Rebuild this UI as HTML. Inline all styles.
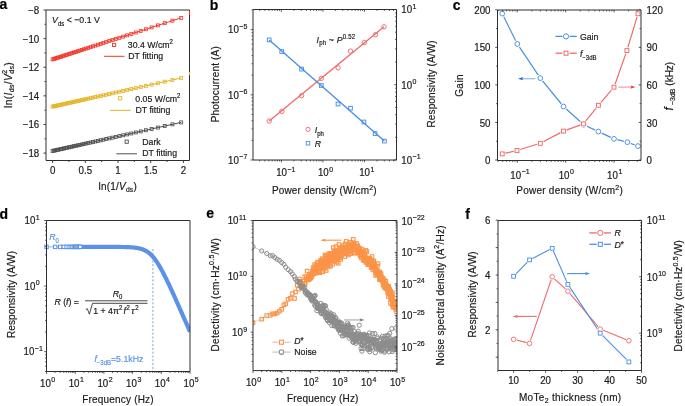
<!DOCTYPE html>
<html><head><meta charset="utf-8"><style>
html,body{margin:0;padding:0;background:#fff;width:685px;height:406px;overflow:hidden}
svg{display:block;font-family:"Liberation Sans", sans-serif;filter:blur(0.3px)}
</style></head><body>
<svg xmlns="http://www.w3.org/2000/svg" width="685" height="406" viewBox="0 0 685 406">
<rect width="685" height="406" fill="#fff"/>
<line x1="52.60" y1="59.37" x2="181.18" y2="17.87" stroke="#f2362b" stroke-width="1" />
<rect x="51.10" y="57.87" width="3.0" height="3.0" fill="none" stroke="#f2362b" stroke-width="0.8"/>
<rect x="52.42" y="57.44" width="3.0" height="3.0" fill="none" stroke="#f2362b" stroke-width="0.8"/>
<rect x="53.77" y="57.01" width="3.0" height="3.0" fill="none" stroke="#f2362b" stroke-width="0.8"/>
<rect x="55.15" y="56.56" width="3.0" height="3.0" fill="none" stroke="#f2362b" stroke-width="0.8"/>
<rect x="56.55" y="56.11" width="3.0" height="3.0" fill="none" stroke="#f2362b" stroke-width="0.8"/>
<rect x="57.99" y="55.65" width="3.0" height="3.0" fill="none" stroke="#f2362b" stroke-width="0.8"/>
<rect x="59.46" y="55.17" width="3.0" height="3.0" fill="none" stroke="#f2362b" stroke-width="0.8"/>
<rect x="60.96" y="54.69" width="3.0" height="3.0" fill="none" stroke="#f2362b" stroke-width="0.8"/>
<rect x="62.50" y="54.19" width="3.0" height="3.0" fill="none" stroke="#f2362b" stroke-width="0.8"/>
<rect x="64.08" y="53.68" width="3.0" height="3.0" fill="none" stroke="#f2362b" stroke-width="0.8"/>
<rect x="65.69" y="53.16" width="3.0" height="3.0" fill="none" stroke="#f2362b" stroke-width="0.8"/>
<rect x="67.35" y="52.63" width="3.0" height="3.0" fill="none" stroke="#f2362b" stroke-width="0.8"/>
<rect x="69.05" y="52.08" width="3.0" height="3.0" fill="none" stroke="#f2362b" stroke-width="0.8"/>
<rect x="70.79" y="51.51" width="3.0" height="3.0" fill="none" stroke="#f2362b" stroke-width="0.8"/>
<rect x="72.58" y="50.94" width="3.0" height="3.0" fill="none" stroke="#f2362b" stroke-width="0.8"/>
<rect x="74.43" y="50.34" width="3.0" height="3.0" fill="none" stroke="#f2362b" stroke-width="0.8"/>
<rect x="76.32" y="49.73" width="3.0" height="3.0" fill="none" stroke="#f2362b" stroke-width="0.8"/>
<rect x="78.27" y="49.10" width="3.0" height="3.0" fill="none" stroke="#f2362b" stroke-width="0.8"/>
<rect x="80.29" y="48.45" width="3.0" height="3.0" fill="none" stroke="#f2362b" stroke-width="0.8"/>
<rect x="82.36" y="47.78" width="3.0" height="3.0" fill="none" stroke="#f2362b" stroke-width="0.8"/>
<rect x="84.51" y="47.09" width="3.0" height="3.0" fill="none" stroke="#f2362b" stroke-width="0.8"/>
<rect x="86.73" y="46.37" width="3.0" height="3.0" fill="none" stroke="#f2362b" stroke-width="0.8"/>
<rect x="89.02" y="45.63" width="3.0" height="3.0" fill="none" stroke="#f2362b" stroke-width="0.8"/>
<rect x="91.40" y="44.86" width="3.0" height="3.0" fill="none" stroke="#f2362b" stroke-width="0.8"/>
<rect x="93.87" y="44.07" width="3.0" height="3.0" fill="none" stroke="#f2362b" stroke-width="0.8"/>
<rect x="96.43" y="43.24" width="3.0" height="3.0" fill="none" stroke="#f2362b" stroke-width="0.8"/>
<rect x="99.10" y="42.38" width="3.0" height="3.0" fill="none" stroke="#f2362b" stroke-width="0.8"/>
<rect x="101.88" y="41.48" width="3.0" height="3.0" fill="none" stroke="#f2362b" stroke-width="0.8"/>
<rect x="104.79" y="40.54" width="3.0" height="3.0" fill="none" stroke="#f2362b" stroke-width="0.8"/>
<rect x="107.83" y="39.56" width="3.0" height="3.0" fill="none" stroke="#f2362b" stroke-width="0.8"/>
<rect x="111.03" y="38.53" width="3.0" height="3.0" fill="none" stroke="#f2362b" stroke-width="0.8"/>
<rect x="114.38" y="37.45" width="3.0" height="3.0" fill="none" stroke="#f2362b" stroke-width="0.8"/>
<rect x="117.92" y="36.31" width="3.0" height="3.0" fill="none" stroke="#f2362b" stroke-width="0.8"/>
<rect x="121.65" y="35.10" width="3.0" height="3.0" fill="none" stroke="#f2362b" stroke-width="0.8"/>
<rect x="125.62" y="33.82" width="3.0" height="3.0" fill="none" stroke="#f2362b" stroke-width="0.8"/>
<rect x="129.84" y="32.46" width="3.0" height="3.0" fill="none" stroke="#f2362b" stroke-width="0.8"/>
<rect x="134.35" y="31.00" width="3.0" height="3.0" fill="none" stroke="#f2362b" stroke-width="0.8"/>
<rect x="139.20" y="29.44" width="3.0" height="3.0" fill="none" stroke="#f2362b" stroke-width="0.8"/>
<rect x="144.43" y="27.75" width="3.0" height="3.0" fill="none" stroke="#f2362b" stroke-width="0.8"/>
<rect x="150.12" y="25.91" width="3.0" height="3.0" fill="none" stroke="#f2362b" stroke-width="0.8"/>
<rect x="156.36" y="23.90" width="3.0" height="3.0" fill="none" stroke="#f2362b" stroke-width="0.8"/>
<rect x="163.25" y="21.67" width="3.0" height="3.0" fill="none" stroke="#f2362b" stroke-width="0.8"/>
<rect x="170.95" y="19.19" width="3.0" height="3.0" fill="none" stroke="#f2362b" stroke-width="0.8"/>
<rect x="179.68" y="16.37" width="3.0" height="3.0" fill="none" stroke="#f2362b" stroke-width="0.8"/>
<line x1="52.60" y1="106.59" x2="181.18" y2="78.04" stroke="#e3b323" stroke-width="1" />
<rect x="51.10" y="105.09" width="3.0" height="3.0" fill="none" stroke="#e3b323" stroke-width="0.8"/>
<rect x="52.42" y="104.80" width="3.0" height="3.0" fill="none" stroke="#e3b323" stroke-width="0.8"/>
<rect x="53.77" y="104.50" width="3.0" height="3.0" fill="none" stroke="#e3b323" stroke-width="0.8"/>
<rect x="55.15" y="104.19" width="3.0" height="3.0" fill="none" stroke="#e3b323" stroke-width="0.8"/>
<rect x="56.55" y="103.88" width="3.0" height="3.0" fill="none" stroke="#e3b323" stroke-width="0.8"/>
<rect x="57.99" y="103.56" width="3.0" height="3.0" fill="none" stroke="#e3b323" stroke-width="0.8"/>
<rect x="59.46" y="103.24" width="3.0" height="3.0" fill="none" stroke="#e3b323" stroke-width="0.8"/>
<rect x="60.96" y="102.90" width="3.0" height="3.0" fill="none" stroke="#e3b323" stroke-width="0.8"/>
<rect x="62.50" y="102.56" width="3.0" height="3.0" fill="none" stroke="#e3b323" stroke-width="0.8"/>
<rect x="64.08" y="102.21" width="3.0" height="3.0" fill="none" stroke="#e3b323" stroke-width="0.8"/>
<rect x="65.69" y="101.85" width="3.0" height="3.0" fill="none" stroke="#e3b323" stroke-width="0.8"/>
<rect x="67.35" y="101.48" width="3.0" height="3.0" fill="none" stroke="#e3b323" stroke-width="0.8"/>
<rect x="69.05" y="101.11" width="3.0" height="3.0" fill="none" stroke="#e3b323" stroke-width="0.8"/>
<rect x="70.79" y="100.72" width="3.0" height="3.0" fill="none" stroke="#e3b323" stroke-width="0.8"/>
<rect x="72.58" y="100.32" width="3.0" height="3.0" fill="none" stroke="#e3b323" stroke-width="0.8"/>
<rect x="74.43" y="99.91" width="3.0" height="3.0" fill="none" stroke="#e3b323" stroke-width="0.8"/>
<rect x="76.32" y="99.49" width="3.0" height="3.0" fill="none" stroke="#e3b323" stroke-width="0.8"/>
<rect x="78.27" y="99.06" width="3.0" height="3.0" fill="none" stroke="#e3b323" stroke-width="0.8"/>
<rect x="80.29" y="98.61" width="3.0" height="3.0" fill="none" stroke="#e3b323" stroke-width="0.8"/>
<rect x="82.36" y="98.15" width="3.0" height="3.0" fill="none" stroke="#e3b323" stroke-width="0.8"/>
<rect x="84.51" y="97.67" width="3.0" height="3.0" fill="none" stroke="#e3b323" stroke-width="0.8"/>
<rect x="86.73" y="97.18" width="3.0" height="3.0" fill="none" stroke="#e3b323" stroke-width="0.8"/>
<rect x="89.02" y="96.67" width="3.0" height="3.0" fill="none" stroke="#e3b323" stroke-width="0.8"/>
<rect x="91.40" y="96.14" width="3.0" height="3.0" fill="none" stroke="#e3b323" stroke-width="0.8"/>
<rect x="93.87" y="95.59" width="3.0" height="3.0" fill="none" stroke="#e3b323" stroke-width="0.8"/>
<rect x="96.43" y="95.02" width="3.0" height="3.0" fill="none" stroke="#e3b323" stroke-width="0.8"/>
<rect x="99.10" y="94.43" width="3.0" height="3.0" fill="none" stroke="#e3b323" stroke-width="0.8"/>
<rect x="101.88" y="93.81" width="3.0" height="3.0" fill="none" stroke="#e3b323" stroke-width="0.8"/>
<rect x="104.79" y="93.17" width="3.0" height="3.0" fill="none" stroke="#e3b323" stroke-width="0.8"/>
<rect x="107.83" y="92.49" width="3.0" height="3.0" fill="none" stroke="#e3b323" stroke-width="0.8"/>
<rect x="111.03" y="91.78" width="3.0" height="3.0" fill="none" stroke="#e3b323" stroke-width="0.8"/>
<rect x="114.38" y="91.04" width="3.0" height="3.0" fill="none" stroke="#e3b323" stroke-width="0.8"/>
<rect x="117.92" y="90.25" width="3.0" height="3.0" fill="none" stroke="#e3b323" stroke-width="0.8"/>
<rect x="121.65" y="89.42" width="3.0" height="3.0" fill="none" stroke="#e3b323" stroke-width="0.8"/>
<rect x="125.62" y="88.54" width="3.0" height="3.0" fill="none" stroke="#e3b323" stroke-width="0.8"/>
<rect x="129.84" y="87.61" width="3.0" height="3.0" fill="none" stroke="#e3b323" stroke-width="0.8"/>
<rect x="134.35" y="86.60" width="3.0" height="3.0" fill="none" stroke="#e3b323" stroke-width="0.8"/>
<rect x="139.20" y="85.53" width="3.0" height="3.0" fill="none" stroke="#e3b323" stroke-width="0.8"/>
<rect x="144.43" y="84.36" width="3.0" height="3.0" fill="none" stroke="#e3b323" stroke-width="0.8"/>
<rect x="150.12" y="83.10" width="3.0" height="3.0" fill="none" stroke="#e3b323" stroke-width="0.8"/>
<rect x="156.36" y="81.72" width="3.0" height="3.0" fill="none" stroke="#e3b323" stroke-width="0.8"/>
<rect x="163.25" y="80.19" width="3.0" height="3.0" fill="none" stroke="#e3b323" stroke-width="0.8"/>
<rect x="170.95" y="78.47" width="3.0" height="3.0" fill="none" stroke="#e3b323" stroke-width="0.8"/>
<rect x="179.68" y="76.54" width="3.0" height="3.0" fill="none" stroke="#e3b323" stroke-width="0.8"/>
<line x1="52.60" y1="150.95" x2="181.18" y2="122.40" stroke="#4d4d4d" stroke-width="1" />
<rect x="51.10" y="149.45" width="3.0" height="3.0" fill="none" stroke="#4d4d4d" stroke-width="0.8"/>
<rect x="52.42" y="149.16" width="3.0" height="3.0" fill="none" stroke="#4d4d4d" stroke-width="0.8"/>
<rect x="53.77" y="148.86" width="3.0" height="3.0" fill="none" stroke="#4d4d4d" stroke-width="0.8"/>
<rect x="55.15" y="148.55" width="3.0" height="3.0" fill="none" stroke="#4d4d4d" stroke-width="0.8"/>
<rect x="56.55" y="148.24" width="3.0" height="3.0" fill="none" stroke="#4d4d4d" stroke-width="0.8"/>
<rect x="57.99" y="147.92" width="3.0" height="3.0" fill="none" stroke="#4d4d4d" stroke-width="0.8"/>
<rect x="59.46" y="147.60" width="3.0" height="3.0" fill="none" stroke="#4d4d4d" stroke-width="0.8"/>
<rect x="60.96" y="147.26" width="3.0" height="3.0" fill="none" stroke="#4d4d4d" stroke-width="0.8"/>
<rect x="62.50" y="146.92" width="3.0" height="3.0" fill="none" stroke="#4d4d4d" stroke-width="0.8"/>
<rect x="64.08" y="146.57" width="3.0" height="3.0" fill="none" stroke="#4d4d4d" stroke-width="0.8"/>
<rect x="65.69" y="146.21" width="3.0" height="3.0" fill="none" stroke="#4d4d4d" stroke-width="0.8"/>
<rect x="67.35" y="145.84" width="3.0" height="3.0" fill="none" stroke="#4d4d4d" stroke-width="0.8"/>
<rect x="69.05" y="145.47" width="3.0" height="3.0" fill="none" stroke="#4d4d4d" stroke-width="0.8"/>
<rect x="70.79" y="145.08" width="3.0" height="3.0" fill="none" stroke="#4d4d4d" stroke-width="0.8"/>
<rect x="72.58" y="144.68" width="3.0" height="3.0" fill="none" stroke="#4d4d4d" stroke-width="0.8"/>
<rect x="74.43" y="144.27" width="3.0" height="3.0" fill="none" stroke="#4d4d4d" stroke-width="0.8"/>
<rect x="76.32" y="143.85" width="3.0" height="3.0" fill="none" stroke="#4d4d4d" stroke-width="0.8"/>
<rect x="78.27" y="143.42" width="3.0" height="3.0" fill="none" stroke="#4d4d4d" stroke-width="0.8"/>
<rect x="80.29" y="142.97" width="3.0" height="3.0" fill="none" stroke="#4d4d4d" stroke-width="0.8"/>
<rect x="82.36" y="142.51" width="3.0" height="3.0" fill="none" stroke="#4d4d4d" stroke-width="0.8"/>
<rect x="84.51" y="142.03" width="3.0" height="3.0" fill="none" stroke="#4d4d4d" stroke-width="0.8"/>
<rect x="86.73" y="141.54" width="3.0" height="3.0" fill="none" stroke="#4d4d4d" stroke-width="0.8"/>
<rect x="89.02" y="141.03" width="3.0" height="3.0" fill="none" stroke="#4d4d4d" stroke-width="0.8"/>
<rect x="91.40" y="140.50" width="3.0" height="3.0" fill="none" stroke="#4d4d4d" stroke-width="0.8"/>
<rect x="93.87" y="139.96" width="3.0" height="3.0" fill="none" stroke="#4d4d4d" stroke-width="0.8"/>
<rect x="96.43" y="139.39" width="3.0" height="3.0" fill="none" stroke="#4d4d4d" stroke-width="0.8"/>
<rect x="99.10" y="138.79" width="3.0" height="3.0" fill="none" stroke="#4d4d4d" stroke-width="0.8"/>
<rect x="101.88" y="138.17" width="3.0" height="3.0" fill="none" stroke="#4d4d4d" stroke-width="0.8"/>
<rect x="104.79" y="137.53" width="3.0" height="3.0" fill="none" stroke="#4d4d4d" stroke-width="0.8"/>
<rect x="107.83" y="136.85" width="3.0" height="3.0" fill="none" stroke="#4d4d4d" stroke-width="0.8"/>
<rect x="111.03" y="136.14" width="3.0" height="3.0" fill="none" stroke="#4d4d4d" stroke-width="0.8"/>
<rect x="114.38" y="135.40" width="3.0" height="3.0" fill="none" stroke="#4d4d4d" stroke-width="0.8"/>
<rect x="117.92" y="134.61" width="3.0" height="3.0" fill="none" stroke="#4d4d4d" stroke-width="0.8"/>
<rect x="121.65" y="133.78" width="3.0" height="3.0" fill="none" stroke="#4d4d4d" stroke-width="0.8"/>
<rect x="125.62" y="132.90" width="3.0" height="3.0" fill="none" stroke="#4d4d4d" stroke-width="0.8"/>
<rect x="129.84" y="131.97" width="3.0" height="3.0" fill="none" stroke="#4d4d4d" stroke-width="0.8"/>
<rect x="134.35" y="130.96" width="3.0" height="3.0" fill="none" stroke="#4d4d4d" stroke-width="0.8"/>
<rect x="139.20" y="129.89" width="3.0" height="3.0" fill="none" stroke="#4d4d4d" stroke-width="0.8"/>
<rect x="144.43" y="128.73" width="3.0" height="3.0" fill="none" stroke="#4d4d4d" stroke-width="0.8"/>
<rect x="150.12" y="127.46" width="3.0" height="3.0" fill="none" stroke="#4d4d4d" stroke-width="0.8"/>
<rect x="156.36" y="126.08" width="3.0" height="3.0" fill="none" stroke="#4d4d4d" stroke-width="0.8"/>
<rect x="163.25" y="124.55" width="3.0" height="3.0" fill="none" stroke="#4d4d4d" stroke-width="0.8"/>
<rect x="170.95" y="122.84" width="3.0" height="3.0" fill="none" stroke="#4d4d4d" stroke-width="0.8"/>
<rect x="179.68" y="120.90" width="3.0" height="3.0" fill="none" stroke="#4d4d4d" stroke-width="0.8"/>
<path d="M46.00,10.00 H189.50 V160.50 H46.00 Z" fill="none" stroke="#2e2e2e" stroke-width="1" stroke-linejoin="miter"/>
<line x1="189.50" y1="11.00" x2="189.50" y2="15.00" stroke="#f2362b" stroke-width="1.2" />
<line x1="189.50" y1="72.00" x2="189.50" y2="75.20" stroke="#e3b323" stroke-width="1.2" />
<line x1="43.50" y1="153.10" x2="46.00" y2="153.10" stroke="#2e2e2e" stroke-width="0.9" />
<line x1="44.50" y1="138.79" x2="46.00" y2="138.79" stroke="#2e2e2e" stroke-width="0.9" />
<line x1="43.50" y1="124.48" x2="46.00" y2="124.48" stroke="#2e2e2e" stroke-width="0.9" />
<line x1="44.50" y1="110.17" x2="46.00" y2="110.17" stroke="#2e2e2e" stroke-width="0.9" />
<line x1="43.50" y1="95.86" x2="46.00" y2="95.86" stroke="#2e2e2e" stroke-width="0.9" />
<line x1="44.50" y1="81.55" x2="46.00" y2="81.55" stroke="#2e2e2e" stroke-width="0.9" />
<line x1="43.50" y1="67.24" x2="46.00" y2="67.24" stroke="#2e2e2e" stroke-width="0.9" />
<line x1="44.50" y1="52.93" x2="46.00" y2="52.93" stroke="#2e2e2e" stroke-width="0.9" />
<line x1="43.50" y1="38.62" x2="46.00" y2="38.62" stroke="#2e2e2e" stroke-width="0.9" />
<line x1="44.50" y1="24.31" x2="46.00" y2="24.31" stroke="#2e2e2e" stroke-width="0.9" />
<line x1="43.50" y1="10.00" x2="46.00" y2="10.00" stroke="#2e2e2e" stroke-width="0.9" />
<g transform="translate(0,13.90) scale(1,1.05) translate(0,-13.90)"><text stroke="#1a1a1a" stroke-width="0.18" x="39.30" y="13.90" font-size="9.75" text-anchor="end" fill="#1a1a1a" >−8</text></g>
<g transform="translate(0,42.52) scale(1,1.05) translate(0,-42.52)"><text stroke="#1a1a1a" stroke-width="0.18" x="39.30" y="42.52" font-size="9.75" text-anchor="end" fill="#1a1a1a" >−10</text></g>
<g transform="translate(0,71.14) scale(1,1.05) translate(0,-71.14)"><text stroke="#1a1a1a" stroke-width="0.18" x="39.30" y="71.14" font-size="9.75" text-anchor="end" fill="#1a1a1a" >−12</text></g>
<g transform="translate(0,99.76) scale(1,1.05) translate(0,-99.76)"><text stroke="#1a1a1a" stroke-width="0.18" x="39.30" y="99.76" font-size="9.75" text-anchor="end" fill="#1a1a1a" >−14</text></g>
<g transform="translate(0,128.38) scale(1,1.05) translate(0,-128.38)"><text stroke="#1a1a1a" stroke-width="0.18" x="39.30" y="128.38" font-size="9.75" text-anchor="end" fill="#1a1a1a" >−16</text></g>
<g transform="translate(0,157.00) scale(1,1.05) translate(0,-157.00)"><text stroke="#1a1a1a" stroke-width="0.18" x="39.30" y="157.00" font-size="9.75" text-anchor="end" fill="#1a1a1a" >−18</text></g>
<line x1="52.60" y1="160.50" x2="52.60" y2="163.00" stroke="#2e2e2e" stroke-width="0.9" />
<line x1="68.95" y1="160.50" x2="68.95" y2="162.00" stroke="#2e2e2e" stroke-width="0.9" />
<line x1="85.30" y1="160.50" x2="85.30" y2="163.00" stroke="#2e2e2e" stroke-width="0.9" />
<line x1="101.65" y1="160.50" x2="101.65" y2="162.00" stroke="#2e2e2e" stroke-width="0.9" />
<line x1="118.00" y1="160.50" x2="118.00" y2="163.00" stroke="#2e2e2e" stroke-width="0.9" />
<line x1="134.35" y1="160.50" x2="134.35" y2="162.00" stroke="#2e2e2e" stroke-width="0.9" />
<line x1="150.70" y1="160.50" x2="150.70" y2="163.00" stroke="#2e2e2e" stroke-width="0.9" />
<line x1="167.05" y1="160.50" x2="167.05" y2="162.00" stroke="#2e2e2e" stroke-width="0.9" />
<line x1="183.40" y1="160.50" x2="183.40" y2="163.00" stroke="#2e2e2e" stroke-width="0.9" />
<g transform="translate(0,173.80) scale(1,1.05) translate(0,-173.80)"><text stroke="#1a1a1a" stroke-width="0.18" x="52.60" y="173.80" font-size="9.75" text-anchor="middle" fill="#1a1a1a" >0</text></g>
<g transform="translate(0,173.80) scale(1,1.05) translate(0,-173.80)"><text stroke="#1a1a1a" stroke-width="0.18" x="85.30" y="173.80" font-size="9.75" text-anchor="middle" fill="#1a1a1a" >0.5</text></g>
<g transform="translate(0,173.80) scale(1,1.05) translate(0,-173.80)"><text stroke="#1a1a1a" stroke-width="0.18" x="118.00" y="173.80" font-size="9.75" text-anchor="middle" fill="#1a1a1a" >1</text></g>
<g transform="translate(0,173.80) scale(1,1.05) translate(0,-173.80)"><text stroke="#1a1a1a" stroke-width="0.18" x="150.70" y="173.80" font-size="9.75" text-anchor="middle" fill="#1a1a1a" >1.5</text></g>
<g transform="translate(0,173.80) scale(1,1.05) translate(0,-173.80)"><text stroke="#1a1a1a" stroke-width="0.18" x="183.40" y="173.80" font-size="9.75" text-anchor="middle" fill="#1a1a1a" >2</text></g>
<g transform="translate(0,190.00) scale(1,1.05) translate(0,-190.00)"><text stroke="#1a1a1a" stroke-width="0.18" x="117.8" y="190" font-size="10" text-anchor="middle" letter-spacing="0.2" fill="#1a1a1a">ln(1/<tspan font-style="italic">V</tspan><tspan font-size="6.8" dy="2.3">ds</tspan><tspan dy="-2.3">)</tspan></text></g>
<text stroke="#1a1a1a" stroke-width="0.18" transform="translate(11.6,85.0) rotate(-90) scale(1,1.05)" font-size="10.3" text-anchor="middle" letter-spacing="0.35" fill="#1a1a1a">ln(<tspan font-style="italic">I</tspan><tspan font-size="7" dy="2.4">ds</tspan><tspan dy="-2.4">/</tspan><tspan font-style="italic">V</tspan><tspan font-size="7" dy="2.4">ds</tspan><tspan font-size="7" dx="-8.1" dy="-7.2">2</tspan><tspan dx="3.6" dy="4.8">)</tspan></text>
<g transform="translate(0,23.10) scale(1,1.05) translate(0,-23.10)"><text stroke="#1a1a1a" stroke-width="0.18" x="52.1" y="23.1" font-size="8.75" fill="#1a1a1a"><tspan font-style="italic">V</tspan><tspan font-size="6" dy="2.5">ds</tspan><tspan dy="-2.5"> &lt; −0.1 V</tspan></text></g>
<rect x="112.50" y="43.30" width="3.2" height="3.2" fill="none" stroke="#f2362b" stroke-width="0.9"/>
<line x1="104.10" y1="56.30" x2="124.50" y2="56.30" stroke="#f2362b" stroke-width="1" />
<g transform="translate(0,47.60) scale(1,1.05) translate(0,-47.60)"><text stroke="#1a1a1a" stroke-width="0.18" x="127.8" y="47.6" font-size="8.75" fill="#1a1a1a">30.4 W/cm<tspan font-size="6" dy="-3.5">2</tspan></text></g>
<g transform="translate(0,59.30) scale(1,1.05) translate(0,-59.30)"><text stroke="#1a1a1a" stroke-width="0.18" x="128.30" y="59.30" font-size="8.75" fill="#1a1a1a" >DT fitting</text></g>
<rect x="118.60" y="96.70" width="3.2" height="3.2" fill="none" stroke="#e3b323" stroke-width="0.9"/>
<line x1="110.00" y1="110.30" x2="130.70" y2="110.30" stroke="#e3b323" stroke-width="1" />
<g transform="translate(0,102.00) scale(1,1.05) translate(0,-102.00)"><text stroke="#1a1a1a" stroke-width="0.18" x="135.3" y="102" font-size="8.75" fill="#1a1a1a">0.05 W/cm<tspan font-size="6" dy="-3.5">2</tspan></text></g>
<g transform="translate(0,113.30) scale(1,1.05) translate(0,-113.30)"><text stroke="#1a1a1a" stroke-width="0.18" x="135.50" y="113.30" font-size="8.75" fill="#1a1a1a" >DT fitting</text></g>
<rect x="125.10" y="140.10" width="3.2" height="3.2" fill="none" stroke="#4d4d4d" stroke-width="0.9"/>
<line x1="116.40" y1="153.80" x2="137.00" y2="153.80" stroke="#4d4d4d" stroke-width="1" />
<g transform="translate(0,144.80) scale(1,1.05) translate(0,-144.80)"><text stroke="#1a1a1a" stroke-width="0.18" x="142.20" y="144.80" font-size="8.75" fill="#1a1a1a" >Dark</text></g>
<g transform="translate(0,156.40) scale(1,1.05) translate(0,-156.40)"><text stroke="#1a1a1a" stroke-width="0.18" x="142.20" y="156.40" font-size="8.75" fill="#1a1a1a" >DT fitting</text></g>
<g transform="translate(0,9.00) scale(1,1.05) translate(0,-9.00)"><text stroke="#000" stroke-width="0.18" x="-0.5" y="9" font-size="14" font-weight="bold" fill="#000">a</text></g>
<line x1="269.20" y1="121.00" x2="384.00" y2="26.80" stroke="#f06a6a" stroke-width="1.35" />
<circle cx="269.20" cy="121.00" r="2.2" fill="none" stroke="#f06a6a" stroke-width="0.95"/>
<circle cx="281.80" cy="111.40" r="2.2" fill="none" stroke="#f06a6a" stroke-width="0.95"/>
<circle cx="301.60" cy="95.70" r="2.2" fill="none" stroke="#f06a6a" stroke-width="0.95"/>
<circle cx="321.30" cy="78.40" r="2.2" fill="none" stroke="#f06a6a" stroke-width="0.95"/>
<circle cx="338.10" cy="67.80" r="2.2" fill="none" stroke="#f06a6a" stroke-width="0.95"/>
<circle cx="350.50" cy="51.10" r="2.2" fill="none" stroke="#f06a6a" stroke-width="0.95"/>
<circle cx="364.30" cy="42.60" r="2.2" fill="none" stroke="#f06a6a" stroke-width="0.95"/>
<circle cx="375.50" cy="34.70" r="2.2" fill="none" stroke="#f06a6a" stroke-width="0.95"/>
<circle cx="384.00" cy="26.80" r="2.2" fill="none" stroke="#f06a6a" stroke-width="0.95"/>
<line x1="269.20" y1="39.90" x2="384.40" y2="141.10" stroke="#4a8fe3" stroke-width="1.35" />
<rect x="267.35" y="38.05" width="3.7" height="3.7" fill="none" stroke="#4a8fe3" stroke-width="0.95"/>
<rect x="279.95" y="49.75" width="3.7" height="3.7" fill="none" stroke="#4a8fe3" stroke-width="0.95"/>
<rect x="299.75" y="67.25" width="3.7" height="3.7" fill="none" stroke="#4a8fe3" stroke-width="0.95"/>
<rect x="319.45" y="83.65" width="3.7" height="3.7" fill="none" stroke="#4a8fe3" stroke-width="0.95"/>
<rect x="336.15" y="102.15" width="3.7" height="3.7" fill="none" stroke="#4a8fe3" stroke-width="0.95"/>
<rect x="348.65" y="106.35" width="3.7" height="3.7" fill="none" stroke="#4a8fe3" stroke-width="0.95"/>
<rect x="362.05" y="120.15" width="3.7" height="3.7" fill="none" stroke="#4a8fe3" stroke-width="0.95"/>
<rect x="373.25" y="131.75" width="3.7" height="3.7" fill="none" stroke="#4a8fe3" stroke-width="0.95"/>
<rect x="382.55" y="139.25" width="3.7" height="3.7" fill="none" stroke="#4a8fe3" stroke-width="0.95"/>
<path d="M253.00,9.50 H396.50 V160.00 H253.00 Z" fill="none" stroke="#2e2e2e" stroke-width="1" stroke-linejoin="miter"/>
<line x1="259.67" y1="160.00" x2="259.67" y2="161.40" stroke="#2e2e2e" stroke-width="0.8" />
<line x1="259.67" y1="9.50" x2="259.67" y2="10.90" stroke="#2e2e2e" stroke-width="0.8" />
<line x1="264.87" y1="160.00" x2="264.87" y2="161.40" stroke="#2e2e2e" stroke-width="0.8" />
<line x1="264.87" y1="9.50" x2="264.87" y2="10.90" stroke="#2e2e2e" stroke-width="0.8" />
<line x1="268.89" y1="160.00" x2="268.89" y2="161.40" stroke="#2e2e2e" stroke-width="0.8" />
<line x1="268.89" y1="9.50" x2="268.89" y2="10.90" stroke="#2e2e2e" stroke-width="0.8" />
<line x1="272.18" y1="160.00" x2="272.18" y2="161.40" stroke="#2e2e2e" stroke-width="0.8" />
<line x1="272.18" y1="9.50" x2="272.18" y2="10.90" stroke="#2e2e2e" stroke-width="0.8" />
<line x1="274.96" y1="160.00" x2="274.96" y2="161.40" stroke="#2e2e2e" stroke-width="0.8" />
<line x1="274.96" y1="9.50" x2="274.96" y2="10.90" stroke="#2e2e2e" stroke-width="0.8" />
<line x1="277.37" y1="160.00" x2="277.37" y2="161.40" stroke="#2e2e2e" stroke-width="0.8" />
<line x1="277.37" y1="9.50" x2="277.37" y2="10.90" stroke="#2e2e2e" stroke-width="0.8" />
<line x1="279.50" y1="160.00" x2="279.50" y2="161.40" stroke="#2e2e2e" stroke-width="0.8" />
<line x1="279.50" y1="9.50" x2="279.50" y2="10.90" stroke="#2e2e2e" stroke-width="0.8" />
<line x1="281.40" y1="160.00" x2="281.40" y2="162.30" stroke="#2e2e2e" stroke-width="0.8" />
<line x1="281.40" y1="9.50" x2="281.40" y2="11.80" stroke="#2e2e2e" stroke-width="0.8" />
<line x1="293.91" y1="160.00" x2="293.91" y2="161.40" stroke="#2e2e2e" stroke-width="0.8" />
<line x1="293.91" y1="9.50" x2="293.91" y2="10.90" stroke="#2e2e2e" stroke-width="0.8" />
<line x1="301.22" y1="160.00" x2="301.22" y2="161.40" stroke="#2e2e2e" stroke-width="0.8" />
<line x1="301.22" y1="9.50" x2="301.22" y2="10.90" stroke="#2e2e2e" stroke-width="0.8" />
<line x1="306.42" y1="160.00" x2="306.42" y2="161.40" stroke="#2e2e2e" stroke-width="0.8" />
<line x1="306.42" y1="9.50" x2="306.42" y2="10.90" stroke="#2e2e2e" stroke-width="0.8" />
<line x1="310.44" y1="160.00" x2="310.44" y2="161.40" stroke="#2e2e2e" stroke-width="0.8" />
<line x1="310.44" y1="9.50" x2="310.44" y2="10.90" stroke="#2e2e2e" stroke-width="0.8" />
<line x1="313.73" y1="160.00" x2="313.73" y2="161.40" stroke="#2e2e2e" stroke-width="0.8" />
<line x1="313.73" y1="9.50" x2="313.73" y2="10.90" stroke="#2e2e2e" stroke-width="0.8" />
<line x1="316.51" y1="160.00" x2="316.51" y2="161.40" stroke="#2e2e2e" stroke-width="0.8" />
<line x1="316.51" y1="9.50" x2="316.51" y2="10.90" stroke="#2e2e2e" stroke-width="0.8" />
<line x1="318.92" y1="160.00" x2="318.92" y2="161.40" stroke="#2e2e2e" stroke-width="0.8" />
<line x1="318.92" y1="9.50" x2="318.92" y2="10.90" stroke="#2e2e2e" stroke-width="0.8" />
<line x1="321.05" y1="160.00" x2="321.05" y2="161.40" stroke="#2e2e2e" stroke-width="0.8" />
<line x1="321.05" y1="9.50" x2="321.05" y2="10.90" stroke="#2e2e2e" stroke-width="0.8" />
<line x1="322.95" y1="160.00" x2="322.95" y2="162.30" stroke="#2e2e2e" stroke-width="0.8" />
<line x1="322.95" y1="9.50" x2="322.95" y2="11.80" stroke="#2e2e2e" stroke-width="0.8" />
<line x1="335.46" y1="160.00" x2="335.46" y2="161.40" stroke="#2e2e2e" stroke-width="0.8" />
<line x1="335.46" y1="9.50" x2="335.46" y2="10.90" stroke="#2e2e2e" stroke-width="0.8" />
<line x1="342.77" y1="160.00" x2="342.77" y2="161.40" stroke="#2e2e2e" stroke-width="0.8" />
<line x1="342.77" y1="9.50" x2="342.77" y2="10.90" stroke="#2e2e2e" stroke-width="0.8" />
<line x1="347.97" y1="160.00" x2="347.97" y2="161.40" stroke="#2e2e2e" stroke-width="0.8" />
<line x1="347.97" y1="9.50" x2="347.97" y2="10.90" stroke="#2e2e2e" stroke-width="0.8" />
<line x1="351.99" y1="160.00" x2="351.99" y2="161.40" stroke="#2e2e2e" stroke-width="0.8" />
<line x1="351.99" y1="9.50" x2="351.99" y2="10.90" stroke="#2e2e2e" stroke-width="0.8" />
<line x1="355.28" y1="160.00" x2="355.28" y2="161.40" stroke="#2e2e2e" stroke-width="0.8" />
<line x1="355.28" y1="9.50" x2="355.28" y2="10.90" stroke="#2e2e2e" stroke-width="0.8" />
<line x1="358.06" y1="160.00" x2="358.06" y2="161.40" stroke="#2e2e2e" stroke-width="0.8" />
<line x1="358.06" y1="9.50" x2="358.06" y2="10.90" stroke="#2e2e2e" stroke-width="0.8" />
<line x1="360.47" y1="160.00" x2="360.47" y2="161.40" stroke="#2e2e2e" stroke-width="0.8" />
<line x1="360.47" y1="9.50" x2="360.47" y2="10.90" stroke="#2e2e2e" stroke-width="0.8" />
<line x1="362.60" y1="160.00" x2="362.60" y2="161.40" stroke="#2e2e2e" stroke-width="0.8" />
<line x1="362.60" y1="9.50" x2="362.60" y2="10.90" stroke="#2e2e2e" stroke-width="0.8" />
<line x1="364.50" y1="160.00" x2="364.50" y2="162.30" stroke="#2e2e2e" stroke-width="0.8" />
<line x1="364.50" y1="9.50" x2="364.50" y2="11.80" stroke="#2e2e2e" stroke-width="0.8" />
<line x1="377.01" y1="160.00" x2="377.01" y2="161.40" stroke="#2e2e2e" stroke-width="0.8" />
<line x1="377.01" y1="9.50" x2="377.01" y2="10.90" stroke="#2e2e2e" stroke-width="0.8" />
<line x1="384.32" y1="160.00" x2="384.32" y2="161.40" stroke="#2e2e2e" stroke-width="0.8" />
<line x1="384.32" y1="9.50" x2="384.32" y2="10.90" stroke="#2e2e2e" stroke-width="0.8" />
<line x1="389.52" y1="160.00" x2="389.52" y2="161.40" stroke="#2e2e2e" stroke-width="0.8" />
<line x1="389.52" y1="9.50" x2="389.52" y2="10.90" stroke="#2e2e2e" stroke-width="0.8" />
<line x1="393.54" y1="160.00" x2="393.54" y2="161.40" stroke="#2e2e2e" stroke-width="0.8" />
<line x1="393.54" y1="9.50" x2="393.54" y2="10.90" stroke="#2e2e2e" stroke-width="0.8" />
<g transform="translate(0,176.30) scale(1,1.05) translate(0,-176.30)"><text stroke="#1a1a1a" stroke-width="0.18" x="276.20" y="176.30" font-size="9.75" fill="#1a1a1a">10<tspan font-size="7.0" dx="0.5" dy="-4.2">−1</tspan></text></g>
<g transform="translate(0,176.30) scale(1,1.05) translate(0,-176.30)"><text stroke="#1a1a1a" stroke-width="0.18" x="317.90" y="176.30" font-size="9.75" fill="#1a1a1a">10<tspan font-size="7.0" dx="0.5" dy="-4.2">0</tspan></text></g>
<g transform="translate(0,176.30) scale(1,1.05) translate(0,-176.30)"><text stroke="#1a1a1a" stroke-width="0.18" x="359.20" y="176.30" font-size="9.75" fill="#1a1a1a">10<tspan font-size="7.0" dx="0.5" dy="-4.2">1</tspan></text></g>
<line x1="250.70" y1="160.00" x2="253.00" y2="160.00" stroke="#2e2e2e" stroke-width="0.8" />
<line x1="251.60" y1="140.37" x2="253.00" y2="140.37" stroke="#2e2e2e" stroke-width="0.8" />
<line x1="251.60" y1="128.89" x2="253.00" y2="128.89" stroke="#2e2e2e" stroke-width="0.8" />
<line x1="251.60" y1="120.75" x2="253.00" y2="120.75" stroke="#2e2e2e" stroke-width="0.8" />
<line x1="251.60" y1="114.43" x2="253.00" y2="114.43" stroke="#2e2e2e" stroke-width="0.8" />
<line x1="251.60" y1="109.26" x2="253.00" y2="109.26" stroke="#2e2e2e" stroke-width="0.8" />
<line x1="251.60" y1="104.90" x2="253.00" y2="104.90" stroke="#2e2e2e" stroke-width="0.8" />
<line x1="251.60" y1="101.12" x2="253.00" y2="101.12" stroke="#2e2e2e" stroke-width="0.8" />
<line x1="251.60" y1="97.78" x2="253.00" y2="97.78" stroke="#2e2e2e" stroke-width="0.8" />
<line x1="250.70" y1="94.80" x2="253.00" y2="94.80" stroke="#2e2e2e" stroke-width="0.8" />
<line x1="251.60" y1="75.17" x2="253.00" y2="75.17" stroke="#2e2e2e" stroke-width="0.8" />
<line x1="251.60" y1="63.69" x2="253.00" y2="63.69" stroke="#2e2e2e" stroke-width="0.8" />
<line x1="251.60" y1="55.55" x2="253.00" y2="55.55" stroke="#2e2e2e" stroke-width="0.8" />
<line x1="251.60" y1="49.23" x2="253.00" y2="49.23" stroke="#2e2e2e" stroke-width="0.8" />
<line x1="251.60" y1="44.06" x2="253.00" y2="44.06" stroke="#2e2e2e" stroke-width="0.8" />
<line x1="251.60" y1="39.70" x2="253.00" y2="39.70" stroke="#2e2e2e" stroke-width="0.8" />
<line x1="251.60" y1="35.92" x2="253.00" y2="35.92" stroke="#2e2e2e" stroke-width="0.8" />
<line x1="251.60" y1="32.58" x2="253.00" y2="32.58" stroke="#2e2e2e" stroke-width="0.8" />
<line x1="250.70" y1="29.60" x2="253.00" y2="29.60" stroke="#2e2e2e" stroke-width="0.8" />
<line x1="251.60" y1="9.97" x2="253.00" y2="9.97" stroke="#2e2e2e" stroke-width="0.8" />
<g transform="translate(0,33.50) scale(1,1.05) translate(0,-33.50)"><text stroke="#1a1a1a" stroke-width="0.18" x="228.00" y="33.50" font-size="9.75" fill="#1a1a1a">10<tspan font-size="7.0" dx="0.5" dy="-4.2">−5</tspan></text></g>
<g transform="translate(0,98.70) scale(1,1.05) translate(0,-98.70)"><text stroke="#1a1a1a" stroke-width="0.18" x="228.00" y="98.70" font-size="9.75" fill="#1a1a1a">10<tspan font-size="7.0" dx="0.5" dy="-4.2">−6</tspan></text></g>
<g transform="translate(0,163.90) scale(1,1.05) translate(0,-163.90)"><text stroke="#1a1a1a" stroke-width="0.18" x="228.00" y="163.90" font-size="9.75" fill="#1a1a1a">10<tspan font-size="7.0" dx="0.5" dy="-4.2">−7</tspan></text></g>
<line x1="394.20" y1="160.00" x2="396.50" y2="160.00" stroke="#2e2e2e" stroke-width="0.8" />
<line x1="395.10" y1="137.35" x2="396.50" y2="137.35" stroke="#2e2e2e" stroke-width="0.8" />
<line x1="395.10" y1="124.10" x2="396.50" y2="124.10" stroke="#2e2e2e" stroke-width="0.8" />
<line x1="395.10" y1="114.69" x2="396.50" y2="114.69" stroke="#2e2e2e" stroke-width="0.8" />
<line x1="395.10" y1="107.40" x2="396.50" y2="107.40" stroke="#2e2e2e" stroke-width="0.8" />
<line x1="395.10" y1="101.44" x2="396.50" y2="101.44" stroke="#2e2e2e" stroke-width="0.8" />
<line x1="395.10" y1="96.41" x2="396.50" y2="96.41" stroke="#2e2e2e" stroke-width="0.8" />
<line x1="395.10" y1="92.04" x2="396.50" y2="92.04" stroke="#2e2e2e" stroke-width="0.8" />
<line x1="395.10" y1="88.19" x2="396.50" y2="88.19" stroke="#2e2e2e" stroke-width="0.8" />
<line x1="394.20" y1="84.75" x2="396.50" y2="84.75" stroke="#2e2e2e" stroke-width="0.8" />
<line x1="395.10" y1="62.10" x2="396.50" y2="62.10" stroke="#2e2e2e" stroke-width="0.8" />
<line x1="395.10" y1="48.85" x2="396.50" y2="48.85" stroke="#2e2e2e" stroke-width="0.8" />
<line x1="395.10" y1="39.44" x2="396.50" y2="39.44" stroke="#2e2e2e" stroke-width="0.8" />
<line x1="395.10" y1="32.15" x2="396.50" y2="32.15" stroke="#2e2e2e" stroke-width="0.8" />
<line x1="395.10" y1="26.19" x2="396.50" y2="26.19" stroke="#2e2e2e" stroke-width="0.8" />
<line x1="395.10" y1="21.16" x2="396.50" y2="21.16" stroke="#2e2e2e" stroke-width="0.8" />
<line x1="395.10" y1="16.79" x2="396.50" y2="16.79" stroke="#2e2e2e" stroke-width="0.8" />
<line x1="395.10" y1="12.94" x2="396.50" y2="12.94" stroke="#2e2e2e" stroke-width="0.8" />
<line x1="394.20" y1="9.50" x2="396.50" y2="9.50" stroke="#2e2e2e" stroke-width="0.8" />
<g transform="translate(0,13.40) scale(1,1.05) translate(0,-13.40)"><text stroke="#1a1a1a" stroke-width="0.18" x="401.30" y="13.40" font-size="9.75" fill="#1a1a1a">10<tspan font-size="7.0" dx="0.5" dy="-4.2">1</tspan></text></g>
<g transform="translate(0,88.65) scale(1,1.05) translate(0,-88.65)"><text stroke="#1a1a1a" stroke-width="0.18" x="401.30" y="88.65" font-size="9.75" fill="#1a1a1a">10<tspan font-size="7.0" dx="0.5" dy="-4.2">0</tspan></text></g>
<g transform="translate(0,163.90) scale(1,1.05) translate(0,-163.90)"><text stroke="#1a1a1a" stroke-width="0.18" x="401.30" y="163.90" font-size="9.75" fill="#1a1a1a">10<tspan font-size="7.0" dx="0.5" dy="-4.2">−1</tspan></text></g>
<text stroke="#1a1a1a" stroke-width="0.18" transform="translate(219.30,84.20) rotate(-90) scale(1,1.05)" font-size="10" text-anchor="middle" letter-spacing="0.18" fill="#1a1a1a">Photocurrent (A)</text>
<text stroke="#1a1a1a" stroke-width="0.18" transform="translate(434.80,83.90) rotate(-90) scale(1,1.05)" font-size="10" text-anchor="middle" letter-spacing="0.12" fill="#1a1a1a">Responsivity (A/W)</text>
<g transform="translate(0,193.80) scale(1,1.05) translate(0,-193.80)"><text stroke="#1a1a1a" stroke-width="0.18" x="271.9" y="193.8" font-size="10" letter-spacing="0.15" fill="#1a1a1a">Power density (W/cm<tspan font-size="7.0" dy="-4">2</tspan><tspan dy="4">)</tspan></text></g>
<g transform="translate(0,42.60) scale(1,1.05) translate(0,-42.60)"><text stroke="#1a1a1a" stroke-width="0.18" x="316.5" y="42.6" font-size="8.75" letter-spacing="0.2" fill="#1a1a1a"><tspan font-style="italic">I</tspan><tspan font-size="6" dy="2.3">ph</tspan><tspan dy="-2.3"> ~ </tspan><tspan font-style="italic">P</tspan><tspan font-size="6" dy="-3.6">0.52</tspan></text></g>
<circle cx="308.00" cy="129.40" r="2.1" fill="#fff" stroke="#f06a6a" stroke-width="0.9"/>
<g transform="translate(0,133.40) scale(1,1.05) translate(0,-133.40)"><text stroke="#1a1a1a" stroke-width="0.18" x="314.8" y="133.4" font-size="8.75" fill="#1a1a1a"><tspan font-style="italic">I</tspan><tspan font-size="6" dy="2.3">ph</tspan></text></g>
<rect x="306.20" y="141.40" width="3.6" height="3.6" fill="#fff" stroke="#4a8fe3" stroke-width="0.9"/>
<g transform="translate(0,146.60) scale(1,1.05) translate(0,-146.60)"><text stroke="#1a1a1a" stroke-width="0.18" x="314.8" y="146.6" font-size="8.75" fill="#1a1a1a" font-style="italic">R</text></g>
<g transform="translate(0,10.30) scale(1,1.05) translate(0,-10.30)"><text stroke="#000" stroke-width="0.18" x="209.8" y="10.3" font-size="14" font-weight="bold" fill="#000">b</text></g>
<polyline points="502.20,13.60 517.30,43.90 540.30,78.10 563.50,106.50 583.70,124.70 598.40,131.60 614.00,138.90 627.40,142.20 638.00,146.10" fill="none" stroke="#4a8fe3" stroke-width="1.2" stroke-linejoin="round" />
<circle cx="502.20" cy="13.60" r="3.58" fill="#fff"/>
<circle cx="502.20" cy="13.60" r="2.4" fill="#fff" stroke="#4a8fe3" stroke-width="0.95"/>
<circle cx="517.30" cy="43.90" r="3.58" fill="#fff"/>
<circle cx="517.30" cy="43.90" r="2.4" fill="#fff" stroke="#4a8fe3" stroke-width="0.95"/>
<circle cx="540.30" cy="78.10" r="3.58" fill="#fff"/>
<circle cx="540.30" cy="78.10" r="2.4" fill="#fff" stroke="#4a8fe3" stroke-width="0.95"/>
<circle cx="563.50" cy="106.50" r="3.58" fill="#fff"/>
<circle cx="563.50" cy="106.50" r="2.4" fill="#fff" stroke="#4a8fe3" stroke-width="0.95"/>
<circle cx="583.70" cy="124.70" r="3.58" fill="#fff"/>
<circle cx="583.70" cy="124.70" r="2.4" fill="#fff" stroke="#4a8fe3" stroke-width="0.95"/>
<circle cx="598.40" cy="131.60" r="3.58" fill="#fff"/>
<circle cx="598.40" cy="131.60" r="2.4" fill="#fff" stroke="#4a8fe3" stroke-width="0.95"/>
<circle cx="614.00" cy="138.90" r="3.58" fill="#fff"/>
<circle cx="614.00" cy="138.90" r="2.4" fill="#fff" stroke="#4a8fe3" stroke-width="0.95"/>
<circle cx="627.40" cy="142.20" r="3.58" fill="#fff"/>
<circle cx="627.40" cy="142.20" r="2.4" fill="#fff" stroke="#4a8fe3" stroke-width="0.95"/>
<circle cx="638.00" cy="146.10" r="3.58" fill="#fff"/>
<circle cx="638.00" cy="146.10" r="2.4" fill="#fff" stroke="#4a8fe3" stroke-width="0.95"/>
<polyline points="502.20,153.90 517.00,150.50 540.30,143.30 563.50,131.10 583.40,123.90 598.40,105.30 614.00,87.20 626.90,50.60 638.00,13.80" fill="none" stroke="#f06a6a" stroke-width="1.2" stroke-linejoin="round" />
<rect x="499.07" y="150.78" width="6.25" height="6.25" fill="#fff"/>
<rect x="500.25" y="151.95" width="3.9" height="3.9" fill="#fff" stroke="#f06a6a" stroke-width="0.95"/>
<rect x="513.88" y="147.38" width="6.25" height="6.25" fill="#fff"/>
<rect x="515.05" y="148.55" width="3.9" height="3.9" fill="#fff" stroke="#f06a6a" stroke-width="0.95"/>
<rect x="537.17" y="140.18" width="6.25" height="6.25" fill="#fff"/>
<rect x="538.35" y="141.35" width="3.9" height="3.9" fill="#fff" stroke="#f06a6a" stroke-width="0.95"/>
<rect x="560.38" y="127.97" width="6.25" height="6.25" fill="#fff"/>
<rect x="561.55" y="129.15" width="3.9" height="3.9" fill="#fff" stroke="#f06a6a" stroke-width="0.95"/>
<rect x="580.27" y="120.78" width="6.25" height="6.25" fill="#fff"/>
<rect x="581.45" y="121.95" width="3.9" height="3.9" fill="#fff" stroke="#f06a6a" stroke-width="0.95"/>
<rect x="595.27" y="102.17" width="6.25" height="6.25" fill="#fff"/>
<rect x="596.45" y="103.35" width="3.9" height="3.9" fill="#fff" stroke="#f06a6a" stroke-width="0.95"/>
<rect x="610.88" y="84.08" width="6.25" height="6.25" fill="#fff"/>
<rect x="612.05" y="85.25" width="3.9" height="3.9" fill="#fff" stroke="#f06a6a" stroke-width="0.95"/>
<rect x="623.77" y="47.48" width="6.25" height="6.25" fill="#fff"/>
<rect x="624.95" y="48.65" width="3.9" height="3.9" fill="#fff" stroke="#f06a6a" stroke-width="0.95"/>
<rect x="634.88" y="10.68" width="6.25" height="6.25" fill="#fff"/>
<rect x="636.05" y="11.85" width="3.9" height="3.9" fill="#fff" stroke="#f06a6a" stroke-width="0.95"/>
<path d="M497.50,10.00 H641.00 V160.50 H497.50 Z" fill="none" stroke="#2e2e2e" stroke-width="1" stroke-linejoin="miter"/>
<line x1="498.04" y1="160.50" x2="498.04" y2="161.90" stroke="#2e2e2e" stroke-width="0.8" />
<line x1="498.04" y1="10.00" x2="498.04" y2="11.40" stroke="#2e2e2e" stroke-width="0.8" />
<line x1="502.73" y1="160.50" x2="502.73" y2="161.90" stroke="#2e2e2e" stroke-width="0.8" />
<line x1="502.73" y1="10.00" x2="502.73" y2="11.40" stroke="#2e2e2e" stroke-width="0.8" />
<line x1="506.56" y1="160.50" x2="506.56" y2="161.90" stroke="#2e2e2e" stroke-width="0.8" />
<line x1="506.56" y1="10.00" x2="506.56" y2="11.40" stroke="#2e2e2e" stroke-width="0.8" />
<line x1="509.80" y1="160.50" x2="509.80" y2="161.90" stroke="#2e2e2e" stroke-width="0.8" />
<line x1="509.80" y1="10.00" x2="509.80" y2="11.40" stroke="#2e2e2e" stroke-width="0.8" />
<line x1="512.61" y1="160.50" x2="512.61" y2="161.90" stroke="#2e2e2e" stroke-width="0.8" />
<line x1="512.61" y1="10.00" x2="512.61" y2="11.40" stroke="#2e2e2e" stroke-width="0.8" />
<line x1="515.09" y1="160.50" x2="515.09" y2="161.90" stroke="#2e2e2e" stroke-width="0.8" />
<line x1="515.09" y1="10.00" x2="515.09" y2="11.40" stroke="#2e2e2e" stroke-width="0.8" />
<line x1="517.30" y1="160.50" x2="517.30" y2="162.80" stroke="#2e2e2e" stroke-width="0.8" />
<line x1="517.30" y1="10.00" x2="517.30" y2="12.30" stroke="#2e2e2e" stroke-width="0.8" />
<line x1="531.87" y1="160.50" x2="531.87" y2="161.90" stroke="#2e2e2e" stroke-width="0.8" />
<line x1="531.87" y1="10.00" x2="531.87" y2="11.40" stroke="#2e2e2e" stroke-width="0.8" />
<line x1="540.39" y1="160.50" x2="540.39" y2="161.90" stroke="#2e2e2e" stroke-width="0.8" />
<line x1="540.39" y1="10.00" x2="540.39" y2="11.40" stroke="#2e2e2e" stroke-width="0.8" />
<line x1="546.44" y1="160.50" x2="546.44" y2="161.90" stroke="#2e2e2e" stroke-width="0.8" />
<line x1="546.44" y1="10.00" x2="546.44" y2="11.40" stroke="#2e2e2e" stroke-width="0.8" />
<line x1="551.13" y1="160.50" x2="551.13" y2="161.90" stroke="#2e2e2e" stroke-width="0.8" />
<line x1="551.13" y1="10.00" x2="551.13" y2="11.40" stroke="#2e2e2e" stroke-width="0.8" />
<line x1="554.96" y1="160.50" x2="554.96" y2="161.90" stroke="#2e2e2e" stroke-width="0.8" />
<line x1="554.96" y1="10.00" x2="554.96" y2="11.40" stroke="#2e2e2e" stroke-width="0.8" />
<line x1="558.20" y1="160.50" x2="558.20" y2="161.90" stroke="#2e2e2e" stroke-width="0.8" />
<line x1="558.20" y1="10.00" x2="558.20" y2="11.40" stroke="#2e2e2e" stroke-width="0.8" />
<line x1="561.01" y1="160.50" x2="561.01" y2="161.90" stroke="#2e2e2e" stroke-width="0.8" />
<line x1="561.01" y1="10.00" x2="561.01" y2="11.40" stroke="#2e2e2e" stroke-width="0.8" />
<line x1="563.49" y1="160.50" x2="563.49" y2="161.90" stroke="#2e2e2e" stroke-width="0.8" />
<line x1="563.49" y1="10.00" x2="563.49" y2="11.40" stroke="#2e2e2e" stroke-width="0.8" />
<line x1="565.70" y1="160.50" x2="565.70" y2="162.80" stroke="#2e2e2e" stroke-width="0.8" />
<line x1="565.70" y1="10.00" x2="565.70" y2="12.30" stroke="#2e2e2e" stroke-width="0.8" />
<line x1="580.27" y1="160.50" x2="580.27" y2="161.90" stroke="#2e2e2e" stroke-width="0.8" />
<line x1="580.27" y1="10.00" x2="580.27" y2="11.40" stroke="#2e2e2e" stroke-width="0.8" />
<line x1="588.79" y1="160.50" x2="588.79" y2="161.90" stroke="#2e2e2e" stroke-width="0.8" />
<line x1="588.79" y1="10.00" x2="588.79" y2="11.40" stroke="#2e2e2e" stroke-width="0.8" />
<line x1="594.84" y1="160.50" x2="594.84" y2="161.90" stroke="#2e2e2e" stroke-width="0.8" />
<line x1="594.84" y1="10.00" x2="594.84" y2="11.40" stroke="#2e2e2e" stroke-width="0.8" />
<line x1="599.53" y1="160.50" x2="599.53" y2="161.90" stroke="#2e2e2e" stroke-width="0.8" />
<line x1="599.53" y1="10.00" x2="599.53" y2="11.40" stroke="#2e2e2e" stroke-width="0.8" />
<line x1="603.36" y1="160.50" x2="603.36" y2="161.90" stroke="#2e2e2e" stroke-width="0.8" />
<line x1="603.36" y1="10.00" x2="603.36" y2="11.40" stroke="#2e2e2e" stroke-width="0.8" />
<line x1="606.60" y1="160.50" x2="606.60" y2="161.90" stroke="#2e2e2e" stroke-width="0.8" />
<line x1="606.60" y1="10.00" x2="606.60" y2="11.40" stroke="#2e2e2e" stroke-width="0.8" />
<line x1="609.41" y1="160.50" x2="609.41" y2="161.90" stroke="#2e2e2e" stroke-width="0.8" />
<line x1="609.41" y1="10.00" x2="609.41" y2="11.40" stroke="#2e2e2e" stroke-width="0.8" />
<line x1="611.89" y1="160.50" x2="611.89" y2="161.90" stroke="#2e2e2e" stroke-width="0.8" />
<line x1="611.89" y1="10.00" x2="611.89" y2="11.40" stroke="#2e2e2e" stroke-width="0.8" />
<line x1="614.10" y1="160.50" x2="614.10" y2="162.80" stroke="#2e2e2e" stroke-width="0.8" />
<line x1="614.10" y1="10.00" x2="614.10" y2="12.30" stroke="#2e2e2e" stroke-width="0.8" />
<line x1="628.67" y1="160.50" x2="628.67" y2="161.90" stroke="#2e2e2e" stroke-width="0.8" />
<line x1="628.67" y1="10.00" x2="628.67" y2="11.40" stroke="#2e2e2e" stroke-width="0.8" />
<line x1="637.19" y1="160.50" x2="637.19" y2="161.90" stroke="#2e2e2e" stroke-width="0.8" />
<line x1="637.19" y1="10.00" x2="637.19" y2="11.40" stroke="#2e2e2e" stroke-width="0.8" />
<g transform="translate(0,178.60) scale(1,1.05) translate(0,-178.60)"><text stroke="#1a1a1a" stroke-width="0.18" x="510.30" y="178.60" font-size="9.75" fill="#1a1a1a">10<tspan font-size="7.0" dx="0.5" dy="-4.2">−1</tspan></text></g>
<g transform="translate(0,178.60) scale(1,1.05) translate(0,-178.60)"><text stroke="#1a1a1a" stroke-width="0.18" x="558.70" y="178.60" font-size="9.75" fill="#1a1a1a">10<tspan font-size="7.0" dx="0.5" dy="-4.2">0</tspan></text></g>
<g transform="translate(0,178.60) scale(1,1.05) translate(0,-178.60)"><text stroke="#1a1a1a" stroke-width="0.18" x="607.10" y="178.60" font-size="9.75" fill="#1a1a1a">10<tspan font-size="7.0" dx="0.5" dy="-4.2">1</tspan></text></g>
<line x1="495.20" y1="160.00" x2="497.50" y2="160.00" stroke="#2e2e2e" stroke-width="0.8" />
<line x1="496.10" y1="141.22" x2="497.50" y2="141.22" stroke="#2e2e2e" stroke-width="0.8" />
<line x1="495.20" y1="122.45" x2="497.50" y2="122.45" stroke="#2e2e2e" stroke-width="0.8" />
<line x1="496.10" y1="103.67" x2="497.50" y2="103.67" stroke="#2e2e2e" stroke-width="0.8" />
<line x1="495.20" y1="84.90" x2="497.50" y2="84.90" stroke="#2e2e2e" stroke-width="0.8" />
<line x1="496.10" y1="66.12" x2="497.50" y2="66.12" stroke="#2e2e2e" stroke-width="0.8" />
<line x1="495.20" y1="47.35" x2="497.50" y2="47.35" stroke="#2e2e2e" stroke-width="0.8" />
<line x1="496.10" y1="28.57" x2="497.50" y2="28.57" stroke="#2e2e2e" stroke-width="0.8" />
<line x1="495.20" y1="9.80" x2="497.50" y2="9.80" stroke="#2e2e2e" stroke-width="0.8" />
<g transform="translate(0,13.90) scale(1,1.05) translate(0,-13.90)"><text stroke="#1a1a1a" stroke-width="0.18" x="490.50" y="13.90" font-size="9.75" text-anchor="end" fill="#1a1a1a" >200</text></g>
<g transform="translate(0,51.45) scale(1,1.05) translate(0,-51.45)"><text stroke="#1a1a1a" stroke-width="0.18" x="490.50" y="51.45" font-size="9.75" text-anchor="end" fill="#1a1a1a" >150</text></g>
<g transform="translate(0,89.00) scale(1,1.05) translate(0,-89.00)"><text stroke="#1a1a1a" stroke-width="0.18" x="490.50" y="89.00" font-size="9.75" text-anchor="end" fill="#1a1a1a" >100</text></g>
<g transform="translate(0,126.55) scale(1,1.05) translate(0,-126.55)"><text stroke="#1a1a1a" stroke-width="0.18" x="490.50" y="126.55" font-size="9.75" text-anchor="end" fill="#1a1a1a" >50</text></g>
<g transform="translate(0,164.10) scale(1,1.05) translate(0,-164.10)"><text stroke="#1a1a1a" stroke-width="0.18" x="490.50" y="164.10" font-size="9.75" text-anchor="end" fill="#1a1a1a" >0</text></g>
<line x1="638.70" y1="160.00" x2="641.00" y2="160.00" stroke="#2e2e2e" stroke-width="0.8" />
<line x1="639.60" y1="141.22" x2="641.00" y2="141.22" stroke="#2e2e2e" stroke-width="0.8" />
<line x1="638.70" y1="122.45" x2="641.00" y2="122.45" stroke="#2e2e2e" stroke-width="0.8" />
<line x1="639.60" y1="103.68" x2="641.00" y2="103.68" stroke="#2e2e2e" stroke-width="0.8" />
<line x1="638.70" y1="84.90" x2="641.00" y2="84.90" stroke="#2e2e2e" stroke-width="0.8" />
<line x1="639.60" y1="66.13" x2="641.00" y2="66.13" stroke="#2e2e2e" stroke-width="0.8" />
<line x1="638.70" y1="47.35" x2="641.00" y2="47.35" stroke="#2e2e2e" stroke-width="0.8" />
<line x1="639.60" y1="28.58" x2="641.00" y2="28.58" stroke="#2e2e2e" stroke-width="0.8" />
<line x1="638.70" y1="9.80" x2="641.00" y2="9.80" stroke="#2e2e2e" stroke-width="0.8" />
<g transform="translate(0,13.90) scale(1,1.05) translate(0,-13.90)"><text stroke="#1a1a1a" stroke-width="0.18" x="646.60" y="13.90" font-size="9.75" fill="#1a1a1a" >120</text></g>
<g transform="translate(0,51.45) scale(1,1.05) translate(0,-51.45)"><text stroke="#1a1a1a" stroke-width="0.18" x="646.60" y="51.45" font-size="9.75" fill="#1a1a1a" >90</text></g>
<g transform="translate(0,89.00) scale(1,1.05) translate(0,-89.00)"><text stroke="#1a1a1a" stroke-width="0.18" x="646.60" y="89.00" font-size="9.75" fill="#1a1a1a" >60</text></g>
<g transform="translate(0,126.55) scale(1,1.05) translate(0,-126.55)"><text stroke="#1a1a1a" stroke-width="0.18" x="646.60" y="126.55" font-size="9.75" fill="#1a1a1a" >30</text></g>
<g transform="translate(0,164.10) scale(1,1.05) translate(0,-164.10)"><text stroke="#1a1a1a" stroke-width="0.18" x="646.60" y="164.10" font-size="9.75" fill="#1a1a1a" >0</text></g>
<text stroke="#1a1a1a" stroke-width="0.18" transform="translate(462.80,85.40) rotate(-90) scale(1,1.05)" font-size="10" text-anchor="middle" letter-spacing="0.45" fill="#1a1a1a">Gain</text>
<text stroke="#1a1a1a" stroke-width="0.18" transform="translate(672.80,86.20) rotate(-90) scale(1,1.05)" font-size="10" text-anchor="middle" fill="#1a1a1a"><tspan font-style="italic" font-size="11.5">f</tspan><tspan font-size="7.0" dx="2.4" dy="2.3">−3dB</tspan><tspan dy="-2.3"> (kHz)</tspan></text>
<g transform="translate(0,194.20) scale(1,1.05) translate(0,-194.20)"><text stroke="#1a1a1a" stroke-width="0.18" x="516.3" y="194.2" font-size="10" letter-spacing="0.24" fill="#1a1a1a">Power density (W/cm<tspan font-size="7.0" dy="-4">2</tspan><tspan dy="4">)</tspan></text></g>
<line x1="555.50" y1="36.40" x2="562.40" y2="36.40" stroke="#4a8fe3" stroke-width="1.3" />
<line x1="569.60" y1="36.40" x2="576.80" y2="36.40" stroke="#4a8fe3" stroke-width="1.3" />
<circle cx="566.00" cy="36.40" r="2.6" fill="#fff" stroke="#4a8fe3" stroke-width="1.0"/>
<g transform="translate(0,40.00) scale(1,1.05) translate(0,-40.00)"><text stroke="#1a1a1a" stroke-width="0.18" x="579.90" y="40.00" font-size="8.75" fill="#1a1a1a" >Gain</text></g>
<line x1="555.50" y1="53.20" x2="562.40" y2="53.20" stroke="#f06a6a" stroke-width="1.3" />
<line x1="569.60" y1="53.20" x2="576.80" y2="53.20" stroke="#f06a6a" stroke-width="1.3" />
<rect x="564.00" y="51.20" width="4.0" height="4.0" fill="#fff" stroke="#f06a6a" stroke-width="1.0"/>
<g transform="translate(0,57.00) scale(1,1.05) translate(0,-57.00)"><text stroke="#1a1a1a" stroke-width="0.18" x="579.9" y="57" font-size="8.75" fill="#1a1a1a"><tspan font-style="italic">f</tspan><tspan font-size="6" dy="3.3">−3dB</tspan></text></g>
<line x1="535.30" y1="78.70" x2="521.64" y2="78.70" stroke="#9cc0f2" stroke-width="1.3" />
<path d="M518.00,78.70 L523.20,77.10 L522.16,78.70 L523.20,80.30 Z" fill="#1f66d6"/>
<line x1="618.20" y1="87.10" x2="631.96" y2="87.10" stroke="#f6a3a8" stroke-width="1.3" />
<path d="M635.60,87.10 L630.40,85.50 L631.44,87.10 L630.40,88.70 Z" fill="#ec3a44"/>
<g transform="translate(0,9.60) scale(1,1.05) translate(0,-9.60)"><text stroke="#000" stroke-width="0.18" x="452.8" y="9.6" font-size="14" font-weight="bold" fill="#000">c</text></g>
<clipPath id="cd"><rect x="46.5" y="220.5" width="143.5" height="151.0"/></clipPath>
<line x1="46.50" y1="246.89" x2="80.94" y2="246.89" stroke="#5b92e8" stroke-width="0.7" />
<polyline points="79.83,246.89 75.20,246.89 75.77,246.89 76.35,246.89 76.92,246.89 77.50,246.89 78.07,246.89 78.64,246.89 79.22,246.89 79.79,246.89 80.37,246.89 80.94,246.89 81.51,246.89 82.09,246.89 82.66,246.89 83.24,246.89 83.81,246.89 84.38,246.89 84.96,246.89 85.53,246.89 86.11,246.89 86.68,246.89 87.25,246.89 87.83,246.89 88.40,246.89 88.98,246.89 89.55,246.89 90.12,246.89 90.70,246.89 91.27,246.89 91.85,246.89 92.42,246.89 92.99,246.89 93.57,246.89 94.14,246.89 94.72,246.89 95.29,246.89 95.86,246.89 96.44,246.89 97.01,246.89 97.59,246.89 98.16,246.89 98.73,246.89 99.31,246.89 99.88,246.89 100.46,246.89 101.03,246.89 101.60,246.89 102.18,246.90 102.75,246.90 103.33,246.90 103.90,246.90 104.47,246.90 105.05,246.90 105.62,246.90 106.20,246.90 106.77,246.90 107.34,246.90 107.92,246.90 108.49,246.90 109.07,246.90 109.64,246.90 110.21,246.91 110.79,246.91 111.36,246.91 111.94,246.91 112.51,246.91 113.08,246.92 113.66,246.92 114.23,246.92 114.81,246.92 115.38,246.93 115.95,246.93 116.53,246.93 117.10,246.94 117.68,246.94 118.25,246.95 118.82,246.95 119.40,246.96 119.97,246.96 120.55,246.97 121.12,246.98 121.69,246.99 122.27,247.00 122.84,247.01 123.42,247.02 123.99,247.03 124.56,247.04 125.14,247.06 125.71,247.07 126.29,247.09 126.86,247.11 127.43,247.13 128.01,247.15 128.58,247.18 129.16,247.20 129.73,247.23 130.30,247.27 130.88,247.30 131.45,247.34 132.03,247.38 132.60,247.43 133.17,247.48 133.75,247.53 134.32,247.60 134.90,247.66 135.47,247.73 136.04,247.81 136.62,247.90 137.19,247.99 137.77,248.09 138.34,248.20 138.91,248.32 139.49,248.46 140.06,248.60 140.64,248.75 141.21,248.92 141.78,249.10 142.36,249.30 142.93,249.51 143.51,249.74 144.08,249.99 144.65,250.25 145.23,250.54 145.80,250.84 146.38,251.17 146.95,251.53 147.52,251.90 148.10,252.30 148.67,252.73 149.25,253.19 149.82,253.67 150.39,254.18 150.97,254.72 151.54,255.29 152.12,255.89 152.69,256.52 153.26,257.18 153.84,257.87 154.41,258.59 154.99,259.34 155.56,260.12 156.13,260.92 156.71,261.76 157.28,262.62 157.86,263.52 158.43,264.43 159.00,265.37 159.58,266.34 160.15,267.33 160.73,268.34 161.30,269.37 161.87,270.42 162.45,271.49 163.02,272.58 163.60,273.68 164.17,274.80 164.74,275.93 165.32,277.08 165.89,278.24 166.47,279.41 167.04,280.60 167.61,281.79 168.19,283.00 168.76,284.21 169.34,285.43 169.91,286.66 170.48,287.89 171.06,289.13 171.63,290.38 172.21,291.63 172.78,292.89 173.35,294.15 173.93,295.42 174.50,296.69 175.08,297.96 175.65,299.24 176.22,300.52 176.80,301.80 177.37,303.09 177.95,304.38 178.52,305.67 179.09,306.96 179.67,308.25 180.24,309.55 180.82,310.84 181.39,312.14 181.96,313.44 182.54,314.74 183.11,316.04 183.69,317.34 184.26,318.65 184.83,319.95 185.41,321.26 185.98,322.56 186.56,323.87 187.13,325.17 187.70,326.48 188.28,327.79 188.85,329.10 189.43,330.40 190.00,331.71" fill="none" stroke="#5b92e8" stroke-width="4.2" stroke-linejoin="round" clip-path="url(#cd)" stroke-linecap="butt"/>
<rect x="44.80" y="245.19" width="3.4" height="3.4" fill="#fff" stroke="#5b92e8" stroke-width="1.0"/>
<rect x="53.44" y="245.19" width="3.4" height="3.4" fill="#fff" stroke="#5b92e8" stroke-width="1.0"/>
<rect x="58.49" y="245.19" width="3.4" height="3.4" fill="#fff" stroke="#5b92e8" stroke-width="1.0"/>
<rect x="62.08" y="245.19" width="3.4" height="3.4" fill="#fff" stroke="#5b92e8" stroke-width="1.0"/>
<rect x="64.86" y="245.19" width="3.4" height="3.4" fill="#fff" stroke="#5b92e8" stroke-width="1.0"/>
<rect x="67.13" y="245.19" width="3.4" height="3.4" fill="#fff" stroke="#5b92e8" stroke-width="1.0"/>
<rect x="69.05" y="245.19" width="3.4" height="3.4" fill="#fff" stroke="#5b92e8" stroke-width="1.0"/>
<rect x="70.72" y="245.19" width="3.4" height="3.4" fill="#fff" stroke="#5b92e8" stroke-width="1.0"/>
<rect x="72.19" y="245.19" width="3.4" height="3.4" fill="#fff" stroke="#5b92e8" stroke-width="1.0"/>
<rect x="73.50" y="245.19" width="3.4" height="3.4" fill="#fff" stroke="#5b92e8" stroke-width="1.0"/>
<rect x="74.69" y="245.19" width="3.4" height="3.4" fill="#fff" stroke="#5b92e8" stroke-width="1.0"/>
<rect x="75.77" y="245.19" width="3.4" height="3.4" fill="#fff" stroke="#5b92e8" stroke-width="1.0"/>
<rect x="76.77" y="245.19" width="3.4" height="3.4" fill="#fff" stroke="#5b92e8" stroke-width="1.0"/>
<rect x="77.69" y="245.19" width="3.4" height="3.4" fill="#fff" stroke="#5b92e8" stroke-width="1.0"/>
<rect x="78.55" y="245.19" width="3.4" height="3.4" fill="#fff" stroke="#5b92e8" stroke-width="1.0"/>
<line x1="152.91" y1="249.00" x2="152.91" y2="371.50" stroke="#5b92e8" stroke-width="0.8" stroke-dasharray="2.2,1.6"/>
<path d="M46.50,220.50 H190.00 V371.50 H46.50 Z" fill="none" stroke="#2e2e2e" stroke-width="1" stroke-linejoin="miter"/>
<line x1="46.50" y1="371.50" x2="46.50" y2="373.80" stroke="#2e2e2e" stroke-width="0.8" />
<line x1="55.14" y1="371.50" x2="55.14" y2="372.90" stroke="#2e2e2e" stroke-width="0.8" />
<line x1="60.19" y1="371.50" x2="60.19" y2="372.90" stroke="#2e2e2e" stroke-width="0.8" />
<line x1="63.78" y1="371.50" x2="63.78" y2="372.90" stroke="#2e2e2e" stroke-width="0.8" />
<line x1="66.56" y1="371.50" x2="66.56" y2="372.90" stroke="#2e2e2e" stroke-width="0.8" />
<line x1="68.83" y1="371.50" x2="68.83" y2="372.90" stroke="#2e2e2e" stroke-width="0.8" />
<line x1="70.75" y1="371.50" x2="70.75" y2="372.90" stroke="#2e2e2e" stroke-width="0.8" />
<line x1="72.42" y1="371.50" x2="72.42" y2="372.90" stroke="#2e2e2e" stroke-width="0.8" />
<line x1="73.89" y1="371.50" x2="73.89" y2="372.90" stroke="#2e2e2e" stroke-width="0.8" />
<line x1="75.20" y1="371.50" x2="75.20" y2="373.80" stroke="#2e2e2e" stroke-width="0.8" />
<line x1="83.84" y1="371.50" x2="83.84" y2="372.90" stroke="#2e2e2e" stroke-width="0.8" />
<line x1="88.89" y1="371.50" x2="88.89" y2="372.90" stroke="#2e2e2e" stroke-width="0.8" />
<line x1="92.48" y1="371.50" x2="92.48" y2="372.90" stroke="#2e2e2e" stroke-width="0.8" />
<line x1="95.26" y1="371.50" x2="95.26" y2="372.90" stroke="#2e2e2e" stroke-width="0.8" />
<line x1="97.53" y1="371.50" x2="97.53" y2="372.90" stroke="#2e2e2e" stroke-width="0.8" />
<line x1="99.45" y1="371.50" x2="99.45" y2="372.90" stroke="#2e2e2e" stroke-width="0.8" />
<line x1="101.12" y1="371.50" x2="101.12" y2="372.90" stroke="#2e2e2e" stroke-width="0.8" />
<line x1="102.59" y1="371.50" x2="102.59" y2="372.90" stroke="#2e2e2e" stroke-width="0.8" />
<line x1="103.90" y1="371.50" x2="103.90" y2="373.80" stroke="#2e2e2e" stroke-width="0.8" />
<line x1="112.54" y1="371.50" x2="112.54" y2="372.90" stroke="#2e2e2e" stroke-width="0.8" />
<line x1="117.59" y1="371.50" x2="117.59" y2="372.90" stroke="#2e2e2e" stroke-width="0.8" />
<line x1="121.18" y1="371.50" x2="121.18" y2="372.90" stroke="#2e2e2e" stroke-width="0.8" />
<line x1="123.96" y1="371.50" x2="123.96" y2="372.90" stroke="#2e2e2e" stroke-width="0.8" />
<line x1="126.23" y1="371.50" x2="126.23" y2="372.90" stroke="#2e2e2e" stroke-width="0.8" />
<line x1="128.15" y1="371.50" x2="128.15" y2="372.90" stroke="#2e2e2e" stroke-width="0.8" />
<line x1="129.82" y1="371.50" x2="129.82" y2="372.90" stroke="#2e2e2e" stroke-width="0.8" />
<line x1="131.29" y1="371.50" x2="131.29" y2="372.90" stroke="#2e2e2e" stroke-width="0.8" />
<line x1="132.60" y1="371.50" x2="132.60" y2="373.80" stroke="#2e2e2e" stroke-width="0.8" />
<line x1="141.24" y1="371.50" x2="141.24" y2="372.90" stroke="#2e2e2e" stroke-width="0.8" />
<line x1="146.29" y1="371.50" x2="146.29" y2="372.90" stroke="#2e2e2e" stroke-width="0.8" />
<line x1="149.88" y1="371.50" x2="149.88" y2="372.90" stroke="#2e2e2e" stroke-width="0.8" />
<line x1="152.66" y1="371.50" x2="152.66" y2="372.90" stroke="#2e2e2e" stroke-width="0.8" />
<line x1="154.93" y1="371.50" x2="154.93" y2="372.90" stroke="#2e2e2e" stroke-width="0.8" />
<line x1="156.85" y1="371.50" x2="156.85" y2="372.90" stroke="#2e2e2e" stroke-width="0.8" />
<line x1="158.52" y1="371.50" x2="158.52" y2="372.90" stroke="#2e2e2e" stroke-width="0.8" />
<line x1="159.99" y1="371.50" x2="159.99" y2="372.90" stroke="#2e2e2e" stroke-width="0.8" />
<line x1="161.30" y1="371.50" x2="161.30" y2="373.80" stroke="#2e2e2e" stroke-width="0.8" />
<line x1="169.94" y1="371.50" x2="169.94" y2="372.90" stroke="#2e2e2e" stroke-width="0.8" />
<line x1="174.99" y1="371.50" x2="174.99" y2="372.90" stroke="#2e2e2e" stroke-width="0.8" />
<line x1="178.58" y1="371.50" x2="178.58" y2="372.90" stroke="#2e2e2e" stroke-width="0.8" />
<line x1="181.36" y1="371.50" x2="181.36" y2="372.90" stroke="#2e2e2e" stroke-width="0.8" />
<line x1="183.63" y1="371.50" x2="183.63" y2="372.90" stroke="#2e2e2e" stroke-width="0.8" />
<line x1="185.55" y1="371.50" x2="185.55" y2="372.90" stroke="#2e2e2e" stroke-width="0.8" />
<line x1="187.22" y1="371.50" x2="187.22" y2="372.90" stroke="#2e2e2e" stroke-width="0.8" />
<line x1="188.69" y1="371.50" x2="188.69" y2="372.90" stroke="#2e2e2e" stroke-width="0.8" />
<line x1="190.00" y1="371.50" x2="190.00" y2="373.80" stroke="#2e2e2e" stroke-width="0.8" />
<line x1="45.10" y1="371.45" x2="46.50" y2="371.45" stroke="#2e2e2e" stroke-width="0.8" />
<line x1="45.10" y1="366.25" x2="46.50" y2="366.25" stroke="#2e2e2e" stroke-width="0.8" />
<line x1="45.10" y1="361.86" x2="46.50" y2="361.86" stroke="#2e2e2e" stroke-width="0.8" />
<line x1="45.10" y1="358.06" x2="46.50" y2="358.06" stroke="#2e2e2e" stroke-width="0.8" />
<line x1="45.10" y1="354.70" x2="46.50" y2="354.70" stroke="#2e2e2e" stroke-width="0.8" />
<line x1="44.20" y1="351.70" x2="46.50" y2="351.70" stroke="#2e2e2e" stroke-width="0.8" />
<line x1="45.10" y1="331.95" x2="46.50" y2="331.95" stroke="#2e2e2e" stroke-width="0.8" />
<line x1="45.10" y1="320.40" x2="46.50" y2="320.40" stroke="#2e2e2e" stroke-width="0.8" />
<line x1="45.10" y1="312.20" x2="46.50" y2="312.20" stroke="#2e2e2e" stroke-width="0.8" />
<line x1="45.10" y1="305.85" x2="46.50" y2="305.85" stroke="#2e2e2e" stroke-width="0.8" />
<line x1="45.10" y1="300.65" x2="46.50" y2="300.65" stroke="#2e2e2e" stroke-width="0.8" />
<line x1="45.10" y1="296.26" x2="46.50" y2="296.26" stroke="#2e2e2e" stroke-width="0.8" />
<line x1="45.10" y1="292.46" x2="46.50" y2="292.46" stroke="#2e2e2e" stroke-width="0.8" />
<line x1="45.10" y1="289.10" x2="46.50" y2="289.10" stroke="#2e2e2e" stroke-width="0.8" />
<line x1="44.20" y1="286.10" x2="46.50" y2="286.10" stroke="#2e2e2e" stroke-width="0.8" />
<line x1="45.10" y1="266.35" x2="46.50" y2="266.35" stroke="#2e2e2e" stroke-width="0.8" />
<line x1="45.10" y1="254.80" x2="46.50" y2="254.80" stroke="#2e2e2e" stroke-width="0.8" />
<line x1="45.10" y1="246.60" x2="46.50" y2="246.60" stroke="#2e2e2e" stroke-width="0.8" />
<line x1="45.10" y1="240.25" x2="46.50" y2="240.25" stroke="#2e2e2e" stroke-width="0.8" />
<line x1="45.10" y1="235.05" x2="46.50" y2="235.05" stroke="#2e2e2e" stroke-width="0.8" />
<line x1="45.10" y1="230.66" x2="46.50" y2="230.66" stroke="#2e2e2e" stroke-width="0.8" />
<line x1="45.10" y1="226.86" x2="46.50" y2="226.86" stroke="#2e2e2e" stroke-width="0.8" />
<line x1="45.10" y1="223.50" x2="46.50" y2="223.50" stroke="#2e2e2e" stroke-width="0.8" />
<line x1="44.20" y1="220.50" x2="46.50" y2="220.50" stroke="#2e2e2e" stroke-width="0.8" />
<g transform="translate(0,386.80) scale(1,1.05) translate(0,-386.80)"><text stroke="#1a1a1a" stroke-width="0.18" x="40.00" y="386.80" font-size="9.75" fill="#1a1a1a">10<tspan font-size="7.0" dx="0.5" dy="-4.2">0</tspan></text></g>
<g transform="translate(0,386.80) scale(1,1.05) translate(0,-386.80)"><text stroke="#1a1a1a" stroke-width="0.18" x="68.70" y="386.80" font-size="9.75" fill="#1a1a1a">10<tspan font-size="7.0" dx="0.5" dy="-4.2">1</tspan></text></g>
<g transform="translate(0,386.80) scale(1,1.05) translate(0,-386.80)"><text stroke="#1a1a1a" stroke-width="0.18" x="97.40" y="386.80" font-size="9.75" fill="#1a1a1a">10<tspan font-size="7.0" dx="0.5" dy="-4.2">2</tspan></text></g>
<g transform="translate(0,386.80) scale(1,1.05) translate(0,-386.80)"><text stroke="#1a1a1a" stroke-width="0.18" x="126.10" y="386.80" font-size="9.75" fill="#1a1a1a">10<tspan font-size="7.0" dx="0.5" dy="-4.2">3</tspan></text></g>
<g transform="translate(0,386.80) scale(1,1.05) translate(0,-386.80)"><text stroke="#1a1a1a" stroke-width="0.18" x="154.80" y="386.80" font-size="9.75" fill="#1a1a1a">10<tspan font-size="7.0" dx="0.5" dy="-4.2">4</tspan></text></g>
<g transform="translate(0,386.80) scale(1,1.05) translate(0,-386.80)"><text stroke="#1a1a1a" stroke-width="0.18" x="183.50" y="386.80" font-size="9.75" fill="#1a1a1a">10<tspan font-size="7.0" dx="0.5" dy="-4.2">5</tspan></text></g>
<g transform="translate(0,224.30) scale(1,1.05) translate(0,-224.30)"><text stroke="#1a1a1a" stroke-width="0.18" x="24.50" y="224.30" font-size="9.75" fill="#1a1a1a">10<tspan font-size="7.0" dx="0.5" dy="-4.2">1</tspan></text></g>
<g transform="translate(0,289.90) scale(1,1.05) translate(0,-289.90)"><text stroke="#1a1a1a" stroke-width="0.18" x="24.50" y="289.90" font-size="9.75" fill="#1a1a1a">10<tspan font-size="7.0" dx="0.5" dy="-4.2">0</tspan></text></g>
<g transform="translate(0,355.50) scale(1,1.05) translate(0,-355.50)"><text stroke="#1a1a1a" stroke-width="0.18" x="23.50" y="355.50" font-size="9.75" fill="#1a1a1a">10<tspan font-size="7.0" dx="0.5" dy="-4.2">−1</tspan></text></g>
<text stroke="#1a1a1a" stroke-width="0.18" transform="translate(14.80,294.50) rotate(-90) scale(1,1.05)" font-size="10" text-anchor="middle" letter-spacing="0.12" fill="#1a1a1a">Responsivity (A/W)</text>
<g transform="translate(0,402.60) scale(1,1.05) translate(0,-402.60)"><text stroke="#1a1a1a" stroke-width="0.18" x="118.00" y="402.60" font-size="10" text-anchor="middle" fill="#1a1a1a" letter-spacing="0.19">Frequency (Hz)</text></g>
<g transform="translate(0,240.00) scale(1,1.05) translate(0,-240.00)"><text stroke="#5b92e8" stroke-width="0.18" x="49.3" y="240" font-size="8.75" fill="#5b92e8" font-style="italic">R<tspan font-size="6" dy="2.6" font-style="normal">0</tspan></text></g>
<g transform="translate(0,362.40) scale(1,1.05) translate(0,-362.40)"><text stroke="#5b92e8" stroke-width="0.18" x="94.4" y="362.4" font-size="8.75" fill="#5b92e8"><tspan font-style="italic">f</tspan><tspan font-size="6" dy="2.4">−3dB</tspan><tspan dy="-2.4">=5.1kHz</tspan></text></g>
<g transform="translate(0,304.70) scale(1,1.05) translate(0,-304.70)"><text stroke="#1a1a1a" stroke-width="0.18" x="54.4" y="304.7" font-size="8.75" fill="#1a1a1a"><tspan font-style="italic">R</tspan> (<tspan font-style="italic">f</tspan>) =</text></g>
<line x1="85.00" y1="300.80" x2="147.50" y2="300.80" stroke="#1a1a1a" stroke-width="0.8" />
<g transform="translate(0,296.70) scale(1,1.05) translate(0,-296.70)"><text stroke="#1a1a1a" stroke-width="0.18" x="112.8" y="296.7" font-size="8.75" fill="#1a1a1a" font-style="italic">R<tspan font-size="6" dy="2.5" font-style="normal">0</tspan></text></g>
<path d="M85.8,309.5 L87.3,308.7 L89.4,314.2 L92.5,303.3 L147.5,303.3" fill="none" stroke="#1a1a1a" stroke-width="0.8"/>
<g transform="translate(0,314.00) scale(1,1.05) translate(0,-314.00)"><text stroke="#1a1a1a" stroke-width="0.18" x="93.2" y="314.0" font-size="8.75" fill="#1a1a1a">1 + 4π<tspan font-size="6" dy="-3.6">2</tspan><tspan dx="1.3" dy="3.6" font-style="italic">f</tspan><tspan font-size="6" dx="0.6" dy="-3.6">2</tspan><tspan dx="1.4" dy="3.6" font-style="italic">τ</tspan><tspan font-size="6" dx="0.5" dy="-3.6">2</tspan></text></g>
<g transform="translate(0,219.30) scale(1,1.05) translate(0,-219.30)"><text stroke="#000" stroke-width="0.18" x="-0.6" y="219.3" font-size="14" font-weight="bold" fill="#000">d</text></g>
<clipPath id="ce"><rect x="253.0" y="220.5" width="144.0" height="150.10000000000002"/></clipPath>
<g clip-path="url(#ce)">
<polyline points="253.00,322.61 261.67,319.16 266.74,315.61 270.34,315.37 272.58,313.88 274.89,313.82" fill="none" stroke="#f4a09a" stroke-width="0.6" stroke-linejoin="round" />
<polyline points="253.00,246.59 261.67,250.95 266.74,253.53 270.34,255.75 272.58,255.61 274.89,257.60" fill="none" stroke="#aaaaaa" stroke-width="0.6" stroke-linejoin="round" />
<rect x="251.25" y="320.86" width="3.5" height="3.5" fill="none" stroke="#fa9448" stroke-width="1.1"/>
<rect x="259.92" y="317.41" width="3.5" height="3.5" fill="none" stroke="#fa9448" stroke-width="1.1"/>
<rect x="264.99" y="313.86" width="3.5" height="3.5" fill="none" stroke="#fa9448" stroke-width="1.1"/>
<rect x="268.59" y="313.62" width="3.5" height="3.5" fill="none" stroke="#fa9448" stroke-width="1.1"/>
<rect x="270.83" y="312.13" width="3.5" height="3.5" fill="none" stroke="#fa9448" stroke-width="1.1"/>
<rect x="273.14" y="312.07" width="3.5" height="3.5" fill="none" stroke="#fa9448" stroke-width="1.1"/>
<rect x="275.42" y="311.25" width="3.5" height="3.5" fill="none" stroke="#fa9448" stroke-width="1.1"/>
<rect x="277.69" y="309.34" width="3.5" height="3.5" fill="none" stroke="#fa9448" stroke-width="1.1"/>
<rect x="279.93" y="307.58" width="3.5" height="3.5" fill="none" stroke="#fa9448" stroke-width="1.1"/>
<rect x="282.15" y="303.08" width="3.5" height="3.5" fill="none" stroke="#fa9448" stroke-width="1.1"/>
<rect x="284.08" y="302.06" width="3.5" height="3.5" fill="none" stroke="#fa9448" stroke-width="1.1"/>
<rect x="286.30" y="297.56" width="3.5" height="3.5" fill="none" stroke="#fa9448" stroke-width="1.1"/>
<rect x="288.66" y="296.59" width="3.5" height="3.5" fill="none" stroke="#fa9448" stroke-width="1.1"/>
<rect x="290.68" y="291.82" width="3.5" height="3.5" fill="none" stroke="#fa9448" stroke-width="1.1"/>
<rect x="292.80" y="296.72" width="3.5" height="3.5" fill="none" stroke="#fa9448" stroke-width="1.1"/>
<rect x="293.75" y="290.24" width="3.5" height="3.5" fill="none" stroke="#fa9448" stroke-width="1.1"/>
<rect x="295.42" y="283.40" width="3.5" height="3.5" fill="none" stroke="#fa9448" stroke-width="1.1"/>
<rect x="296.71" y="287.43" width="3.5" height="3.5" fill="none" stroke="#fa9448" stroke-width="1.1"/>
<rect x="297.66" y="277.23" width="3.5" height="3.5" fill="none" stroke="#fa9448" stroke-width="1.1"/>
<rect x="297.85" y="281.48" width="3.5" height="3.5" fill="none" stroke="#fa9448" stroke-width="1.1"/>
<rect x="298.69" y="280.32" width="3.5" height="3.5" fill="none" stroke="#fa9448" stroke-width="1.1"/>
<rect x="299.50" y="283.75" width="3.5" height="3.5" fill="none" stroke="#fa9448" stroke-width="1.1"/>
<rect x="300.80" y="284.75" width="3.5" height="3.5" fill="none" stroke="#fa9448" stroke-width="1.1"/>
<rect x="301.03" y="281.89" width="3.5" height="3.5" fill="none" stroke="#fa9448" stroke-width="1.1"/>
<rect x="301.66" y="279.31" width="3.5" height="3.5" fill="none" stroke="#fa9448" stroke-width="1.1"/>
<rect x="303.00" y="281.51" width="3.5" height="3.5" fill="none" stroke="#fa9448" stroke-width="1.1"/>
<rect x="303.02" y="274.78" width="3.5" height="3.5" fill="none" stroke="#fa9448" stroke-width="1.1"/>
<rect x="303.53" y="281.49" width="3.5" height="3.5" fill="none" stroke="#fa9448" stroke-width="1.1"/>
<rect x="304.63" y="277.25" width="3.5" height="3.5" fill="none" stroke="#fa9448" stroke-width="1.1"/>
<rect x="304.63" y="275.81" width="3.5" height="3.5" fill="none" stroke="#fa9448" stroke-width="1.1"/>
<rect x="305.38" y="269.38" width="3.5" height="3.5" fill="none" stroke="#fa9448" stroke-width="1.1"/>
<rect x="306.04" y="278.21" width="3.5" height="3.5" fill="none" stroke="#fa9448" stroke-width="1.1"/>
<rect x="306.78" y="277.30" width="3.5" height="3.5" fill="none" stroke="#fa9448" stroke-width="1.1"/>
<rect x="307.10" y="277.79" width="3.5" height="3.5" fill="none" stroke="#fa9448" stroke-width="1.1"/>
<rect x="307.65" y="272.53" width="3.5" height="3.5" fill="none" stroke="#fa9448" stroke-width="1.1"/>
<rect x="307.38" y="277.18" width="3.5" height="3.5" fill="none" stroke="#fa9448" stroke-width="1.1"/>
<rect x="307.95" y="276.35" width="3.5" height="3.5" fill="none" stroke="#fa9448" stroke-width="1.1"/>
<rect x="308.27" y="273.76" width="3.5" height="3.5" fill="none" stroke="#fa9448" stroke-width="1.1"/>
<rect x="308.93" y="276.38" width="3.5" height="3.5" fill="none" stroke="#fa9448" stroke-width="1.1"/>
<rect x="309.57" y="273.49" width="3.5" height="3.5" fill="none" stroke="#fa9448" stroke-width="1.1"/>
<rect x="309.53" y="274.90" width="3.5" height="3.5" fill="none" stroke="#fa9448" stroke-width="1.1"/>
<rect x="309.97" y="274.79" width="3.5" height="3.5" fill="none" stroke="#fa9448" stroke-width="1.1"/>
<rect x="310.64" y="269.56" width="3.5" height="3.5" fill="none" stroke="#fa9448" stroke-width="1.1"/>
<rect x="310.30" y="272.64" width="3.5" height="3.5" fill="none" stroke="#fa9448" stroke-width="1.1"/>
<rect x="311.08" y="272.38" width="3.5" height="3.5" fill="none" stroke="#fa9448" stroke-width="1.1"/>
<rect x="311.23" y="271.05" width="3.5" height="3.5" fill="none" stroke="#fa9448" stroke-width="1.1"/>
<rect x="311.23" y="265.92" width="3.5" height="3.5" fill="none" stroke="#fa9448" stroke-width="1.1"/>
<rect x="312.09" y="269.11" width="3.5" height="3.5" fill="none" stroke="#fa9448" stroke-width="1.1"/>
<rect x="312.10" y="267.67" width="3.5" height="3.5" fill="none" stroke="#fa9448" stroke-width="1.1"/>
<rect x="312.47" y="271.84" width="3.5" height="3.5" fill="none" stroke="#fa9448" stroke-width="1.1"/>
<rect x="312.95" y="266.65" width="3.5" height="3.5" fill="none" stroke="#fa9448" stroke-width="1.1"/>
<rect x="312.83" y="262.89" width="3.5" height="3.5" fill="none" stroke="#fa9448" stroke-width="1.1"/>
<rect x="313.66" y="265.17" width="3.5" height="3.5" fill="none" stroke="#fa9448" stroke-width="1.1"/>
<rect x="313.74" y="269.72" width="3.5" height="3.5" fill="none" stroke="#fa9448" stroke-width="1.1"/>
<rect x="313.72" y="265.66" width="3.5" height="3.5" fill="none" stroke="#fa9448" stroke-width="1.1"/>
<rect x="314.55" y="263.86" width="3.5" height="3.5" fill="none" stroke="#fa9448" stroke-width="1.1"/>
<rect x="314.50" y="270.91" width="3.5" height="3.5" fill="none" stroke="#fa9448" stroke-width="1.1"/>
<rect x="314.76" y="271.31" width="3.5" height="3.5" fill="none" stroke="#fa9448" stroke-width="1.1"/>
<rect x="315.25" y="269.84" width="3.5" height="3.5" fill="none" stroke="#fa9448" stroke-width="1.1"/>
<rect x="315.34" y="261.86" width="3.5" height="3.5" fill="none" stroke="#fa9448" stroke-width="1.1"/>
<rect x="316.18" y="263.74" width="3.5" height="3.5" fill="none" stroke="#fa9448" stroke-width="1.1"/>
<rect x="315.88" y="260.44" width="3.5" height="3.5" fill="none" stroke="#fa9448" stroke-width="1.1"/>
<rect x="316.62" y="268.98" width="3.5" height="3.5" fill="none" stroke="#fa9448" stroke-width="1.1"/>
<rect x="316.70" y="265.83" width="3.5" height="3.5" fill="none" stroke="#fa9448" stroke-width="1.1"/>
<rect x="317.12" y="263.05" width="3.5" height="3.5" fill="none" stroke="#fa9448" stroke-width="1.1"/>
<rect x="317.69" y="264.41" width="3.5" height="3.5" fill="none" stroke="#fa9448" stroke-width="1.1"/>
<rect x="317.88" y="270.39" width="3.5" height="3.5" fill="none" stroke="#fa9448" stroke-width="1.1"/>
<rect x="317.70" y="265.29" width="3.5" height="3.5" fill="none" stroke="#fa9448" stroke-width="1.1"/>
<rect x="318.09" y="271.00" width="3.5" height="3.5" fill="none" stroke="#fa9448" stroke-width="1.1"/>
<rect x="318.11" y="269.08" width="3.5" height="3.5" fill="none" stroke="#fa9448" stroke-width="1.1"/>
<rect x="318.77" y="261.07" width="3.5" height="3.5" fill="none" stroke="#fa9448" stroke-width="1.1"/>
<rect x="319.08" y="265.41" width="3.5" height="3.5" fill="none" stroke="#fa9448" stroke-width="1.1"/>
<rect x="318.81" y="258.89" width="3.5" height="3.5" fill="none" stroke="#fa9448" stroke-width="1.1"/>
<rect x="319.28" y="260.95" width="3.5" height="3.5" fill="none" stroke="#fa9448" stroke-width="1.1"/>
<rect x="319.82" y="263.77" width="3.5" height="3.5" fill="none" stroke="#fa9448" stroke-width="1.1"/>
<rect x="320.31" y="269.99" width="3.5" height="3.5" fill="none" stroke="#fa9448" stroke-width="1.1"/>
<rect x="319.94" y="258.83" width="3.5" height="3.5" fill="none" stroke="#fa9448" stroke-width="1.1"/>
<rect x="320.40" y="256.90" width="3.5" height="3.5" fill="none" stroke="#fa9448" stroke-width="1.1"/>
<rect x="321.10" y="258.21" width="3.5" height="3.5" fill="none" stroke="#fa9448" stroke-width="1.1"/>
<rect x="321.17" y="264.66" width="3.5" height="3.5" fill="none" stroke="#fa9448" stroke-width="1.1"/>
<rect x="321.02" y="269.99" width="3.5" height="3.5" fill="none" stroke="#fa9448" stroke-width="1.1"/>
<rect x="321.52" y="263.05" width="3.5" height="3.5" fill="none" stroke="#fa9448" stroke-width="1.1"/>
<rect x="322.02" y="261.34" width="3.5" height="3.5" fill="none" stroke="#fa9448" stroke-width="1.1"/>
<rect x="322.02" y="262.39" width="3.5" height="3.5" fill="none" stroke="#fa9448" stroke-width="1.1"/>
<rect x="322.47" y="267.22" width="3.5" height="3.5" fill="none" stroke="#fa9448" stroke-width="1.1"/>
<rect x="322.33" y="262.02" width="3.5" height="3.5" fill="none" stroke="#fa9448" stroke-width="1.1"/>
<rect x="322.71" y="260.37" width="3.5" height="3.5" fill="none" stroke="#fa9448" stroke-width="1.1"/>
<rect x="323.29" y="253.19" width="3.5" height="3.5" fill="none" stroke="#fa9448" stroke-width="1.1"/>
<rect x="322.94" y="258.37" width="3.5" height="3.5" fill="none" stroke="#fa9448" stroke-width="1.1"/>
<rect x="323.51" y="254.60" width="3.5" height="3.5" fill="none" stroke="#fa9448" stroke-width="1.1"/>
<rect x="323.47" y="256.04" width="3.5" height="3.5" fill="none" stroke="#fa9448" stroke-width="1.1"/>
<rect x="323.62" y="265.68" width="3.5" height="3.5" fill="none" stroke="#fa9448" stroke-width="1.1"/>
<rect x="324.14" y="261.61" width="3.5" height="3.5" fill="none" stroke="#fa9448" stroke-width="1.1"/>
<rect x="324.40" y="268.78" width="3.5" height="3.5" fill="none" stroke="#fa9448" stroke-width="1.1"/>
<rect x="324.47" y="261.37" width="3.5" height="3.5" fill="none" stroke="#fa9448" stroke-width="1.1"/>
<rect x="324.93" y="263.61" width="3.5" height="3.5" fill="none" stroke="#fa9448" stroke-width="1.1"/>
<rect x="325.37" y="262.00" width="3.5" height="3.5" fill="none" stroke="#fa9448" stroke-width="1.1"/>
<rect x="324.94" y="253.96" width="3.5" height="3.5" fill="none" stroke="#fa9448" stroke-width="1.1"/>
<rect x="325.45" y="258.46" width="3.5" height="3.5" fill="none" stroke="#fa9448" stroke-width="1.1"/>
<rect x="326.04" y="263.11" width="3.5" height="3.5" fill="none" stroke="#fa9448" stroke-width="1.1"/>
<rect x="325.68" y="259.71" width="3.5" height="3.5" fill="none" stroke="#fa9448" stroke-width="1.1"/>
<rect x="326.04" y="257.68" width="3.5" height="3.5" fill="none" stroke="#fa9448" stroke-width="1.1"/>
<rect x="326.09" y="256.14" width="3.5" height="3.5" fill="none" stroke="#fa9448" stroke-width="1.1"/>
<rect x="326.64" y="255.52" width="3.5" height="3.5" fill="none" stroke="#fa9448" stroke-width="1.1"/>
<rect x="326.87" y="259.50" width="3.5" height="3.5" fill="none" stroke="#fa9448" stroke-width="1.1"/>
<rect x="327.19" y="251.80" width="3.5" height="3.5" fill="none" stroke="#fa9448" stroke-width="1.1"/>
<rect x="327.60" y="258.54" width="3.5" height="3.5" fill="none" stroke="#fa9448" stroke-width="1.1"/>
<rect x="327.86" y="256.63" width="3.5" height="3.5" fill="none" stroke="#fa9448" stroke-width="1.1"/>
<rect x="327.55" y="264.51" width="3.5" height="3.5" fill="none" stroke="#fa9448" stroke-width="1.1"/>
<rect x="327.79" y="257.06" width="3.5" height="3.5" fill="none" stroke="#fa9448" stroke-width="1.1"/>
<rect x="328.50" y="252.13" width="3.5" height="3.5" fill="none" stroke="#fa9448" stroke-width="1.1"/>
<rect x="328.38" y="256.87" width="3.5" height="3.5" fill="none" stroke="#fa9448" stroke-width="1.1"/>
<rect x="328.84" y="264.33" width="3.5" height="3.5" fill="none" stroke="#fa9448" stroke-width="1.1"/>
<rect x="328.93" y="257.02" width="3.5" height="3.5" fill="none" stroke="#fa9448" stroke-width="1.1"/>
<rect x="328.91" y="258.09" width="3.5" height="3.5" fill="none" stroke="#fa9448" stroke-width="1.1"/>
<rect x="329.43" y="252.27" width="3.5" height="3.5" fill="none" stroke="#fa9448" stroke-width="1.1"/>
<rect x="329.36" y="258.19" width="3.5" height="3.5" fill="none" stroke="#fa9448" stroke-width="1.1"/>
<rect x="330.19" y="257.21" width="3.5" height="3.5" fill="none" stroke="#fa9448" stroke-width="1.1"/>
<rect x="330.05" y="256.36" width="3.5" height="3.5" fill="none" stroke="#fa9448" stroke-width="1.1"/>
<rect x="330.32" y="251.90" width="3.5" height="3.5" fill="none" stroke="#fa9448" stroke-width="1.1"/>
<rect x="330.70" y="256.97" width="3.5" height="3.5" fill="none" stroke="#fa9448" stroke-width="1.1"/>
<rect x="330.96" y="253.86" width="3.5" height="3.5" fill="none" stroke="#fa9448" stroke-width="1.1"/>
<rect x="331.01" y="262.46" width="3.5" height="3.5" fill="none" stroke="#fa9448" stroke-width="1.1"/>
<rect x="331.39" y="258.34" width="3.5" height="3.5" fill="none" stroke="#fa9448" stroke-width="1.1"/>
<rect x="331.54" y="245.82" width="3.5" height="3.5" fill="none" stroke="#fa9448" stroke-width="1.1"/>
<rect x="331.49" y="259.70" width="3.5" height="3.5" fill="none" stroke="#fa9448" stroke-width="1.1"/>
<rect x="332.17" y="249.10" width="3.5" height="3.5" fill="none" stroke="#fa9448" stroke-width="1.1"/>
<rect x="332.31" y="255.39" width="3.5" height="3.5" fill="none" stroke="#fa9448" stroke-width="1.1"/>
<rect x="332.56" y="257.36" width="3.5" height="3.5" fill="none" stroke="#fa9448" stroke-width="1.1"/>
<rect x="332.22" y="251.59" width="3.5" height="3.5" fill="none" stroke="#fa9448" stroke-width="1.1"/>
<rect x="332.63" y="258.94" width="3.5" height="3.5" fill="none" stroke="#fa9448" stroke-width="1.1"/>
<rect x="333.20" y="250.51" width="3.5" height="3.5" fill="none" stroke="#fa9448" stroke-width="1.1"/>
<rect x="333.70" y="250.84" width="3.5" height="3.5" fill="none" stroke="#fa9448" stroke-width="1.1"/>
<rect x="333.92" y="258.42" width="3.5" height="3.5" fill="none" stroke="#fa9448" stroke-width="1.1"/>
<rect x="333.57" y="252.89" width="3.5" height="3.5" fill="none" stroke="#fa9448" stroke-width="1.1"/>
<rect x="333.89" y="255.66" width="3.5" height="3.5" fill="none" stroke="#fa9448" stroke-width="1.1"/>
<rect x="334.26" y="244.85" width="3.5" height="3.5" fill="none" stroke="#fa9448" stroke-width="1.1"/>
<rect x="334.85" y="249.43" width="3.5" height="3.5" fill="none" stroke="#fa9448" stroke-width="1.1"/>
<rect x="334.76" y="253.23" width="3.5" height="3.5" fill="none" stroke="#fa9448" stroke-width="1.1"/>
<rect x="334.64" y="251.05" width="3.5" height="3.5" fill="none" stroke="#fa9448" stroke-width="1.1"/>
<rect x="335.23" y="260.31" width="3.5" height="3.5" fill="none" stroke="#fa9448" stroke-width="1.1"/>
<rect x="335.40" y="250.17" width="3.5" height="3.5" fill="none" stroke="#fa9448" stroke-width="1.1"/>
<rect x="335.73" y="250.09" width="3.5" height="3.5" fill="none" stroke="#fa9448" stroke-width="1.1"/>
<rect x="335.67" y="254.91" width="3.5" height="3.5" fill="none" stroke="#fa9448" stroke-width="1.1"/>
<rect x="335.79" y="252.40" width="3.5" height="3.5" fill="none" stroke="#fa9448" stroke-width="1.1"/>
<rect x="336.50" y="261.55" width="3.5" height="3.5" fill="none" stroke="#fa9448" stroke-width="1.1"/>
<rect x="336.19" y="254.91" width="3.5" height="3.5" fill="none" stroke="#fa9448" stroke-width="1.1"/>
<rect x="337.14" y="252.02" width="3.5" height="3.5" fill="none" stroke="#fa9448" stroke-width="1.1"/>
<rect x="337.17" y="242.73" width="3.5" height="3.5" fill="none" stroke="#fa9448" stroke-width="1.1"/>
<rect x="337.30" y="255.03" width="3.5" height="3.5" fill="none" stroke="#fa9448" stroke-width="1.1"/>
<rect x="337.21" y="255.25" width="3.5" height="3.5" fill="none" stroke="#fa9448" stroke-width="1.1"/>
<rect x="337.63" y="249.48" width="3.5" height="3.5" fill="none" stroke="#fa9448" stroke-width="1.1"/>
<rect x="337.97" y="246.12" width="3.5" height="3.5" fill="none" stroke="#fa9448" stroke-width="1.1"/>
<rect x="338.54" y="256.12" width="3.5" height="3.5" fill="none" stroke="#fa9448" stroke-width="1.1"/>
<rect x="338.06" y="255.36" width="3.5" height="3.5" fill="none" stroke="#fa9448" stroke-width="1.1"/>
<rect x="338.49" y="250.02" width="3.5" height="3.5" fill="none" stroke="#fa9448" stroke-width="1.1"/>
<rect x="338.90" y="246.85" width="3.5" height="3.5" fill="none" stroke="#fa9448" stroke-width="1.1"/>
<rect x="338.86" y="257.68" width="3.5" height="3.5" fill="none" stroke="#fa9448" stroke-width="1.1"/>
<rect x="338.92" y="252.69" width="3.5" height="3.5" fill="none" stroke="#fa9448" stroke-width="1.1"/>
<rect x="339.62" y="253.41" width="3.5" height="3.5" fill="none" stroke="#fa9448" stroke-width="1.1"/>
<rect x="339.42" y="248.10" width="3.5" height="3.5" fill="none" stroke="#fa9448" stroke-width="1.1"/>
<rect x="339.88" y="247.57" width="3.5" height="3.5" fill="none" stroke="#fa9448" stroke-width="1.1"/>
<rect x="340.41" y="250.36" width="3.5" height="3.5" fill="none" stroke="#fa9448" stroke-width="1.1"/>
<rect x="340.69" y="245.50" width="3.5" height="3.5" fill="none" stroke="#fa9448" stroke-width="1.1"/>
<rect x="340.61" y="249.08" width="3.5" height="3.5" fill="none" stroke="#fa9448" stroke-width="1.1"/>
<rect x="341.03" y="252.16" width="3.5" height="3.5" fill="none" stroke="#fa9448" stroke-width="1.1"/>
<rect x="341.33" y="252.15" width="3.5" height="3.5" fill="none" stroke="#fa9448" stroke-width="1.1"/>
<rect x="341.04" y="249.89" width="3.5" height="3.5" fill="none" stroke="#fa9448" stroke-width="1.1"/>
<rect x="341.65" y="243.80" width="3.5" height="3.5" fill="none" stroke="#fa9448" stroke-width="1.1"/>
<rect x="342.05" y="250.68" width="3.5" height="3.5" fill="none" stroke="#fa9448" stroke-width="1.1"/>
<rect x="341.72" y="246.75" width="3.5" height="3.5" fill="none" stroke="#fa9448" stroke-width="1.1"/>
<rect x="342.11" y="250.30" width="3.5" height="3.5" fill="none" stroke="#fa9448" stroke-width="1.1"/>
<rect x="342.41" y="252.05" width="3.5" height="3.5" fill="none" stroke="#fa9448" stroke-width="1.1"/>
<rect x="343.08" y="254.85" width="3.5" height="3.5" fill="none" stroke="#fa9448" stroke-width="1.1"/>
<rect x="343.22" y="246.95" width="3.5" height="3.5" fill="none" stroke="#fa9448" stroke-width="1.1"/>
<rect x="343.56" y="249.74" width="3.5" height="3.5" fill="none" stroke="#fa9448" stroke-width="1.1"/>
<rect x="343.33" y="245.54" width="3.5" height="3.5" fill="none" stroke="#fa9448" stroke-width="1.1"/>
<rect x="343.43" y="242.22" width="3.5" height="3.5" fill="none" stroke="#fa9448" stroke-width="1.1"/>
<rect x="344.17" y="245.69" width="3.5" height="3.5" fill="none" stroke="#fa9448" stroke-width="1.1"/>
<rect x="344.43" y="247.39" width="3.5" height="3.5" fill="none" stroke="#fa9448" stroke-width="1.1"/>
<rect x="344.40" y="239.64" width="3.5" height="3.5" fill="none" stroke="#fa9448" stroke-width="1.1"/>
<rect x="344.83" y="251.23" width="3.5" height="3.5" fill="none" stroke="#fa9448" stroke-width="1.1"/>
<rect x="344.49" y="252.06" width="3.5" height="3.5" fill="none" stroke="#fa9448" stroke-width="1.1"/>
<rect x="344.72" y="246.08" width="3.5" height="3.5" fill="none" stroke="#fa9448" stroke-width="1.1"/>
<rect x="345.40" y="247.31" width="3.5" height="3.5" fill="none" stroke="#fa9448" stroke-width="1.1"/>
<rect x="345.53" y="247.49" width="3.5" height="3.5" fill="none" stroke="#fa9448" stroke-width="1.1"/>
<rect x="346.12" y="245.32" width="3.5" height="3.5" fill="none" stroke="#fa9448" stroke-width="1.1"/>
<rect x="346.15" y="245.16" width="3.5" height="3.5" fill="none" stroke="#fa9448" stroke-width="1.1"/>
<rect x="346.46" y="243.78" width="3.5" height="3.5" fill="none" stroke="#fa9448" stroke-width="1.1"/>
<rect x="346.70" y="253.31" width="3.5" height="3.5" fill="none" stroke="#fa9448" stroke-width="1.1"/>
<rect x="346.68" y="245.42" width="3.5" height="3.5" fill="none" stroke="#fa9448" stroke-width="1.1"/>
<rect x="346.83" y="250.13" width="3.5" height="3.5" fill="none" stroke="#fa9448" stroke-width="1.1"/>
<rect x="347.03" y="247.88" width="3.5" height="3.5" fill="none" stroke="#fa9448" stroke-width="1.1"/>
<rect x="347.19" y="247.86" width="3.5" height="3.5" fill="none" stroke="#fa9448" stroke-width="1.1"/>
<rect x="347.28" y="243.25" width="3.5" height="3.5" fill="none" stroke="#fa9448" stroke-width="1.1"/>
<rect x="347.47" y="242.38" width="3.5" height="3.5" fill="none" stroke="#fa9448" stroke-width="1.1"/>
<rect x="347.68" y="248.19" width="3.5" height="3.5" fill="none" stroke="#fa9448" stroke-width="1.1"/>
<rect x="348.07" y="245.59" width="3.5" height="3.5" fill="none" stroke="#fa9448" stroke-width="1.1"/>
<rect x="348.26" y="246.04" width="3.5" height="3.5" fill="none" stroke="#fa9448" stroke-width="1.1"/>
<rect x="348.59" y="240.57" width="3.5" height="3.5" fill="none" stroke="#fa9448" stroke-width="1.1"/>
<rect x="348.78" y="251.88" width="3.5" height="3.5" fill="none" stroke="#fa9448" stroke-width="1.1"/>
<rect x="349.24" y="249.91" width="3.5" height="3.5" fill="none" stroke="#fa9448" stroke-width="1.1"/>
<rect x="349.07" y="251.82" width="3.5" height="3.5" fill="none" stroke="#fa9448" stroke-width="1.1"/>
<rect x="349.68" y="243.52" width="3.5" height="3.5" fill="none" stroke="#fa9448" stroke-width="1.1"/>
<rect x="350.02" y="246.13" width="3.5" height="3.5" fill="none" stroke="#fa9448" stroke-width="1.1"/>
<rect x="350.02" y="247.54" width="3.5" height="3.5" fill="none" stroke="#fa9448" stroke-width="1.1"/>
<rect x="350.08" y="247.58" width="3.5" height="3.5" fill="none" stroke="#fa9448" stroke-width="1.1"/>
<rect x="350.88" y="241.24" width="3.5" height="3.5" fill="none" stroke="#fa9448" stroke-width="1.1"/>
<rect x="350.62" y="244.02" width="3.5" height="3.5" fill="none" stroke="#fa9448" stroke-width="1.1"/>
<rect x="350.64" y="248.57" width="3.5" height="3.5" fill="none" stroke="#fa9448" stroke-width="1.1"/>
<rect x="350.94" y="245.09" width="3.5" height="3.5" fill="none" stroke="#fa9448" stroke-width="1.1"/>
<rect x="351.49" y="237.61" width="3.5" height="3.5" fill="none" stroke="#fa9448" stroke-width="1.1"/>
<rect x="352.02" y="243.70" width="3.5" height="3.5" fill="none" stroke="#fa9448" stroke-width="1.1"/>
<rect x="352.30" y="250.77" width="3.5" height="3.5" fill="none" stroke="#fa9448" stroke-width="1.1"/>
<rect x="352.23" y="243.61" width="3.5" height="3.5" fill="none" stroke="#fa9448" stroke-width="1.1"/>
<rect x="352.27" y="244.97" width="3.5" height="3.5" fill="none" stroke="#fa9448" stroke-width="1.1"/>
<rect x="352.63" y="244.72" width="3.5" height="3.5" fill="none" stroke="#fa9448" stroke-width="1.1"/>
<rect x="352.57" y="242.45" width="3.5" height="3.5" fill="none" stroke="#fa9448" stroke-width="1.1"/>
<rect x="353.38" y="244.99" width="3.5" height="3.5" fill="none" stroke="#fa9448" stroke-width="1.1"/>
<rect x="353.51" y="245.68" width="3.5" height="3.5" fill="none" stroke="#fa9448" stroke-width="1.1"/>
<rect x="353.18" y="251.48" width="3.5" height="3.5" fill="none" stroke="#fa9448" stroke-width="1.1"/>
<rect x="353.90" y="245.00" width="3.5" height="3.5" fill="none" stroke="#fa9448" stroke-width="1.1"/>
<rect x="353.88" y="244.32" width="3.5" height="3.5" fill="none" stroke="#fa9448" stroke-width="1.1"/>
<rect x="354.07" y="247.92" width="3.5" height="3.5" fill="none" stroke="#fa9448" stroke-width="1.1"/>
<rect x="354.85" y="241.61" width="3.5" height="3.5" fill="none" stroke="#fa9448" stroke-width="1.1"/>
<rect x="354.99" y="248.25" width="3.5" height="3.5" fill="none" stroke="#fa9448" stroke-width="1.1"/>
<rect x="355.10" y="246.42" width="3.5" height="3.5" fill="none" stroke="#fa9448" stroke-width="1.1"/>
<rect x="355.46" y="245.99" width="3.5" height="3.5" fill="none" stroke="#fa9448" stroke-width="1.1"/>
<rect x="355.15" y="249.82" width="3.5" height="3.5" fill="none" stroke="#fa9448" stroke-width="1.1"/>
<rect x="355.99" y="244.11" width="3.5" height="3.5" fill="none" stroke="#fa9448" stroke-width="1.1"/>
<rect x="356.09" y="249.29" width="3.5" height="3.5" fill="none" stroke="#fa9448" stroke-width="1.1"/>
<rect x="356.04" y="251.43" width="3.5" height="3.5" fill="none" stroke="#fa9448" stroke-width="1.1"/>
<rect x="356.73" y="249.54" width="3.5" height="3.5" fill="none" stroke="#fa9448" stroke-width="1.1"/>
<rect x="356.19" y="247.10" width="3.5" height="3.5" fill="none" stroke="#fa9448" stroke-width="1.1"/>
<rect x="356.49" y="245.97" width="3.5" height="3.5" fill="none" stroke="#fa9448" stroke-width="1.1"/>
<rect x="357.29" y="247.55" width="3.5" height="3.5" fill="none" stroke="#fa9448" stroke-width="1.1"/>
<rect x="357.59" y="246.33" width="3.5" height="3.5" fill="none" stroke="#fa9448" stroke-width="1.1"/>
<rect x="357.21" y="247.28" width="3.5" height="3.5" fill="none" stroke="#fa9448" stroke-width="1.1"/>
<rect x="357.90" y="250.84" width="3.5" height="3.5" fill="none" stroke="#fa9448" stroke-width="1.1"/>
<rect x="358.06" y="250.40" width="3.5" height="3.5" fill="none" stroke="#fa9448" stroke-width="1.1"/>
<rect x="358.25" y="249.22" width="3.5" height="3.5" fill="none" stroke="#fa9448" stroke-width="1.1"/>
<rect x="358.30" y="248.76" width="3.5" height="3.5" fill="none" stroke="#fa9448" stroke-width="1.1"/>
<rect x="358.35" y="254.05" width="3.5" height="3.5" fill="none" stroke="#fa9448" stroke-width="1.1"/>
<rect x="358.92" y="250.22" width="3.5" height="3.5" fill="none" stroke="#fa9448" stroke-width="1.1"/>
<rect x="359.36" y="249.75" width="3.5" height="3.5" fill="none" stroke="#fa9448" stroke-width="1.1"/>
<rect x="359.17" y="253.29" width="3.5" height="3.5" fill="none" stroke="#fa9448" stroke-width="1.1"/>
<rect x="359.83" y="253.20" width="3.5" height="3.5" fill="none" stroke="#fa9448" stroke-width="1.1"/>
<rect x="359.42" y="255.93" width="3.5" height="3.5" fill="none" stroke="#fa9448" stroke-width="1.1"/>
<rect x="360.15" y="250.28" width="3.5" height="3.5" fill="none" stroke="#fa9448" stroke-width="1.1"/>
<rect x="360.16" y="247.27" width="3.5" height="3.5" fill="none" stroke="#fa9448" stroke-width="1.1"/>
<rect x="360.25" y="250.69" width="3.5" height="3.5" fill="none" stroke="#fa9448" stroke-width="1.1"/>
<rect x="360.77" y="254.56" width="3.5" height="3.5" fill="none" stroke="#fa9448" stroke-width="1.1"/>
<rect x="361.00" y="250.62" width="3.5" height="3.5" fill="none" stroke="#fa9448" stroke-width="1.1"/>
<rect x="361.32" y="258.31" width="3.5" height="3.5" fill="none" stroke="#fa9448" stroke-width="1.1"/>
<rect x="361.39" y="249.49" width="3.5" height="3.5" fill="none" stroke="#fa9448" stroke-width="1.1"/>
<rect x="361.85" y="253.68" width="3.5" height="3.5" fill="none" stroke="#fa9448" stroke-width="1.1"/>
<rect x="362.14" y="255.95" width="3.5" height="3.5" fill="none" stroke="#fa9448" stroke-width="1.1"/>
<rect x="362.15" y="257.44" width="3.5" height="3.5" fill="none" stroke="#fa9448" stroke-width="1.1"/>
<rect x="362.28" y="256.72" width="3.5" height="3.5" fill="none" stroke="#fa9448" stroke-width="1.1"/>
<rect x="362.74" y="258.90" width="3.5" height="3.5" fill="none" stroke="#fa9448" stroke-width="1.1"/>
<rect x="362.99" y="253.30" width="3.5" height="3.5" fill="none" stroke="#fa9448" stroke-width="1.1"/>
<rect x="362.72" y="251.34" width="3.5" height="3.5" fill="none" stroke="#fa9448" stroke-width="1.1"/>
<rect x="362.89" y="253.88" width="3.5" height="3.5" fill="none" stroke="#fa9448" stroke-width="1.1"/>
<rect x="363.33" y="253.59" width="3.5" height="3.5" fill="none" stroke="#fa9448" stroke-width="1.1"/>
<rect x="364.04" y="260.54" width="3.5" height="3.5" fill="none" stroke="#fa9448" stroke-width="1.1"/>
<rect x="363.88" y="256.81" width="3.5" height="3.5" fill="none" stroke="#fa9448" stroke-width="1.1"/>
<rect x="364.23" y="257.50" width="3.5" height="3.5" fill="none" stroke="#fa9448" stroke-width="1.1"/>
<rect x="364.10" y="248.64" width="3.5" height="3.5" fill="none" stroke="#fa9448" stroke-width="1.1"/>
<rect x="364.43" y="255.88" width="3.5" height="3.5" fill="none" stroke="#fa9448" stroke-width="1.1"/>
<rect x="365.18" y="258.35" width="3.5" height="3.5" fill="none" stroke="#fa9448" stroke-width="1.1"/>
<rect x="365.16" y="258.08" width="3.5" height="3.5" fill="none" stroke="#fa9448" stroke-width="1.1"/>
<rect x="365.17" y="249.84" width="3.5" height="3.5" fill="none" stroke="#fa9448" stroke-width="1.1"/>
<rect x="365.54" y="258.53" width="3.5" height="3.5" fill="none" stroke="#fa9448" stroke-width="1.1"/>
<rect x="366.11" y="260.16" width="3.5" height="3.5" fill="none" stroke="#fa9448" stroke-width="1.1"/>
<rect x="366.00" y="261.50" width="3.5" height="3.5" fill="none" stroke="#fa9448" stroke-width="1.1"/>
<rect x="366.01" y="257.10" width="3.5" height="3.5" fill="none" stroke="#fa9448" stroke-width="1.1"/>
<rect x="366.12" y="262.97" width="3.5" height="3.5" fill="none" stroke="#fa9448" stroke-width="1.1"/>
<rect x="367.03" y="262.62" width="3.5" height="3.5" fill="none" stroke="#fa9448" stroke-width="1.1"/>
<rect x="367.10" y="262.62" width="3.5" height="3.5" fill="none" stroke="#fa9448" stroke-width="1.1"/>
<rect x="366.95" y="257.74" width="3.5" height="3.5" fill="none" stroke="#fa9448" stroke-width="1.1"/>
<rect x="367.15" y="260.26" width="3.5" height="3.5" fill="none" stroke="#fa9448" stroke-width="1.1"/>
<rect x="367.53" y="256.47" width="3.5" height="3.5" fill="none" stroke="#fa9448" stroke-width="1.1"/>
<rect x="367.64" y="257.95" width="3.5" height="3.5" fill="none" stroke="#fa9448" stroke-width="1.1"/>
<rect x="367.91" y="259.66" width="3.5" height="3.5" fill="none" stroke="#fa9448" stroke-width="1.1"/>
<rect x="368.27" y="256.83" width="3.5" height="3.5" fill="none" stroke="#fa9448" stroke-width="1.1"/>
<rect x="368.63" y="260.54" width="3.5" height="3.5" fill="none" stroke="#fa9448" stroke-width="1.1"/>
<rect x="368.45" y="260.12" width="3.5" height="3.5" fill="none" stroke="#fa9448" stroke-width="1.1"/>
<rect x="368.84" y="259.57" width="3.5" height="3.5" fill="none" stroke="#fa9448" stroke-width="1.1"/>
<rect x="369.63" y="265.43" width="3.5" height="3.5" fill="none" stroke="#fa9448" stroke-width="1.1"/>
<rect x="369.38" y="265.60" width="3.5" height="3.5" fill="none" stroke="#fa9448" stroke-width="1.1"/>
<rect x="369.75" y="260.44" width="3.5" height="3.5" fill="none" stroke="#fa9448" stroke-width="1.1"/>
<rect x="370.16" y="258.71" width="3.5" height="3.5" fill="none" stroke="#fa9448" stroke-width="1.1"/>
<rect x="370.31" y="254.80" width="3.5" height="3.5" fill="none" stroke="#fa9448" stroke-width="1.1"/>
<rect x="370.62" y="265.41" width="3.5" height="3.5" fill="none" stroke="#fa9448" stroke-width="1.1"/>
<rect x="370.58" y="264.20" width="3.5" height="3.5" fill="none" stroke="#fa9448" stroke-width="1.1"/>
<rect x="370.65" y="261.29" width="3.5" height="3.5" fill="none" stroke="#fa9448" stroke-width="1.1"/>
<rect x="371.09" y="268.21" width="3.5" height="3.5" fill="none" stroke="#fa9448" stroke-width="1.1"/>
<rect x="371.38" y="265.57" width="3.5" height="3.5" fill="none" stroke="#fa9448" stroke-width="1.1"/>
<rect x="371.16" y="260.85" width="3.5" height="3.5" fill="none" stroke="#fa9448" stroke-width="1.1"/>
<rect x="371.59" y="265.02" width="3.5" height="3.5" fill="none" stroke="#fa9448" stroke-width="1.1"/>
<rect x="372.06" y="259.25" width="3.5" height="3.5" fill="none" stroke="#fa9448" stroke-width="1.1"/>
<rect x="371.96" y="264.77" width="3.5" height="3.5" fill="none" stroke="#fa9448" stroke-width="1.1"/>
<rect x="372.57" y="262.84" width="3.5" height="3.5" fill="none" stroke="#fa9448" stroke-width="1.1"/>
<rect x="372.37" y="266.51" width="3.5" height="3.5" fill="none" stroke="#fa9448" stroke-width="1.1"/>
<rect x="372.66" y="263.63" width="3.5" height="3.5" fill="none" stroke="#fa9448" stroke-width="1.1"/>
<rect x="372.81" y="263.49" width="3.5" height="3.5" fill="none" stroke="#fa9448" stroke-width="1.1"/>
<rect x="373.77" y="270.19" width="3.5" height="3.5" fill="none" stroke="#fa9448" stroke-width="1.1"/>
<rect x="374.01" y="269.14" width="3.5" height="3.5" fill="none" stroke="#fa9448" stroke-width="1.1"/>
<rect x="373.48" y="267.71" width="3.5" height="3.5" fill="none" stroke="#fa9448" stroke-width="1.1"/>
<rect x="374.00" y="266.67" width="3.5" height="3.5" fill="none" stroke="#fa9448" stroke-width="1.1"/>
<rect x="373.94" y="273.71" width="3.5" height="3.5" fill="none" stroke="#fa9448" stroke-width="1.1"/>
<rect x="374.33" y="268.43" width="3.5" height="3.5" fill="none" stroke="#fa9448" stroke-width="1.1"/>
<rect x="374.74" y="271.78" width="3.5" height="3.5" fill="none" stroke="#fa9448" stroke-width="1.1"/>
<rect x="375.39" y="268.60" width="3.5" height="3.5" fill="none" stroke="#fa9448" stroke-width="1.1"/>
<rect x="375.35" y="272.55" width="3.5" height="3.5" fill="none" stroke="#fa9448" stroke-width="1.1"/>
<rect x="375.76" y="264.33" width="3.5" height="3.5" fill="none" stroke="#fa9448" stroke-width="1.1"/>
<rect x="375.61" y="272.31" width="3.5" height="3.5" fill="none" stroke="#fa9448" stroke-width="1.1"/>
<rect x="375.70" y="269.72" width="3.5" height="3.5" fill="none" stroke="#fa9448" stroke-width="1.1"/>
<rect x="375.89" y="271.99" width="3.5" height="3.5" fill="none" stroke="#fa9448" stroke-width="1.1"/>
<rect x="376.23" y="261.87" width="3.5" height="3.5" fill="none" stroke="#fa9448" stroke-width="1.1"/>
<rect x="376.91" y="273.05" width="3.5" height="3.5" fill="none" stroke="#fa9448" stroke-width="1.1"/>
<rect x="377.00" y="270.82" width="3.5" height="3.5" fill="none" stroke="#fa9448" stroke-width="1.1"/>
<rect x="376.82" y="272.69" width="3.5" height="3.5" fill="none" stroke="#fa9448" stroke-width="1.1"/>
<rect x="377.48" y="272.99" width="3.5" height="3.5" fill="none" stroke="#fa9448" stroke-width="1.1"/>
<rect x="377.89" y="270.18" width="3.5" height="3.5" fill="none" stroke="#fa9448" stroke-width="1.1"/>
<rect x="378.09" y="277.04" width="3.5" height="3.5" fill="none" stroke="#fa9448" stroke-width="1.1"/>
<rect x="377.67" y="276.72" width="3.5" height="3.5" fill="none" stroke="#fa9448" stroke-width="1.1"/>
<rect x="378.24" y="278.07" width="3.5" height="3.5" fill="none" stroke="#fa9448" stroke-width="1.1"/>
<rect x="378.09" y="277.96" width="3.5" height="3.5" fill="none" stroke="#fa9448" stroke-width="1.1"/>
<rect x="378.54" y="272.10" width="3.5" height="3.5" fill="none" stroke="#fa9448" stroke-width="1.1"/>
<rect x="379.09" y="275.83" width="3.5" height="3.5" fill="none" stroke="#fa9448" stroke-width="1.1"/>
<rect x="378.87" y="277.33" width="3.5" height="3.5" fill="none" stroke="#fa9448" stroke-width="1.1"/>
<rect x="379.31" y="271.98" width="3.5" height="3.5" fill="none" stroke="#fa9448" stroke-width="1.1"/>
<rect x="379.45" y="276.09" width="3.5" height="3.5" fill="none" stroke="#fa9448" stroke-width="1.1"/>
<rect x="379.46" y="274.88" width="3.5" height="3.5" fill="none" stroke="#fa9448" stroke-width="1.1"/>
<rect x="380.45" y="276.73" width="3.5" height="3.5" fill="none" stroke="#fa9448" stroke-width="1.1"/>
<rect x="380.08" y="276.77" width="3.5" height="3.5" fill="none" stroke="#fa9448" stroke-width="1.1"/>
<rect x="380.83" y="279.45" width="3.5" height="3.5" fill="none" stroke="#fa9448" stroke-width="1.1"/>
<rect x="380.71" y="278.49" width="3.5" height="3.5" fill="none" stroke="#fa9448" stroke-width="1.1"/>
<rect x="380.86" y="277.13" width="3.5" height="3.5" fill="none" stroke="#fa9448" stroke-width="1.1"/>
<rect x="381.15" y="278.24" width="3.5" height="3.5" fill="none" stroke="#fa9448" stroke-width="1.1"/>
<rect x="381.25" y="283.13" width="3.5" height="3.5" fill="none" stroke="#fa9448" stroke-width="1.1"/>
<rect x="381.41" y="276.56" width="3.5" height="3.5" fill="none" stroke="#fa9448" stroke-width="1.1"/>
<rect x="382.08" y="284.67" width="3.5" height="3.5" fill="none" stroke="#fa9448" stroke-width="1.1"/>
<rect x="381.80" y="280.91" width="3.5" height="3.5" fill="none" stroke="#fa9448" stroke-width="1.1"/>
<rect x="382.45" y="279.35" width="3.5" height="3.5" fill="none" stroke="#fa9448" stroke-width="1.1"/>
<rect x="382.23" y="278.64" width="3.5" height="3.5" fill="none" stroke="#fa9448" stroke-width="1.1"/>
<rect x="382.65" y="281.99" width="3.5" height="3.5" fill="none" stroke="#fa9448" stroke-width="1.1"/>
<rect x="383.16" y="286.44" width="3.5" height="3.5" fill="none" stroke="#fa9448" stroke-width="1.1"/>
<rect x="383.65" y="284.46" width="3.5" height="3.5" fill="none" stroke="#fa9448" stroke-width="1.1"/>
<rect x="383.46" y="281.96" width="3.5" height="3.5" fill="none" stroke="#fa9448" stroke-width="1.1"/>
<rect x="384.06" y="279.33" width="3.5" height="3.5" fill="none" stroke="#fa9448" stroke-width="1.1"/>
<rect x="383.70" y="282.24" width="3.5" height="3.5" fill="none" stroke="#fa9448" stroke-width="1.1"/>
<rect x="384.60" y="286.75" width="3.5" height="3.5" fill="none" stroke="#fa9448" stroke-width="1.1"/>
<rect x="384.59" y="285.91" width="3.5" height="3.5" fill="none" stroke="#fa9448" stroke-width="1.1"/>
<rect x="384.60" y="286.56" width="3.5" height="3.5" fill="none" stroke="#fa9448" stroke-width="1.1"/>
<rect x="384.95" y="283.71" width="3.5" height="3.5" fill="none" stroke="#fa9448" stroke-width="1.1"/>
<rect x="385.52" y="285.60" width="3.5" height="3.5" fill="none" stroke="#fa9448" stroke-width="1.1"/>
<rect x="385.22" y="286.46" width="3.5" height="3.5" fill="none" stroke="#fa9448" stroke-width="1.1"/>
<rect x="385.97" y="288.83" width="3.5" height="3.5" fill="none" stroke="#fa9448" stroke-width="1.1"/>
<rect x="385.82" y="285.44" width="3.5" height="3.5" fill="none" stroke="#fa9448" stroke-width="1.1"/>
<rect x="386.26" y="286.40" width="3.5" height="3.5" fill="none" stroke="#fa9448" stroke-width="1.1"/>
<rect x="386.15" y="290.92" width="3.5" height="3.5" fill="none" stroke="#fa9448" stroke-width="1.1"/>
<rect x="386.17" y="290.99" width="3.5" height="3.5" fill="none" stroke="#fa9448" stroke-width="1.1"/>
<rect x="386.44" y="284.59" width="3.5" height="3.5" fill="none" stroke="#fa9448" stroke-width="1.1"/>
<rect x="386.71" y="294.87" width="3.5" height="3.5" fill="none" stroke="#fa9448" stroke-width="1.1"/>
<rect x="387.02" y="284.95" width="3.5" height="3.5" fill="none" stroke="#fa9448" stroke-width="1.1"/>
<rect x="387.62" y="291.18" width="3.5" height="3.5" fill="none" stroke="#fa9448" stroke-width="1.1"/>
<rect x="387.54" y="292.02" width="3.5" height="3.5" fill="none" stroke="#fa9448" stroke-width="1.1"/>
<rect x="387.96" y="287.52" width="3.5" height="3.5" fill="none" stroke="#fa9448" stroke-width="1.1"/>
<rect x="388.40" y="293.02" width="3.5" height="3.5" fill="none" stroke="#fa9448" stroke-width="1.1"/>
<rect x="388.50" y="293.14" width="3.5" height="3.5" fill="none" stroke="#fa9448" stroke-width="1.1"/>
<rect x="388.67" y="301.46" width="3.5" height="3.5" fill="none" stroke="#fa9448" stroke-width="1.1"/>
<rect x="388.98" y="289.63" width="3.5" height="3.5" fill="none" stroke="#fa9448" stroke-width="1.1"/>
<rect x="389.40" y="295.16" width="3.5" height="3.5" fill="none" stroke="#fa9448" stroke-width="1.1"/>
<rect x="388.98" y="297.15" width="3.5" height="3.5" fill="none" stroke="#fa9448" stroke-width="1.1"/>
<rect x="389.91" y="297.10" width="3.5" height="3.5" fill="none" stroke="#fa9448" stroke-width="1.1"/>
<rect x="389.78" y="292.18" width="3.5" height="3.5" fill="none" stroke="#fa9448" stroke-width="1.1"/>
<rect x="390.22" y="297.19" width="3.5" height="3.5" fill="none" stroke="#fa9448" stroke-width="1.1"/>
<rect x="390.30" y="297.07" width="3.5" height="3.5" fill="none" stroke="#fa9448" stroke-width="1.1"/>
<rect x="390.60" y="290.99" width="3.5" height="3.5" fill="none" stroke="#fa9448" stroke-width="1.1"/>
<rect x="390.41" y="303.18" width="3.5" height="3.5" fill="none" stroke="#fa9448" stroke-width="1.1"/>
<rect x="390.89" y="299.81" width="3.5" height="3.5" fill="none" stroke="#fa9448" stroke-width="1.1"/>
<rect x="391.18" y="301.05" width="3.5" height="3.5" fill="none" stroke="#fa9448" stroke-width="1.1"/>
<rect x="391.14" y="295.57" width="3.5" height="3.5" fill="none" stroke="#fa9448" stroke-width="1.1"/>
<rect x="391.23" y="305.61" width="3.5" height="3.5" fill="none" stroke="#fa9448" stroke-width="1.1"/>
<rect x="391.49" y="301.27" width="3.5" height="3.5" fill="none" stroke="#fa9448" stroke-width="1.1"/>
<rect x="391.81" y="302.77" width="3.5" height="3.5" fill="none" stroke="#fa9448" stroke-width="1.1"/>
<rect x="392.53" y="299.82" width="3.5" height="3.5" fill="none" stroke="#fa9448" stroke-width="1.1"/>
<rect x="392.64" y="299.33" width="3.5" height="3.5" fill="none" stroke="#fa9448" stroke-width="1.1"/>
<rect x="393.04" y="305.31" width="3.5" height="3.5" fill="none" stroke="#fa9448" stroke-width="1.1"/>
<rect x="393.15" y="302.59" width="3.5" height="3.5" fill="none" stroke="#fa9448" stroke-width="1.1"/>
<rect x="392.90" y="305.53" width="3.5" height="3.5" fill="none" stroke="#fa9448" stroke-width="1.1"/>
<rect x="393.28" y="302.78" width="3.5" height="3.5" fill="none" stroke="#fa9448" stroke-width="1.1"/>
<rect x="394.03" y="307.79" width="3.5" height="3.5" fill="none" stroke="#fa9448" stroke-width="1.1"/>
<rect x="394.13" y="303.97" width="3.5" height="3.5" fill="none" stroke="#fa9448" stroke-width="1.1"/>
<rect x="394.39" y="305.85" width="3.5" height="3.5" fill="none" stroke="#fa9448" stroke-width="1.1"/>
<rect x="394.72" y="301.07" width="3.5" height="3.5" fill="none" stroke="#fa9448" stroke-width="1.1"/>
<rect x="394.92" y="310.07" width="3.5" height="3.5" fill="none" stroke="#fa9448" stroke-width="1.1"/>
<rect x="394.73" y="303.01" width="3.5" height="3.5" fill="none" stroke="#fa9448" stroke-width="1.1"/>
<rect x="394.94" y="304.81" width="3.5" height="3.5" fill="none" stroke="#fa9448" stroke-width="1.1"/>
<circle cx="253.00" cy="246.59" r="2.1" fill="none" stroke="#8c8c8c" stroke-width="1.0"/>
<circle cx="261.67" cy="250.95" r="2.1" fill="none" stroke="#8c8c8c" stroke-width="1.0"/>
<circle cx="266.74" cy="253.53" r="2.1" fill="none" stroke="#8c8c8c" stroke-width="1.0"/>
<circle cx="270.34" cy="255.75" r="2.1" fill="none" stroke="#8c8c8c" stroke-width="1.0"/>
<circle cx="272.58" cy="255.61" r="2.1" fill="none" stroke="#8c8c8c" stroke-width="1.0"/>
<circle cx="274.89" cy="257.60" r="2.1" fill="none" stroke="#8c8c8c" stroke-width="1.0"/>
<circle cx="277.17" cy="259.30" r="2.1" fill="none" stroke="#8c8c8c" stroke-width="1.0"/>
<circle cx="279.44" cy="260.43" r="2.1" fill="none" stroke="#8c8c8c" stroke-width="1.0"/>
<circle cx="281.68" cy="262.54" r="2.1" fill="none" stroke="#8c8c8c" stroke-width="1.0"/>
<circle cx="283.90" cy="264.33" r="2.1" fill="none" stroke="#8c8c8c" stroke-width="1.0"/>
<circle cx="285.76" cy="267.17" r="2.1" fill="none" stroke="#8c8c8c" stroke-width="1.0"/>
<circle cx="288.26" cy="269.66" r="2.1" fill="none" stroke="#8c8c8c" stroke-width="1.0"/>
<circle cx="290.57" cy="271.60" r="2.1" fill="none" stroke="#8c8c8c" stroke-width="1.0"/>
<circle cx="292.25" cy="273.94" r="2.1" fill="none" stroke="#8c8c8c" stroke-width="1.0"/>
<circle cx="294.32" cy="276.45" r="2.1" fill="none" stroke="#8c8c8c" stroke-width="1.0"/>
<circle cx="295.30" cy="279.00" r="2.1" fill="none" stroke="#8c8c8c" stroke-width="1.0"/>
<circle cx="296.86" cy="280.99" r="2.1" fill="none" stroke="#8c8c8c" stroke-width="1.0"/>
<circle cx="297.86" cy="281.14" r="2.1" fill="none" stroke="#8c8c8c" stroke-width="1.0"/>
<circle cx="299.00" cy="283.01" r="2.1" fill="none" stroke="#8c8c8c" stroke-width="1.0"/>
<circle cx="299.76" cy="281.66" r="2.1" fill="none" stroke="#8c8c8c" stroke-width="1.0"/>
<circle cx="300.98" cy="287.59" r="2.1" fill="none" stroke="#8c8c8c" stroke-width="1.0"/>
<circle cx="301.21" cy="285.99" r="2.1" fill="none" stroke="#8c8c8c" stroke-width="1.0"/>
<circle cx="302.27" cy="288.03" r="2.1" fill="none" stroke="#8c8c8c" stroke-width="1.0"/>
<circle cx="303.15" cy="286.16" r="2.1" fill="none" stroke="#8c8c8c" stroke-width="1.0"/>
<circle cx="303.53" cy="288.66" r="2.1" fill="none" stroke="#8c8c8c" stroke-width="1.0"/>
<circle cx="304.68" cy="287.58" r="2.1" fill="none" stroke="#8c8c8c" stroke-width="1.0"/>
<circle cx="305.11" cy="292.30" r="2.1" fill="none" stroke="#8c8c8c" stroke-width="1.0"/>
<circle cx="305.40" cy="290.80" r="2.1" fill="none" stroke="#8c8c8c" stroke-width="1.0"/>
<circle cx="305.82" cy="293.24" r="2.1" fill="none" stroke="#8c8c8c" stroke-width="1.0"/>
<circle cx="306.79" cy="291.79" r="2.1" fill="none" stroke="#8c8c8c" stroke-width="1.0"/>
<circle cx="307.22" cy="294.92" r="2.1" fill="none" stroke="#8c8c8c" stroke-width="1.0"/>
<circle cx="307.45" cy="293.06" r="2.1" fill="none" stroke="#8c8c8c" stroke-width="1.0"/>
<circle cx="307.96" cy="293.26" r="2.1" fill="none" stroke="#8c8c8c" stroke-width="1.0"/>
<circle cx="309.02" cy="294.93" r="2.1" fill="none" stroke="#8c8c8c" stroke-width="1.0"/>
<circle cx="308.77" cy="294.65" r="2.1" fill="none" stroke="#8c8c8c" stroke-width="1.0"/>
<circle cx="309.67" cy="296.35" r="2.1" fill="none" stroke="#8c8c8c" stroke-width="1.0"/>
<circle cx="309.73" cy="294.42" r="2.1" fill="none" stroke="#8c8c8c" stroke-width="1.0"/>
<circle cx="310.06" cy="296.87" r="2.1" fill="none" stroke="#8c8c8c" stroke-width="1.0"/>
<circle cx="310.46" cy="295.40" r="2.1" fill="none" stroke="#8c8c8c" stroke-width="1.0"/>
<circle cx="310.80" cy="298.98" r="2.1" fill="none" stroke="#8c8c8c" stroke-width="1.0"/>
<circle cx="311.22" cy="299.49" r="2.1" fill="none" stroke="#8c8c8c" stroke-width="1.0"/>
<circle cx="311.98" cy="301.07" r="2.1" fill="none" stroke="#8c8c8c" stroke-width="1.0"/>
<circle cx="312.07" cy="296.21" r="2.1" fill="none" stroke="#8c8c8c" stroke-width="1.0"/>
<circle cx="312.66" cy="300.06" r="2.1" fill="none" stroke="#8c8c8c" stroke-width="1.0"/>
<circle cx="312.78" cy="300.17" r="2.1" fill="none" stroke="#8c8c8c" stroke-width="1.0"/>
<circle cx="313.40" cy="298.24" r="2.1" fill="none" stroke="#8c8c8c" stroke-width="1.0"/>
<circle cx="313.64" cy="299.68" r="2.1" fill="none" stroke="#8c8c8c" stroke-width="1.0"/>
<circle cx="313.98" cy="296.51" r="2.1" fill="none" stroke="#8c8c8c" stroke-width="1.0"/>
<circle cx="314.26" cy="296.01" r="2.1" fill="none" stroke="#8c8c8c" stroke-width="1.0"/>
<circle cx="314.34" cy="296.40" r="2.1" fill="none" stroke="#8c8c8c" stroke-width="1.0"/>
<circle cx="314.69" cy="304.95" r="2.1" fill="none" stroke="#8c8c8c" stroke-width="1.0"/>
<circle cx="315.22" cy="295.45" r="2.1" fill="none" stroke="#8c8c8c" stroke-width="1.0"/>
<circle cx="315.29" cy="306.14" r="2.1" fill="none" stroke="#8c8c8c" stroke-width="1.0"/>
<circle cx="315.74" cy="302.23" r="2.1" fill="none" stroke="#8c8c8c" stroke-width="1.0"/>
<circle cx="315.63" cy="301.55" r="2.1" fill="none" stroke="#8c8c8c" stroke-width="1.0"/>
<circle cx="316.48" cy="304.03" r="2.1" fill="none" stroke="#8c8c8c" stroke-width="1.0"/>
<circle cx="316.59" cy="304.46" r="2.1" fill="none" stroke="#8c8c8c" stroke-width="1.0"/>
<circle cx="316.87" cy="310.60" r="2.1" fill="none" stroke="#8c8c8c" stroke-width="1.0"/>
<circle cx="317.17" cy="303.10" r="2.1" fill="none" stroke="#8c8c8c" stroke-width="1.0"/>
<circle cx="317.67" cy="307.66" r="2.1" fill="none" stroke="#8c8c8c" stroke-width="1.0"/>
<circle cx="317.48" cy="308.37" r="2.1" fill="none" stroke="#8c8c8c" stroke-width="1.0"/>
<circle cx="318.20" cy="305.95" r="2.1" fill="none" stroke="#8c8c8c" stroke-width="1.0"/>
<circle cx="317.94" cy="305.29" r="2.1" fill="none" stroke="#8c8c8c" stroke-width="1.0"/>
<circle cx="318.42" cy="308.69" r="2.1" fill="none" stroke="#8c8c8c" stroke-width="1.0"/>
<circle cx="319.04" cy="306.82" r="2.1" fill="none" stroke="#8c8c8c" stroke-width="1.0"/>
<circle cx="318.68" cy="307.39" r="2.1" fill="none" stroke="#8c8c8c" stroke-width="1.0"/>
<circle cx="319.39" cy="308.65" r="2.1" fill="none" stroke="#8c8c8c" stroke-width="1.0"/>
<circle cx="319.31" cy="306.95" r="2.1" fill="none" stroke="#8c8c8c" stroke-width="1.0"/>
<circle cx="319.67" cy="308.85" r="2.1" fill="none" stroke="#8c8c8c" stroke-width="1.0"/>
<circle cx="320.11" cy="309.52" r="2.1" fill="none" stroke="#8c8c8c" stroke-width="1.0"/>
<circle cx="320.79" cy="303.33" r="2.1" fill="none" stroke="#8c8c8c" stroke-width="1.0"/>
<circle cx="320.43" cy="312.30" r="2.1" fill="none" stroke="#8c8c8c" stroke-width="1.0"/>
<circle cx="320.69" cy="309.84" r="2.1" fill="none" stroke="#8c8c8c" stroke-width="1.0"/>
<circle cx="321.23" cy="313.49" r="2.1" fill="none" stroke="#8c8c8c" stroke-width="1.0"/>
<circle cx="321.71" cy="305.99" r="2.1" fill="none" stroke="#8c8c8c" stroke-width="1.0"/>
<circle cx="321.91" cy="313.78" r="2.1" fill="none" stroke="#8c8c8c" stroke-width="1.0"/>
<circle cx="322.32" cy="311.27" r="2.1" fill="none" stroke="#8c8c8c" stroke-width="1.0"/>
<circle cx="322.48" cy="307.17" r="2.1" fill="none" stroke="#8c8c8c" stroke-width="1.0"/>
<circle cx="322.26" cy="311.50" r="2.1" fill="none" stroke="#8c8c8c" stroke-width="1.0"/>
<circle cx="322.92" cy="306.11" r="2.1" fill="none" stroke="#8c8c8c" stroke-width="1.0"/>
<circle cx="323.38" cy="305.14" r="2.1" fill="none" stroke="#8c8c8c" stroke-width="1.0"/>
<circle cx="323.57" cy="308.13" r="2.1" fill="none" stroke="#8c8c8c" stroke-width="1.0"/>
<circle cx="323.44" cy="312.49" r="2.1" fill="none" stroke="#8c8c8c" stroke-width="1.0"/>
<circle cx="323.35" cy="307.54" r="2.1" fill="none" stroke="#8c8c8c" stroke-width="1.0"/>
<circle cx="323.71" cy="314.22" r="2.1" fill="none" stroke="#8c8c8c" stroke-width="1.0"/>
<circle cx="323.93" cy="310.13" r="2.1" fill="none" stroke="#8c8c8c" stroke-width="1.0"/>
<circle cx="324.60" cy="305.61" r="2.1" fill="none" stroke="#8c8c8c" stroke-width="1.0"/>
<circle cx="324.35" cy="312.85" r="2.1" fill="none" stroke="#8c8c8c" stroke-width="1.0"/>
<circle cx="325.10" cy="312.18" r="2.1" fill="none" stroke="#8c8c8c" stroke-width="1.0"/>
<circle cx="325.19" cy="311.92" r="2.1" fill="none" stroke="#8c8c8c" stroke-width="1.0"/>
<circle cx="325.69" cy="317.74" r="2.1" fill="none" stroke="#8c8c8c" stroke-width="1.0"/>
<circle cx="325.62" cy="305.82" r="2.1" fill="none" stroke="#8c8c8c" stroke-width="1.0"/>
<circle cx="325.84" cy="317.73" r="2.1" fill="none" stroke="#8c8c8c" stroke-width="1.0"/>
<circle cx="326.08" cy="315.39" r="2.1" fill="none" stroke="#8c8c8c" stroke-width="1.0"/>
<circle cx="326.29" cy="309.63" r="2.1" fill="none" stroke="#8c8c8c" stroke-width="1.0"/>
<circle cx="326.46" cy="315.99" r="2.1" fill="none" stroke="#8c8c8c" stroke-width="1.0"/>
<circle cx="326.74" cy="313.11" r="2.1" fill="none" stroke="#8c8c8c" stroke-width="1.0"/>
<circle cx="327.31" cy="317.31" r="2.1" fill="none" stroke="#8c8c8c" stroke-width="1.0"/>
<circle cx="327.31" cy="316.99" r="2.1" fill="none" stroke="#8c8c8c" stroke-width="1.0"/>
<circle cx="327.07" cy="319.62" r="2.1" fill="none" stroke="#8c8c8c" stroke-width="1.0"/>
<circle cx="327.54" cy="320.74" r="2.1" fill="none" stroke="#8c8c8c" stroke-width="1.0"/>
<circle cx="328.09" cy="314.35" r="2.1" fill="none" stroke="#8c8c8c" stroke-width="1.0"/>
<circle cx="327.90" cy="315.55" r="2.1" fill="none" stroke="#8c8c8c" stroke-width="1.0"/>
<circle cx="328.30" cy="317.31" r="2.1" fill="none" stroke="#8c8c8c" stroke-width="1.0"/>
<circle cx="328.71" cy="318.24" r="2.1" fill="none" stroke="#8c8c8c" stroke-width="1.0"/>
<circle cx="328.92" cy="315.07" r="2.1" fill="none" stroke="#8c8c8c" stroke-width="1.0"/>
<circle cx="329.31" cy="322.57" r="2.1" fill="none" stroke="#8c8c8c" stroke-width="1.0"/>
<circle cx="329.63" cy="319.74" r="2.1" fill="none" stroke="#8c8c8c" stroke-width="1.0"/>
<circle cx="329.23" cy="316.97" r="2.1" fill="none" stroke="#8c8c8c" stroke-width="1.0"/>
<circle cx="329.43" cy="314.45" r="2.1" fill="none" stroke="#8c8c8c" stroke-width="1.0"/>
<circle cx="329.68" cy="320.56" r="2.1" fill="none" stroke="#8c8c8c" stroke-width="1.0"/>
<circle cx="329.97" cy="317.06" r="2.1" fill="none" stroke="#8c8c8c" stroke-width="1.0"/>
<circle cx="330.14" cy="312.79" r="2.1" fill="none" stroke="#8c8c8c" stroke-width="1.0"/>
<circle cx="330.82" cy="313.77" r="2.1" fill="none" stroke="#8c8c8c" stroke-width="1.0"/>
<circle cx="330.53" cy="319.11" r="2.1" fill="none" stroke="#8c8c8c" stroke-width="1.0"/>
<circle cx="330.85" cy="318.13" r="2.1" fill="none" stroke="#8c8c8c" stroke-width="1.0"/>
<circle cx="331.76" cy="325.63" r="2.1" fill="none" stroke="#8c8c8c" stroke-width="1.0"/>
<circle cx="331.96" cy="319.77" r="2.1" fill="none" stroke="#8c8c8c" stroke-width="1.0"/>
<circle cx="331.80" cy="315.92" r="2.1" fill="none" stroke="#8c8c8c" stroke-width="1.0"/>
<circle cx="331.67" cy="321.61" r="2.1" fill="none" stroke="#8c8c8c" stroke-width="1.0"/>
<circle cx="332.25" cy="317.70" r="2.1" fill="none" stroke="#8c8c8c" stroke-width="1.0"/>
<circle cx="332.25" cy="321.28" r="2.1" fill="none" stroke="#8c8c8c" stroke-width="1.0"/>
<circle cx="332.99" cy="320.88" r="2.1" fill="none" stroke="#8c8c8c" stroke-width="1.0"/>
<circle cx="332.90" cy="316.24" r="2.1" fill="none" stroke="#8c8c8c" stroke-width="1.0"/>
<circle cx="333.45" cy="320.26" r="2.1" fill="none" stroke="#8c8c8c" stroke-width="1.0"/>
<circle cx="333.66" cy="317.45" r="2.1" fill="none" stroke="#8c8c8c" stroke-width="1.0"/>
<circle cx="333.97" cy="325.51" r="2.1" fill="none" stroke="#8c8c8c" stroke-width="1.0"/>
<circle cx="333.82" cy="314.76" r="2.1" fill="none" stroke="#8c8c8c" stroke-width="1.0"/>
<circle cx="334.10" cy="322.92" r="2.1" fill="none" stroke="#8c8c8c" stroke-width="1.0"/>
<circle cx="334.46" cy="325.94" r="2.1" fill="none" stroke="#8c8c8c" stroke-width="1.0"/>
<circle cx="334.46" cy="319.93" r="2.1" fill="none" stroke="#8c8c8c" stroke-width="1.0"/>
<circle cx="334.73" cy="320.08" r="2.1" fill="none" stroke="#8c8c8c" stroke-width="1.0"/>
<circle cx="335.26" cy="317.64" r="2.1" fill="none" stroke="#8c8c8c" stroke-width="1.0"/>
<circle cx="335.47" cy="323.28" r="2.1" fill="none" stroke="#8c8c8c" stroke-width="1.0"/>
<circle cx="335.27" cy="323.46" r="2.1" fill="none" stroke="#8c8c8c" stroke-width="1.0"/>
<circle cx="336.07" cy="324.66" r="2.1" fill="none" stroke="#8c8c8c" stroke-width="1.0"/>
<circle cx="336.03" cy="322.68" r="2.1" fill="none" stroke="#8c8c8c" stroke-width="1.0"/>
<circle cx="335.86" cy="318.01" r="2.1" fill="none" stroke="#8c8c8c" stroke-width="1.0"/>
<circle cx="336.78" cy="322.43" r="2.1" fill="none" stroke="#8c8c8c" stroke-width="1.0"/>
<circle cx="336.66" cy="324.25" r="2.1" fill="none" stroke="#8c8c8c" stroke-width="1.0"/>
<circle cx="336.83" cy="327.43" r="2.1" fill="none" stroke="#8c8c8c" stroke-width="1.0"/>
<circle cx="336.95" cy="322.12" r="2.1" fill="none" stroke="#8c8c8c" stroke-width="1.0"/>
<circle cx="337.53" cy="323.30" r="2.1" fill="none" stroke="#8c8c8c" stroke-width="1.0"/>
<circle cx="337.22" cy="324.96" r="2.1" fill="none" stroke="#8c8c8c" stroke-width="1.0"/>
<circle cx="338.13" cy="321.02" r="2.1" fill="none" stroke="#8c8c8c" stroke-width="1.0"/>
<circle cx="338.40" cy="328.80" r="2.1" fill="none" stroke="#8c8c8c" stroke-width="1.0"/>
<circle cx="338.26" cy="323.03" r="2.1" fill="none" stroke="#8c8c8c" stroke-width="1.0"/>
<circle cx="338.86" cy="330.39" r="2.1" fill="none" stroke="#8c8c8c" stroke-width="1.0"/>
<circle cx="338.99" cy="327.97" r="2.1" fill="none" stroke="#8c8c8c" stroke-width="1.0"/>
<circle cx="338.93" cy="329.69" r="2.1" fill="none" stroke="#8c8c8c" stroke-width="1.0"/>
<circle cx="338.90" cy="327.80" r="2.1" fill="none" stroke="#8c8c8c" stroke-width="1.0"/>
<circle cx="339.24" cy="322.64" r="2.1" fill="none" stroke="#8c8c8c" stroke-width="1.0"/>
<circle cx="339.68" cy="330.03" r="2.1" fill="none" stroke="#8c8c8c" stroke-width="1.0"/>
<circle cx="339.68" cy="324.99" r="2.1" fill="none" stroke="#8c8c8c" stroke-width="1.0"/>
<circle cx="340.22" cy="322.70" r="2.1" fill="none" stroke="#8c8c8c" stroke-width="1.0"/>
<circle cx="340.40" cy="333.27" r="2.1" fill="none" stroke="#8c8c8c" stroke-width="1.0"/>
<circle cx="340.33" cy="322.39" r="2.1" fill="none" stroke="#8c8c8c" stroke-width="1.0"/>
<circle cx="341.11" cy="326.39" r="2.1" fill="none" stroke="#8c8c8c" stroke-width="1.0"/>
<circle cx="340.98" cy="328.87" r="2.1" fill="none" stroke="#8c8c8c" stroke-width="1.0"/>
<circle cx="340.93" cy="330.85" r="2.1" fill="none" stroke="#8c8c8c" stroke-width="1.0"/>
<circle cx="341.61" cy="323.41" r="2.1" fill="none" stroke="#8c8c8c" stroke-width="1.0"/>
<circle cx="341.61" cy="328.50" r="2.1" fill="none" stroke="#8c8c8c" stroke-width="1.0"/>
<circle cx="341.66" cy="326.92" r="2.1" fill="none" stroke="#8c8c8c" stroke-width="1.0"/>
<circle cx="341.96" cy="323.55" r="2.1" fill="none" stroke="#8c8c8c" stroke-width="1.0"/>
<circle cx="342.32" cy="335.97" r="2.1" fill="none" stroke="#8c8c8c" stroke-width="1.0"/>
<circle cx="342.69" cy="328.48" r="2.1" fill="none" stroke="#8c8c8c" stroke-width="1.0"/>
<circle cx="342.78" cy="326.82" r="2.1" fill="none" stroke="#8c8c8c" stroke-width="1.0"/>
<circle cx="342.78" cy="327.86" r="2.1" fill="none" stroke="#8c8c8c" stroke-width="1.0"/>
<circle cx="343.18" cy="329.77" r="2.1" fill="none" stroke="#8c8c8c" stroke-width="1.0"/>
<circle cx="343.71" cy="330.63" r="2.1" fill="none" stroke="#8c8c8c" stroke-width="1.0"/>
<circle cx="343.96" cy="335.69" r="2.1" fill="none" stroke="#8c8c8c" stroke-width="1.0"/>
<circle cx="344.22" cy="332.65" r="2.1" fill="none" stroke="#8c8c8c" stroke-width="1.0"/>
<circle cx="344.32" cy="334.12" r="2.1" fill="none" stroke="#8c8c8c" stroke-width="1.0"/>
<circle cx="344.45" cy="326.57" r="2.1" fill="none" stroke="#8c8c8c" stroke-width="1.0"/>
<circle cx="344.65" cy="333.47" r="2.1" fill="none" stroke="#8c8c8c" stroke-width="1.0"/>
<circle cx="344.85" cy="328.31" r="2.1" fill="none" stroke="#8c8c8c" stroke-width="1.0"/>
<circle cx="345.10" cy="333.52" r="2.1" fill="none" stroke="#8c8c8c" stroke-width="1.0"/>
<circle cx="345.45" cy="327.64" r="2.1" fill="none" stroke="#8c8c8c" stroke-width="1.0"/>
<circle cx="345.86" cy="329.68" r="2.1" fill="none" stroke="#8c8c8c" stroke-width="1.0"/>
<circle cx="345.89" cy="331.69" r="2.1" fill="none" stroke="#8c8c8c" stroke-width="1.0"/>
<circle cx="346.23" cy="326.51" r="2.1" fill="none" stroke="#8c8c8c" stroke-width="1.0"/>
<circle cx="346.57" cy="333.17" r="2.1" fill="none" stroke="#8c8c8c" stroke-width="1.0"/>
<circle cx="346.89" cy="334.62" r="2.1" fill="none" stroke="#8c8c8c" stroke-width="1.0"/>
<circle cx="347.00" cy="329.68" r="2.1" fill="none" stroke="#8c8c8c" stroke-width="1.0"/>
<circle cx="347.24" cy="334.52" r="2.1" fill="none" stroke="#8c8c8c" stroke-width="1.0"/>
<circle cx="347.13" cy="327.54" r="2.1" fill="none" stroke="#8c8c8c" stroke-width="1.0"/>
<circle cx="347.52" cy="327.54" r="2.1" fill="none" stroke="#8c8c8c" stroke-width="1.0"/>
<circle cx="347.65" cy="323.01" r="2.1" fill="none" stroke="#8c8c8c" stroke-width="1.0"/>
<circle cx="348.20" cy="325.02" r="2.1" fill="none" stroke="#8c8c8c" stroke-width="1.0"/>
<circle cx="348.30" cy="325.49" r="2.1" fill="none" stroke="#8c8c8c" stroke-width="1.0"/>
<circle cx="348.35" cy="325.11" r="2.1" fill="none" stroke="#8c8c8c" stroke-width="1.0"/>
<circle cx="349.04" cy="338.14" r="2.1" fill="none" stroke="#8c8c8c" stroke-width="1.0"/>
<circle cx="348.82" cy="335.26" r="2.1" fill="none" stroke="#8c8c8c" stroke-width="1.0"/>
<circle cx="348.95" cy="332.64" r="2.1" fill="none" stroke="#8c8c8c" stroke-width="1.0"/>
<circle cx="349.08" cy="327.18" r="2.1" fill="none" stroke="#8c8c8c" stroke-width="1.0"/>
<circle cx="349.89" cy="334.66" r="2.1" fill="none" stroke="#8c8c8c" stroke-width="1.0"/>
<circle cx="349.57" cy="335.08" r="2.1" fill="none" stroke="#8c8c8c" stroke-width="1.0"/>
<circle cx="349.81" cy="327.90" r="2.1" fill="none" stroke="#8c8c8c" stroke-width="1.0"/>
<circle cx="350.46" cy="336.21" r="2.1" fill="none" stroke="#8c8c8c" stroke-width="1.0"/>
<circle cx="350.47" cy="331.39" r="2.1" fill="none" stroke="#8c8c8c" stroke-width="1.0"/>
<circle cx="350.59" cy="327.69" r="2.1" fill="none" stroke="#8c8c8c" stroke-width="1.0"/>
<circle cx="350.73" cy="332.66" r="2.1" fill="none" stroke="#8c8c8c" stroke-width="1.0"/>
<circle cx="351.09" cy="331.59" r="2.1" fill="none" stroke="#8c8c8c" stroke-width="1.0"/>
<circle cx="351.80" cy="333.86" r="2.1" fill="none" stroke="#8c8c8c" stroke-width="1.0"/>
<circle cx="351.62" cy="334.95" r="2.1" fill="none" stroke="#8c8c8c" stroke-width="1.0"/>
<circle cx="351.96" cy="327.91" r="2.1" fill="none" stroke="#8c8c8c" stroke-width="1.0"/>
<circle cx="351.91" cy="337.72" r="2.1" fill="none" stroke="#8c8c8c" stroke-width="1.0"/>
<circle cx="352.73" cy="334.04" r="2.1" fill="none" stroke="#8c8c8c" stroke-width="1.0"/>
<circle cx="352.78" cy="334.25" r="2.1" fill="none" stroke="#8c8c8c" stroke-width="1.0"/>
<circle cx="353.05" cy="327.34" r="2.1" fill="none" stroke="#8c8c8c" stroke-width="1.0"/>
<circle cx="352.70" cy="341.85" r="2.1" fill="none" stroke="#8c8c8c" stroke-width="1.0"/>
<circle cx="353.32" cy="337.25" r="2.1" fill="none" stroke="#8c8c8c" stroke-width="1.0"/>
<circle cx="353.42" cy="342.50" r="2.1" fill="none" stroke="#8c8c8c" stroke-width="1.0"/>
<circle cx="353.48" cy="339.77" r="2.1" fill="none" stroke="#8c8c8c" stroke-width="1.0"/>
<circle cx="354.21" cy="335.06" r="2.1" fill="none" stroke="#8c8c8c" stroke-width="1.0"/>
<circle cx="354.02" cy="337.20" r="2.1" fill="none" stroke="#8c8c8c" stroke-width="1.0"/>
<circle cx="354.55" cy="331.67" r="2.1" fill="none" stroke="#8c8c8c" stroke-width="1.0"/>
<circle cx="355.01" cy="338.83" r="2.1" fill="none" stroke="#8c8c8c" stroke-width="1.0"/>
<circle cx="354.77" cy="335.36" r="2.1" fill="none" stroke="#8c8c8c" stroke-width="1.0"/>
<circle cx="355.06" cy="341.70" r="2.1" fill="none" stroke="#8c8c8c" stroke-width="1.0"/>
<circle cx="355.09" cy="335.75" r="2.1" fill="none" stroke="#8c8c8c" stroke-width="1.0"/>
<circle cx="355.59" cy="340.42" r="2.1" fill="none" stroke="#8c8c8c" stroke-width="1.0"/>
<circle cx="355.92" cy="340.15" r="2.1" fill="none" stroke="#8c8c8c" stroke-width="1.0"/>
<circle cx="355.88" cy="343.33" r="2.1" fill="none" stroke="#8c8c8c" stroke-width="1.0"/>
<circle cx="356.11" cy="333.89" r="2.1" fill="none" stroke="#8c8c8c" stroke-width="1.0"/>
<circle cx="356.15" cy="338.08" r="2.1" fill="none" stroke="#8c8c8c" stroke-width="1.0"/>
<circle cx="356.63" cy="334.15" r="2.1" fill="none" stroke="#8c8c8c" stroke-width="1.0"/>
<circle cx="356.72" cy="335.91" r="2.1" fill="none" stroke="#8c8c8c" stroke-width="1.0"/>
<circle cx="356.83" cy="340.28" r="2.1" fill="none" stroke="#8c8c8c" stroke-width="1.0"/>
<circle cx="357.52" cy="339.56" r="2.1" fill="none" stroke="#8c8c8c" stroke-width="1.0"/>
<circle cx="357.50" cy="333.34" r="2.1" fill="none" stroke="#8c8c8c" stroke-width="1.0"/>
<circle cx="358.02" cy="337.87" r="2.1" fill="none" stroke="#8c8c8c" stroke-width="1.0"/>
<circle cx="358.18" cy="331.17" r="2.1" fill="none" stroke="#8c8c8c" stroke-width="1.0"/>
<circle cx="358.44" cy="341.24" r="2.1" fill="none" stroke="#8c8c8c" stroke-width="1.0"/>
<circle cx="358.78" cy="341.50" r="2.1" fill="none" stroke="#8c8c8c" stroke-width="1.0"/>
<circle cx="359.00" cy="336.19" r="2.1" fill="none" stroke="#8c8c8c" stroke-width="1.0"/>
<circle cx="359.01" cy="336.75" r="2.1" fill="none" stroke="#8c8c8c" stroke-width="1.0"/>
<circle cx="359.26" cy="325.22" r="2.1" fill="none" stroke="#8c8c8c" stroke-width="1.0"/>
<circle cx="359.83" cy="335.67" r="2.1" fill="none" stroke="#8c8c8c" stroke-width="1.0"/>
<circle cx="359.50" cy="340.14" r="2.1" fill="none" stroke="#8c8c8c" stroke-width="1.0"/>
<circle cx="360.28" cy="334.65" r="2.1" fill="none" stroke="#8c8c8c" stroke-width="1.0"/>
<circle cx="360.54" cy="339.09" r="2.1" fill="none" stroke="#8c8c8c" stroke-width="1.0"/>
<circle cx="360.44" cy="335.40" r="2.1" fill="none" stroke="#8c8c8c" stroke-width="1.0"/>
<circle cx="361.02" cy="348.60" r="2.1" fill="none" stroke="#8c8c8c" stroke-width="1.0"/>
<circle cx="361.12" cy="337.37" r="2.1" fill="none" stroke="#8c8c8c" stroke-width="1.0"/>
<circle cx="361.15" cy="336.79" r="2.1" fill="none" stroke="#8c8c8c" stroke-width="1.0"/>
<circle cx="360.98" cy="344.18" r="2.1" fill="none" stroke="#8c8c8c" stroke-width="1.0"/>
<circle cx="361.90" cy="351.15" r="2.1" fill="none" stroke="#8c8c8c" stroke-width="1.0"/>
<circle cx="361.97" cy="345.41" r="2.1" fill="none" stroke="#8c8c8c" stroke-width="1.0"/>
<circle cx="361.62" cy="334.59" r="2.1" fill="none" stroke="#8c8c8c" stroke-width="1.0"/>
<circle cx="362.15" cy="339.68" r="2.1" fill="none" stroke="#8c8c8c" stroke-width="1.0"/>
<circle cx="362.28" cy="344.17" r="2.1" fill="none" stroke="#8c8c8c" stroke-width="1.0"/>
<circle cx="362.33" cy="345.04" r="2.1" fill="none" stroke="#8c8c8c" stroke-width="1.0"/>
<circle cx="363.01" cy="348.57" r="2.1" fill="none" stroke="#8c8c8c" stroke-width="1.0"/>
<circle cx="363.31" cy="342.85" r="2.1" fill="none" stroke="#8c8c8c" stroke-width="1.0"/>
<circle cx="363.79" cy="334.19" r="2.1" fill="none" stroke="#8c8c8c" stroke-width="1.0"/>
<circle cx="363.57" cy="335.84" r="2.1" fill="none" stroke="#8c8c8c" stroke-width="1.0"/>
<circle cx="363.87" cy="336.48" r="2.1" fill="none" stroke="#8c8c8c" stroke-width="1.0"/>
<circle cx="363.73" cy="337.42" r="2.1" fill="none" stroke="#8c8c8c" stroke-width="1.0"/>
<circle cx="364.39" cy="335.37" r="2.1" fill="none" stroke="#8c8c8c" stroke-width="1.0"/>
<circle cx="364.20" cy="345.73" r="2.1" fill="none" stroke="#8c8c8c" stroke-width="1.0"/>
<circle cx="364.69" cy="341.73" r="2.1" fill="none" stroke="#8c8c8c" stroke-width="1.0"/>
<circle cx="364.79" cy="334.65" r="2.1" fill="none" stroke="#8c8c8c" stroke-width="1.0"/>
<circle cx="364.89" cy="342.16" r="2.1" fill="none" stroke="#8c8c8c" stroke-width="1.0"/>
<circle cx="365.76" cy="338.69" r="2.1" fill="none" stroke="#8c8c8c" stroke-width="1.0"/>
<circle cx="365.89" cy="337.09" r="2.1" fill="none" stroke="#8c8c8c" stroke-width="1.0"/>
<circle cx="366.16" cy="339.06" r="2.1" fill="none" stroke="#8c8c8c" stroke-width="1.0"/>
<circle cx="365.76" cy="337.65" r="2.1" fill="none" stroke="#8c8c8c" stroke-width="1.0"/>
<circle cx="366.04" cy="344.38" r="2.1" fill="none" stroke="#8c8c8c" stroke-width="1.0"/>
<circle cx="366.50" cy="336.15" r="2.1" fill="none" stroke="#8c8c8c" stroke-width="1.0"/>
<circle cx="367.17" cy="340.89" r="2.1" fill="none" stroke="#8c8c8c" stroke-width="1.0"/>
<circle cx="367.46" cy="340.73" r="2.1" fill="none" stroke="#8c8c8c" stroke-width="1.0"/>
<circle cx="367.65" cy="344.49" r="2.1" fill="none" stroke="#8c8c8c" stroke-width="1.0"/>
<circle cx="367.42" cy="349.25" r="2.1" fill="none" stroke="#8c8c8c" stroke-width="1.0"/>
<circle cx="368.16" cy="349.42" r="2.1" fill="none" stroke="#8c8c8c" stroke-width="1.0"/>
<circle cx="368.30" cy="338.62" r="2.1" fill="none" stroke="#8c8c8c" stroke-width="1.0"/>
<circle cx="368.08" cy="345.69" r="2.1" fill="none" stroke="#8c8c8c" stroke-width="1.0"/>
<circle cx="368.17" cy="335.55" r="2.1" fill="none" stroke="#8c8c8c" stroke-width="1.0"/>
<circle cx="368.35" cy="339.14" r="2.1" fill="none" stroke="#8c8c8c" stroke-width="1.0"/>
<circle cx="368.68" cy="348.19" r="2.1" fill="none" stroke="#8c8c8c" stroke-width="1.0"/>
<circle cx="369.38" cy="348.26" r="2.1" fill="none" stroke="#8c8c8c" stroke-width="1.0"/>
<circle cx="369.45" cy="332.88" r="2.1" fill="none" stroke="#8c8c8c" stroke-width="1.0"/>
<circle cx="369.74" cy="351.76" r="2.1" fill="none" stroke="#8c8c8c" stroke-width="1.0"/>
<circle cx="370.23" cy="339.85" r="2.1" fill="none" stroke="#8c8c8c" stroke-width="1.0"/>
<circle cx="369.71" cy="340.47" r="2.1" fill="none" stroke="#8c8c8c" stroke-width="1.0"/>
<circle cx="370.54" cy="345.11" r="2.1" fill="none" stroke="#8c8c8c" stroke-width="1.0"/>
<circle cx="370.33" cy="349.45" r="2.1" fill="none" stroke="#8c8c8c" stroke-width="1.0"/>
<circle cx="371.08" cy="340.70" r="2.1" fill="none" stroke="#8c8c8c" stroke-width="1.0"/>
<circle cx="371.19" cy="342.77" r="2.1" fill="none" stroke="#8c8c8c" stroke-width="1.0"/>
<circle cx="370.97" cy="339.24" r="2.1" fill="none" stroke="#8c8c8c" stroke-width="1.0"/>
<circle cx="371.58" cy="338.12" r="2.1" fill="none" stroke="#8c8c8c" stroke-width="1.0"/>
<circle cx="371.96" cy="341.15" r="2.1" fill="none" stroke="#8c8c8c" stroke-width="1.0"/>
<circle cx="371.65" cy="340.26" r="2.1" fill="none" stroke="#8c8c8c" stroke-width="1.0"/>
<circle cx="371.93" cy="347.53" r="2.1" fill="none" stroke="#8c8c8c" stroke-width="1.0"/>
<circle cx="372.61" cy="333.42" r="2.1" fill="none" stroke="#8c8c8c" stroke-width="1.0"/>
<circle cx="372.67" cy="342.13" r="2.1" fill="none" stroke="#8c8c8c" stroke-width="1.0"/>
<circle cx="373.01" cy="343.37" r="2.1" fill="none" stroke="#8c8c8c" stroke-width="1.0"/>
<circle cx="372.79" cy="339.76" r="2.1" fill="none" stroke="#8c8c8c" stroke-width="1.0"/>
<circle cx="373.25" cy="342.12" r="2.1" fill="none" stroke="#8c8c8c" stroke-width="1.0"/>
<circle cx="373.85" cy="340.22" r="2.1" fill="none" stroke="#8c8c8c" stroke-width="1.0"/>
<circle cx="373.55" cy="339.74" r="2.1" fill="none" stroke="#8c8c8c" stroke-width="1.0"/>
<circle cx="373.84" cy="343.43" r="2.1" fill="none" stroke="#8c8c8c" stroke-width="1.0"/>
<circle cx="374.29" cy="341.52" r="2.1" fill="none" stroke="#8c8c8c" stroke-width="1.0"/>
<circle cx="374.25" cy="339.45" r="2.1" fill="none" stroke="#8c8c8c" stroke-width="1.0"/>
<circle cx="374.91" cy="333.58" r="2.1" fill="none" stroke="#8c8c8c" stroke-width="1.0"/>
<circle cx="374.68" cy="344.73" r="2.1" fill="none" stroke="#8c8c8c" stroke-width="1.0"/>
<circle cx="375.35" cy="343.76" r="2.1" fill="none" stroke="#8c8c8c" stroke-width="1.0"/>
<circle cx="375.57" cy="346.59" r="2.1" fill="none" stroke="#8c8c8c" stroke-width="1.0"/>
<circle cx="375.31" cy="352.70" r="2.1" fill="none" stroke="#8c8c8c" stroke-width="1.0"/>
<circle cx="375.49" cy="347.34" r="2.1" fill="none" stroke="#8c8c8c" stroke-width="1.0"/>
<circle cx="376.25" cy="342.20" r="2.1" fill="none" stroke="#8c8c8c" stroke-width="1.0"/>
<circle cx="376.09" cy="348.72" r="2.1" fill="none" stroke="#8c8c8c" stroke-width="1.0"/>
<circle cx="376.39" cy="340.53" r="2.1" fill="none" stroke="#8c8c8c" stroke-width="1.0"/>
<circle cx="376.68" cy="341.61" r="2.1" fill="none" stroke="#8c8c8c" stroke-width="1.0"/>
<circle cx="377.14" cy="344.19" r="2.1" fill="none" stroke="#8c8c8c" stroke-width="1.0"/>
<circle cx="377.18" cy="336.98" r="2.1" fill="none" stroke="#8c8c8c" stroke-width="1.0"/>
<circle cx="377.67" cy="338.54" r="2.1" fill="none" stroke="#8c8c8c" stroke-width="1.0"/>
<circle cx="377.71" cy="345.25" r="2.1" fill="none" stroke="#8c8c8c" stroke-width="1.0"/>
<circle cx="377.88" cy="346.01" r="2.1" fill="none" stroke="#8c8c8c" stroke-width="1.0"/>
<circle cx="378.28" cy="347.89" r="2.1" fill="none" stroke="#8c8c8c" stroke-width="1.0"/>
<circle cx="378.02" cy="347.48" r="2.1" fill="none" stroke="#8c8c8c" stroke-width="1.0"/>
<circle cx="378.21" cy="345.84" r="2.1" fill="none" stroke="#8c8c8c" stroke-width="1.0"/>
<circle cx="379.17" cy="347.83" r="2.1" fill="none" stroke="#8c8c8c" stroke-width="1.0"/>
<circle cx="378.78" cy="347.59" r="2.1" fill="none" stroke="#8c8c8c" stroke-width="1.0"/>
<circle cx="379.47" cy="349.51" r="2.1" fill="none" stroke="#8c8c8c" stroke-width="1.0"/>
<circle cx="379.43" cy="343.50" r="2.1" fill="none" stroke="#8c8c8c" stroke-width="1.0"/>
<circle cx="379.97" cy="339.95" r="2.1" fill="none" stroke="#8c8c8c" stroke-width="1.0"/>
<circle cx="379.77" cy="344.71" r="2.1" fill="none" stroke="#8c8c8c" stroke-width="1.0"/>
<circle cx="379.83" cy="348.54" r="2.1" fill="none" stroke="#8c8c8c" stroke-width="1.0"/>
<circle cx="380.15" cy="345.94" r="2.1" fill="none" stroke="#8c8c8c" stroke-width="1.0"/>
<circle cx="380.80" cy="351.17" r="2.1" fill="none" stroke="#8c8c8c" stroke-width="1.0"/>
<circle cx="381.07" cy="347.01" r="2.1" fill="none" stroke="#8c8c8c" stroke-width="1.0"/>
<circle cx="380.91" cy="349.73" r="2.1" fill="none" stroke="#8c8c8c" stroke-width="1.0"/>
<circle cx="380.99" cy="346.01" r="2.1" fill="none" stroke="#8c8c8c" stroke-width="1.0"/>
<circle cx="381.84" cy="338.28" r="2.1" fill="none" stroke="#8c8c8c" stroke-width="1.0"/>
<circle cx="382.16" cy="350.36" r="2.1" fill="none" stroke="#8c8c8c" stroke-width="1.0"/>
<circle cx="382.42" cy="336.10" r="2.1" fill="none" stroke="#8c8c8c" stroke-width="1.0"/>
<circle cx="381.96" cy="350.33" r="2.1" fill="none" stroke="#8c8c8c" stroke-width="1.0"/>
<circle cx="382.42" cy="344.28" r="2.1" fill="none" stroke="#8c8c8c" stroke-width="1.0"/>
<circle cx="382.47" cy="343.24" r="2.1" fill="none" stroke="#8c8c8c" stroke-width="1.0"/>
<circle cx="383.11" cy="343.66" r="2.1" fill="none" stroke="#8c8c8c" stroke-width="1.0"/>
<circle cx="383.14" cy="345.78" r="2.1" fill="none" stroke="#8c8c8c" stroke-width="1.0"/>
<circle cx="383.48" cy="339.23" r="2.1" fill="none" stroke="#8c8c8c" stroke-width="1.0"/>
<circle cx="383.56" cy="343.96" r="2.1" fill="none" stroke="#8c8c8c" stroke-width="1.0"/>
<circle cx="383.89" cy="344.21" r="2.1" fill="none" stroke="#8c8c8c" stroke-width="1.0"/>
<circle cx="383.93" cy="344.13" r="2.1" fill="none" stroke="#8c8c8c" stroke-width="1.0"/>
<circle cx="384.41" cy="352.19" r="2.1" fill="none" stroke="#8c8c8c" stroke-width="1.0"/>
<circle cx="384.56" cy="340.38" r="2.1" fill="none" stroke="#8c8c8c" stroke-width="1.0"/>
<circle cx="384.88" cy="341.90" r="2.1" fill="none" stroke="#8c8c8c" stroke-width="1.0"/>
<circle cx="385.14" cy="336.08" r="2.1" fill="none" stroke="#8c8c8c" stroke-width="1.0"/>
<circle cx="385.54" cy="345.42" r="2.1" fill="none" stroke="#8c8c8c" stroke-width="1.0"/>
<circle cx="385.14" cy="351.03" r="2.1" fill="none" stroke="#8c8c8c" stroke-width="1.0"/>
<circle cx="385.63" cy="343.14" r="2.1" fill="none" stroke="#8c8c8c" stroke-width="1.0"/>
<circle cx="385.75" cy="346.11" r="2.1" fill="none" stroke="#8c8c8c" stroke-width="1.0"/>
<circle cx="386.24" cy="343.59" r="2.1" fill="none" stroke="#8c8c8c" stroke-width="1.0"/>
<circle cx="386.55" cy="349.46" r="2.1" fill="none" stroke="#8c8c8c" stroke-width="1.0"/>
<circle cx="386.93" cy="338.67" r="2.1" fill="none" stroke="#8c8c8c" stroke-width="1.0"/>
<circle cx="387.20" cy="347.58" r="2.1" fill="none" stroke="#8c8c8c" stroke-width="1.0"/>
<circle cx="387.27" cy="335.52" r="2.1" fill="none" stroke="#8c8c8c" stroke-width="1.0"/>
<circle cx="387.45" cy="340.67" r="2.1" fill="none" stroke="#8c8c8c" stroke-width="1.0"/>
<circle cx="387.41" cy="341.48" r="2.1" fill="none" stroke="#8c8c8c" stroke-width="1.0"/>
<circle cx="387.61" cy="342.64" r="2.1" fill="none" stroke="#8c8c8c" stroke-width="1.0"/>
<circle cx="387.74" cy="349.16" r="2.1" fill="none" stroke="#8c8c8c" stroke-width="1.0"/>
<circle cx="388.44" cy="344.51" r="2.1" fill="none" stroke="#8c8c8c" stroke-width="1.0"/>
<circle cx="388.49" cy="346.22" r="2.1" fill="none" stroke="#8c8c8c" stroke-width="1.0"/>
<circle cx="388.38" cy="335.57" r="2.1" fill="none" stroke="#8c8c8c" stroke-width="1.0"/>
<circle cx="388.88" cy="343.09" r="2.1" fill="none" stroke="#8c8c8c" stroke-width="1.0"/>
<circle cx="389.06" cy="351.94" r="2.1" fill="none" stroke="#8c8c8c" stroke-width="1.0"/>
<circle cx="389.69" cy="333.38" r="2.1" fill="none" stroke="#8c8c8c" stroke-width="1.0"/>
<circle cx="389.75" cy="347.55" r="2.1" fill="none" stroke="#8c8c8c" stroke-width="1.0"/>
<circle cx="389.79" cy="340.97" r="2.1" fill="none" stroke="#8c8c8c" stroke-width="1.0"/>
<circle cx="389.73" cy="346.97" r="2.1" fill="none" stroke="#8c8c8c" stroke-width="1.0"/>
<circle cx="390.05" cy="338.49" r="2.1" fill="none" stroke="#8c8c8c" stroke-width="1.0"/>
<circle cx="390.49" cy="347.28" r="2.1" fill="none" stroke="#8c8c8c" stroke-width="1.0"/>
<circle cx="390.98" cy="343.52" r="2.1" fill="none" stroke="#8c8c8c" stroke-width="1.0"/>
<circle cx="391.22" cy="344.80" r="2.1" fill="none" stroke="#8c8c8c" stroke-width="1.0"/>
<circle cx="390.89" cy="346.94" r="2.1" fill="none" stroke="#8c8c8c" stroke-width="1.0"/>
<circle cx="391.35" cy="344.23" r="2.1" fill="none" stroke="#8c8c8c" stroke-width="1.0"/>
<circle cx="391.64" cy="339.97" r="2.1" fill="none" stroke="#8c8c8c" stroke-width="1.0"/>
<circle cx="391.87" cy="328.67" r="2.1" fill="none" stroke="#8c8c8c" stroke-width="1.0"/>
<circle cx="391.91" cy="340.97" r="2.1" fill="none" stroke="#8c8c8c" stroke-width="1.0"/>
<circle cx="392.22" cy="351.54" r="2.1" fill="none" stroke="#8c8c8c" stroke-width="1.0"/>
<circle cx="392.27" cy="347.01" r="2.1" fill="none" stroke="#8c8c8c" stroke-width="1.0"/>
<circle cx="392.70" cy="349.69" r="2.1" fill="none" stroke="#8c8c8c" stroke-width="1.0"/>
<circle cx="392.92" cy="344.35" r="2.1" fill="none" stroke="#8c8c8c" stroke-width="1.0"/>
<circle cx="393.19" cy="348.28" r="2.1" fill="none" stroke="#8c8c8c" stroke-width="1.0"/>
<circle cx="393.97" cy="349.47" r="2.1" fill="none" stroke="#8c8c8c" stroke-width="1.0"/>
<circle cx="393.73" cy="339.20" r="2.1" fill="none" stroke="#8c8c8c" stroke-width="1.0"/>
<circle cx="394.07" cy="344.96" r="2.1" fill="none" stroke="#8c8c8c" stroke-width="1.0"/>
<circle cx="394.62" cy="340.79" r="2.1" fill="none" stroke="#8c8c8c" stroke-width="1.0"/>
<circle cx="394.76" cy="343.64" r="2.1" fill="none" stroke="#8c8c8c" stroke-width="1.0"/>
<circle cx="394.46" cy="345.00" r="2.1" fill="none" stroke="#8c8c8c" stroke-width="1.0"/>
<circle cx="395.16" cy="346.20" r="2.1" fill="none" stroke="#8c8c8c" stroke-width="1.0"/>
<circle cx="394.95" cy="343.82" r="2.1" fill="none" stroke="#8c8c8c" stroke-width="1.0"/>
<circle cx="395.66" cy="344.37" r="2.1" fill="none" stroke="#8c8c8c" stroke-width="1.0"/>
<circle cx="395.89" cy="338.43" r="2.1" fill="none" stroke="#8c8c8c" stroke-width="1.0"/>
<circle cx="395.56" cy="328.06" r="2.1" fill="none" stroke="#8c8c8c" stroke-width="1.0"/>
<circle cx="395.91" cy="348.88" r="2.1" fill="none" stroke="#8c8c8c" stroke-width="1.0"/>
<circle cx="396.12" cy="345.02" r="2.1" fill="none" stroke="#8c8c8c" stroke-width="1.0"/>
<circle cx="396.82" cy="349.85" r="2.1" fill="none" stroke="#8c8c8c" stroke-width="1.0"/>
<circle cx="396.62" cy="340.07" r="2.1" fill="none" stroke="#8c8c8c" stroke-width="1.0"/>
</g>
<path d="M253.00,220.50 H397.00 V370.60 H253.00 Z" fill="none" stroke="#2e2e2e" stroke-width="1" stroke-linejoin="miter"/>
<line x1="253.00" y1="370.60" x2="253.00" y2="372.90" stroke="#2e2e2e" stroke-width="0.8" />
<line x1="261.67" y1="370.60" x2="261.67" y2="372.00" stroke="#2e2e2e" stroke-width="0.8" />
<line x1="266.74" y1="370.60" x2="266.74" y2="372.00" stroke="#2e2e2e" stroke-width="0.8" />
<line x1="270.34" y1="370.60" x2="270.34" y2="372.00" stroke="#2e2e2e" stroke-width="0.8" />
<line x1="273.13" y1="370.60" x2="273.13" y2="372.00" stroke="#2e2e2e" stroke-width="0.8" />
<line x1="275.41" y1="370.60" x2="275.41" y2="372.00" stroke="#2e2e2e" stroke-width="0.8" />
<line x1="277.34" y1="370.60" x2="277.34" y2="372.00" stroke="#2e2e2e" stroke-width="0.8" />
<line x1="279.01" y1="370.60" x2="279.01" y2="372.00" stroke="#2e2e2e" stroke-width="0.8" />
<line x1="280.48" y1="370.60" x2="280.48" y2="372.00" stroke="#2e2e2e" stroke-width="0.8" />
<line x1="281.80" y1="370.60" x2="281.80" y2="372.90" stroke="#2e2e2e" stroke-width="0.8" />
<line x1="290.47" y1="370.60" x2="290.47" y2="372.00" stroke="#2e2e2e" stroke-width="0.8" />
<line x1="295.54" y1="370.60" x2="295.54" y2="372.00" stroke="#2e2e2e" stroke-width="0.8" />
<line x1="299.14" y1="370.60" x2="299.14" y2="372.00" stroke="#2e2e2e" stroke-width="0.8" />
<line x1="301.93" y1="370.60" x2="301.93" y2="372.00" stroke="#2e2e2e" stroke-width="0.8" />
<line x1="304.21" y1="370.60" x2="304.21" y2="372.00" stroke="#2e2e2e" stroke-width="0.8" />
<line x1="306.14" y1="370.60" x2="306.14" y2="372.00" stroke="#2e2e2e" stroke-width="0.8" />
<line x1="307.81" y1="370.60" x2="307.81" y2="372.00" stroke="#2e2e2e" stroke-width="0.8" />
<line x1="309.28" y1="370.60" x2="309.28" y2="372.00" stroke="#2e2e2e" stroke-width="0.8" />
<line x1="310.60" y1="370.60" x2="310.60" y2="372.90" stroke="#2e2e2e" stroke-width="0.8" />
<line x1="319.27" y1="370.60" x2="319.27" y2="372.00" stroke="#2e2e2e" stroke-width="0.8" />
<line x1="324.34" y1="370.60" x2="324.34" y2="372.00" stroke="#2e2e2e" stroke-width="0.8" />
<line x1="327.94" y1="370.60" x2="327.94" y2="372.00" stroke="#2e2e2e" stroke-width="0.8" />
<line x1="330.73" y1="370.60" x2="330.73" y2="372.00" stroke="#2e2e2e" stroke-width="0.8" />
<line x1="333.01" y1="370.60" x2="333.01" y2="372.00" stroke="#2e2e2e" stroke-width="0.8" />
<line x1="334.94" y1="370.60" x2="334.94" y2="372.00" stroke="#2e2e2e" stroke-width="0.8" />
<line x1="336.61" y1="370.60" x2="336.61" y2="372.00" stroke="#2e2e2e" stroke-width="0.8" />
<line x1="338.08" y1="370.60" x2="338.08" y2="372.00" stroke="#2e2e2e" stroke-width="0.8" />
<line x1="339.40" y1="370.60" x2="339.40" y2="372.90" stroke="#2e2e2e" stroke-width="0.8" />
<line x1="348.07" y1="370.60" x2="348.07" y2="372.00" stroke="#2e2e2e" stroke-width="0.8" />
<line x1="353.14" y1="370.60" x2="353.14" y2="372.00" stroke="#2e2e2e" stroke-width="0.8" />
<line x1="356.74" y1="370.60" x2="356.74" y2="372.00" stroke="#2e2e2e" stroke-width="0.8" />
<line x1="359.53" y1="370.60" x2="359.53" y2="372.00" stroke="#2e2e2e" stroke-width="0.8" />
<line x1="361.81" y1="370.60" x2="361.81" y2="372.00" stroke="#2e2e2e" stroke-width="0.8" />
<line x1="363.74" y1="370.60" x2="363.74" y2="372.00" stroke="#2e2e2e" stroke-width="0.8" />
<line x1="365.41" y1="370.60" x2="365.41" y2="372.00" stroke="#2e2e2e" stroke-width="0.8" />
<line x1="366.88" y1="370.60" x2="366.88" y2="372.00" stroke="#2e2e2e" stroke-width="0.8" />
<line x1="368.20" y1="370.60" x2="368.20" y2="372.90" stroke="#2e2e2e" stroke-width="0.8" />
<line x1="376.87" y1="370.60" x2="376.87" y2="372.00" stroke="#2e2e2e" stroke-width="0.8" />
<line x1="381.94" y1="370.60" x2="381.94" y2="372.00" stroke="#2e2e2e" stroke-width="0.8" />
<line x1="385.54" y1="370.60" x2="385.54" y2="372.00" stroke="#2e2e2e" stroke-width="0.8" />
<line x1="388.33" y1="370.60" x2="388.33" y2="372.00" stroke="#2e2e2e" stroke-width="0.8" />
<line x1="390.61" y1="370.60" x2="390.61" y2="372.00" stroke="#2e2e2e" stroke-width="0.8" />
<line x1="392.54" y1="370.60" x2="392.54" y2="372.00" stroke="#2e2e2e" stroke-width="0.8" />
<line x1="394.21" y1="370.60" x2="394.21" y2="372.00" stroke="#2e2e2e" stroke-width="0.8" />
<line x1="395.68" y1="370.60" x2="395.68" y2="372.00" stroke="#2e2e2e" stroke-width="0.8" />
<line x1="397.00" y1="370.60" x2="397.00" y2="372.90" stroke="#2e2e2e" stroke-width="0.8" />
<line x1="251.60" y1="361.38" x2="253.00" y2="361.38" stroke="#2e2e2e" stroke-width="0.8" />
<line x1="251.60" y1="354.41" x2="253.00" y2="354.41" stroke="#2e2e2e" stroke-width="0.8" />
<line x1="251.60" y1="349.00" x2="253.00" y2="349.00" stroke="#2e2e2e" stroke-width="0.8" />
<line x1="251.60" y1="344.58" x2="253.00" y2="344.58" stroke="#2e2e2e" stroke-width="0.8" />
<line x1="251.60" y1="340.84" x2="253.00" y2="340.84" stroke="#2e2e2e" stroke-width="0.8" />
<line x1="251.60" y1="337.61" x2="253.00" y2="337.61" stroke="#2e2e2e" stroke-width="0.8" />
<line x1="251.60" y1="334.75" x2="253.00" y2="334.75" stroke="#2e2e2e" stroke-width="0.8" />
<line x1="250.70" y1="332.20" x2="253.00" y2="332.20" stroke="#2e2e2e" stroke-width="0.8" />
<line x1="251.60" y1="315.40" x2="253.00" y2="315.40" stroke="#2e2e2e" stroke-width="0.8" />
<line x1="251.60" y1="305.58" x2="253.00" y2="305.58" stroke="#2e2e2e" stroke-width="0.8" />
<line x1="251.60" y1="298.61" x2="253.00" y2="298.61" stroke="#2e2e2e" stroke-width="0.8" />
<line x1="251.60" y1="293.20" x2="253.00" y2="293.20" stroke="#2e2e2e" stroke-width="0.8" />
<line x1="251.60" y1="288.78" x2="253.00" y2="288.78" stroke="#2e2e2e" stroke-width="0.8" />
<line x1="251.60" y1="285.04" x2="253.00" y2="285.04" stroke="#2e2e2e" stroke-width="0.8" />
<line x1="251.60" y1="281.81" x2="253.00" y2="281.81" stroke="#2e2e2e" stroke-width="0.8" />
<line x1="251.60" y1="278.95" x2="253.00" y2="278.95" stroke="#2e2e2e" stroke-width="0.8" />
<line x1="250.70" y1="276.40" x2="253.00" y2="276.40" stroke="#2e2e2e" stroke-width="0.8" />
<line x1="251.60" y1="259.60" x2="253.00" y2="259.60" stroke="#2e2e2e" stroke-width="0.8" />
<line x1="251.60" y1="249.78" x2="253.00" y2="249.78" stroke="#2e2e2e" stroke-width="0.8" />
<line x1="251.60" y1="242.81" x2="253.00" y2="242.81" stroke="#2e2e2e" stroke-width="0.8" />
<line x1="251.60" y1="237.40" x2="253.00" y2="237.40" stroke="#2e2e2e" stroke-width="0.8" />
<line x1="251.60" y1="232.98" x2="253.00" y2="232.98" stroke="#2e2e2e" stroke-width="0.8" />
<line x1="251.60" y1="229.24" x2="253.00" y2="229.24" stroke="#2e2e2e" stroke-width="0.8" />
<line x1="251.60" y1="226.01" x2="253.00" y2="226.01" stroke="#2e2e2e" stroke-width="0.8" />
<line x1="251.60" y1="223.15" x2="253.00" y2="223.15" stroke="#2e2e2e" stroke-width="0.8" />
<line x1="250.70" y1="220.60" x2="253.00" y2="220.60" stroke="#2e2e2e" stroke-width="0.8" />
<line x1="395.60" y1="368.92" x2="397.00" y2="368.92" stroke="#2e2e2e" stroke-width="0.8" />
<line x1="395.60" y1="363.37" x2="397.00" y2="363.37" stroke="#2e2e2e" stroke-width="0.8" />
<line x1="395.60" y1="359.44" x2="397.00" y2="359.44" stroke="#2e2e2e" stroke-width="0.8" />
<line x1="395.60" y1="356.38" x2="397.00" y2="356.38" stroke="#2e2e2e" stroke-width="0.8" />
<line x1="395.60" y1="353.89" x2="397.00" y2="353.89" stroke="#2e2e2e" stroke-width="0.8" />
<line x1="395.60" y1="351.78" x2="397.00" y2="351.78" stroke="#2e2e2e" stroke-width="0.8" />
<line x1="395.60" y1="349.95" x2="397.00" y2="349.95" stroke="#2e2e2e" stroke-width="0.8" />
<line x1="395.60" y1="348.34" x2="397.00" y2="348.34" stroke="#2e2e2e" stroke-width="0.8" />
<line x1="394.70" y1="346.90" x2="397.00" y2="346.90" stroke="#2e2e2e" stroke-width="0.8" />
<line x1="395.60" y1="337.42" x2="397.00" y2="337.42" stroke="#2e2e2e" stroke-width="0.8" />
<line x1="395.60" y1="331.87" x2="397.00" y2="331.87" stroke="#2e2e2e" stroke-width="0.8" />
<line x1="395.60" y1="327.94" x2="397.00" y2="327.94" stroke="#2e2e2e" stroke-width="0.8" />
<line x1="395.60" y1="324.88" x2="397.00" y2="324.88" stroke="#2e2e2e" stroke-width="0.8" />
<line x1="395.60" y1="322.39" x2="397.00" y2="322.39" stroke="#2e2e2e" stroke-width="0.8" />
<line x1="395.60" y1="320.28" x2="397.00" y2="320.28" stroke="#2e2e2e" stroke-width="0.8" />
<line x1="395.60" y1="318.45" x2="397.00" y2="318.45" stroke="#2e2e2e" stroke-width="0.8" />
<line x1="395.60" y1="316.84" x2="397.00" y2="316.84" stroke="#2e2e2e" stroke-width="0.8" />
<line x1="394.70" y1="315.40" x2="397.00" y2="315.40" stroke="#2e2e2e" stroke-width="0.8" />
<line x1="395.60" y1="305.92" x2="397.00" y2="305.92" stroke="#2e2e2e" stroke-width="0.8" />
<line x1="395.60" y1="300.37" x2="397.00" y2="300.37" stroke="#2e2e2e" stroke-width="0.8" />
<line x1="395.60" y1="296.44" x2="397.00" y2="296.44" stroke="#2e2e2e" stroke-width="0.8" />
<line x1="395.60" y1="293.38" x2="397.00" y2="293.38" stroke="#2e2e2e" stroke-width="0.8" />
<line x1="395.60" y1="290.89" x2="397.00" y2="290.89" stroke="#2e2e2e" stroke-width="0.8" />
<line x1="395.60" y1="288.78" x2="397.00" y2="288.78" stroke="#2e2e2e" stroke-width="0.8" />
<line x1="395.60" y1="286.95" x2="397.00" y2="286.95" stroke="#2e2e2e" stroke-width="0.8" />
<line x1="395.60" y1="285.34" x2="397.00" y2="285.34" stroke="#2e2e2e" stroke-width="0.8" />
<line x1="394.70" y1="283.90" x2="397.00" y2="283.90" stroke="#2e2e2e" stroke-width="0.8" />
<line x1="395.60" y1="274.42" x2="397.00" y2="274.42" stroke="#2e2e2e" stroke-width="0.8" />
<line x1="395.60" y1="268.87" x2="397.00" y2="268.87" stroke="#2e2e2e" stroke-width="0.8" />
<line x1="395.60" y1="264.94" x2="397.00" y2="264.94" stroke="#2e2e2e" stroke-width="0.8" />
<line x1="395.60" y1="261.88" x2="397.00" y2="261.88" stroke="#2e2e2e" stroke-width="0.8" />
<line x1="395.60" y1="259.39" x2="397.00" y2="259.39" stroke="#2e2e2e" stroke-width="0.8" />
<line x1="395.60" y1="257.28" x2="397.00" y2="257.28" stroke="#2e2e2e" stroke-width="0.8" />
<line x1="395.60" y1="255.45" x2="397.00" y2="255.45" stroke="#2e2e2e" stroke-width="0.8" />
<line x1="395.60" y1="253.84" x2="397.00" y2="253.84" stroke="#2e2e2e" stroke-width="0.8" />
<line x1="394.70" y1="252.40" x2="397.00" y2="252.40" stroke="#2e2e2e" stroke-width="0.8" />
<line x1="395.60" y1="242.92" x2="397.00" y2="242.92" stroke="#2e2e2e" stroke-width="0.8" />
<line x1="395.60" y1="237.37" x2="397.00" y2="237.37" stroke="#2e2e2e" stroke-width="0.8" />
<line x1="395.60" y1="233.44" x2="397.00" y2="233.44" stroke="#2e2e2e" stroke-width="0.8" />
<line x1="395.60" y1="230.38" x2="397.00" y2="230.38" stroke="#2e2e2e" stroke-width="0.8" />
<line x1="395.60" y1="227.89" x2="397.00" y2="227.89" stroke="#2e2e2e" stroke-width="0.8" />
<line x1="395.60" y1="225.78" x2="397.00" y2="225.78" stroke="#2e2e2e" stroke-width="0.8" />
<line x1="395.60" y1="223.95" x2="397.00" y2="223.95" stroke="#2e2e2e" stroke-width="0.8" />
<line x1="395.60" y1="222.34" x2="397.00" y2="222.34" stroke="#2e2e2e" stroke-width="0.8" />
<line x1="394.70" y1="220.90" x2="397.00" y2="220.90" stroke="#2e2e2e" stroke-width="0.8" />
<g transform="translate(0,386.20) scale(1,1.05) translate(0,-386.20)"><text stroke="#1a1a1a" stroke-width="0.18" x="245.90" y="386.20" font-size="9.75" fill="#1a1a1a">10<tspan font-size="7.0" dx="0.5" dy="-4.2">0</tspan></text></g>
<g transform="translate(0,386.20) scale(1,1.05) translate(0,-386.20)"><text stroke="#1a1a1a" stroke-width="0.18" x="274.70" y="386.20" font-size="9.75" fill="#1a1a1a">10<tspan font-size="7.0" dx="0.5" dy="-4.2">1</tspan></text></g>
<g transform="translate(0,386.20) scale(1,1.05) translate(0,-386.20)"><text stroke="#1a1a1a" stroke-width="0.18" x="303.50" y="386.20" font-size="9.75" fill="#1a1a1a">10<tspan font-size="7.0" dx="0.5" dy="-4.2">2</tspan></text></g>
<g transform="translate(0,386.20) scale(1,1.05) translate(0,-386.20)"><text stroke="#1a1a1a" stroke-width="0.18" x="332.30" y="386.20" font-size="9.75" fill="#1a1a1a">10<tspan font-size="7.0" dx="0.5" dy="-4.2">3</tspan></text></g>
<g transform="translate(0,386.20) scale(1,1.05) translate(0,-386.20)"><text stroke="#1a1a1a" stroke-width="0.18" x="361.10" y="386.20" font-size="9.75" fill="#1a1a1a">10<tspan font-size="7.0" dx="0.5" dy="-4.2">4</tspan></text></g>
<g transform="translate(0,386.20) scale(1,1.05) translate(0,-386.20)"><text stroke="#1a1a1a" stroke-width="0.18" x="389.90" y="386.20" font-size="9.75" fill="#1a1a1a">10<tspan font-size="7.0" dx="0.5" dy="-4.2">5</tspan></text></g>
<g transform="translate(0,224.50) scale(1,1.05) translate(0,-224.50)"><text stroke="#1a1a1a" stroke-width="0.18" x="227.70" y="224.50" font-size="9.75" fill="#1a1a1a">10<tspan font-size="7.0" dx="0.5" dy="-4.2">11</tspan></text></g>
<g transform="translate(0,280.30) scale(1,1.05) translate(0,-280.30)"><text stroke="#1a1a1a" stroke-width="0.18" x="227.70" y="280.30" font-size="9.75" fill="#1a1a1a">10<tspan font-size="7.0" dx="0.5" dy="-4.2">10</tspan></text></g>
<g transform="translate(0,336.10) scale(1,1.05) translate(0,-336.10)"><text stroke="#1a1a1a" stroke-width="0.18" x="232.00" y="336.10" font-size="9.75" fill="#1a1a1a">10<tspan font-size="7.0" dx="0.5" dy="-4.2">9</tspan></text></g>
<g transform="translate(0,224.60) scale(1,1.05) translate(0,-224.60)"><text stroke="#1a1a1a" stroke-width="0.18" x="401.50" y="224.60" font-size="9.75" fill="#1a1a1a">10<tspan font-size="7.0" dx="0.5" dy="-4.2">−22</tspan></text></g>
<g transform="translate(0,256.10) scale(1,1.05) translate(0,-256.10)"><text stroke="#1a1a1a" stroke-width="0.18" x="401.50" y="256.10" font-size="9.75" fill="#1a1a1a">10<tspan font-size="7.0" dx="0.5" dy="-4.2">−23</tspan></text></g>
<g transform="translate(0,287.60) scale(1,1.05) translate(0,-287.60)"><text stroke="#1a1a1a" stroke-width="0.18" x="401.50" y="287.60" font-size="9.75" fill="#1a1a1a">10<tspan font-size="7.0" dx="0.5" dy="-4.2">−24</tspan></text></g>
<g transform="translate(0,319.10) scale(1,1.05) translate(0,-319.10)"><text stroke="#1a1a1a" stroke-width="0.18" x="401.50" y="319.10" font-size="9.75" fill="#1a1a1a">10<tspan font-size="7.0" dx="0.5" dy="-4.2">−25</tspan></text></g>
<g transform="translate(0,350.60) scale(1,1.05) translate(0,-350.60)"><text stroke="#1a1a1a" stroke-width="0.18" x="401.50" y="350.60" font-size="9.75" fill="#1a1a1a">10<tspan font-size="7.0" dx="0.5" dy="-4.2">−26</tspan></text></g>
<text stroke="#1a1a1a" stroke-width="0.18" transform="translate(218.60,294.70) rotate(-90) scale(1,1.05)" font-size="10" text-anchor="middle" letter-spacing="0.3" fill="#1a1a1a">Detectivity (cm·Hz<tspan font-size="7.0" dy="-4">0.5</tspan><tspan dy="4">/W)</tspan></text>
<text stroke="#1a1a1a" stroke-width="0.18" transform="translate(443.50,295.30) rotate(-90) scale(1,1.05)" font-size="10" text-anchor="middle" letter-spacing="0.25" fill="#1a1a1a">Noise spectral density (A<tspan font-size="7.0" dy="-4">2</tspan><tspan dy="4">/Hz)</tspan></text>
<g transform="translate(0,402.30) scale(1,1.05) translate(0,-402.30)"><text stroke="#1a1a1a" stroke-width="0.18" x="322.80" y="402.30" font-size="10" text-anchor="middle" fill="#1a1a1a" letter-spacing="0.2">Frequency (Hz)</text></g>
<line x1="341.40" y1="240.20" x2="324.19" y2="240.20" stroke="#fa9448" stroke-width="1.1" />
<path d="M320.20,240.20 L325.90,238.60 L324.76,240.20 L325.90,241.80 Z" fill="#fa9448"/>
<line x1="344.00" y1="319.90" x2="360.96" y2="319.90" stroke="#c8c8c8" stroke-width="1.7" />
<path d="M364.60,319.90 L359.40,318.30 L360.44,319.90 L359.40,321.50 Z" fill="#7c7c7c"/>
<line x1="272.30" y1="342.20" x2="278.30" y2="342.20" stroke="#f4a0a0" stroke-width="0.9" />
<line x1="284.70" y1="342.20" x2="290.60" y2="342.20" stroke="#f4a0a0" stroke-width="0.9" />
<rect x="279.50" y="340.20" width="4.0" height="4.0" fill="#fff" stroke="#fa9448" stroke-width="1.1"/>
<g transform="translate(0,344.40) scale(1,1.05) translate(0,-344.40)"><text stroke="#1a1a1a" stroke-width="0.18" x="294.3" y="344.4" font-size="8.75" fill="#1a1a1a" font-style="italic">D<tspan font-size="8" dx="0" dy="-0.9" font-style="normal">*</tspan></text></g>
<line x1="272.30" y1="352.10" x2="278.30" y2="352.10" stroke="#b4b4b4" stroke-width="0.9" />
<line x1="284.70" y1="352.10" x2="290.60" y2="352.10" stroke="#b4b4b4" stroke-width="0.9" />
<circle cx="281.50" cy="352.10" r="2.3" fill="#fff" stroke="#8c8c8c" stroke-width="1.1"/>
<g transform="translate(0,355.50) scale(1,1.05) translate(0,-355.50)"><text stroke="#1a1a1a" stroke-width="0.18" x="294.30" y="355.50" font-size="8.75" fill="#1a1a1a" >Noise</text></g>
<g transform="translate(0,218.00) scale(1,1.05) translate(0,-218.00)"><text stroke="#000" stroke-width="0.18" x="206.2" y="218" font-size="14" font-weight="bold" fill="#000">e</text></g>
<polyline points="513.60,339.30 529.50,343.40 552.20,276.80 567.90,291.20 600.20,329.10 628.90,340.80" fill="none" stroke="#f06a6a" stroke-width="1.1" stroke-linejoin="round" />
<polyline points="513.60,276.30 529.60,259.90 552.20,248.30 567.90,284.40 600.20,333.20 628.90,361.90" fill="none" stroke="#4a8fe3" stroke-width="1.1" stroke-linejoin="round" />
<circle cx="513.60" cy="339.30" r="3.15" fill="#fff"/>
<circle cx="513.60" cy="339.30" r="2.3" fill="#fff" stroke="#f06a6a" stroke-width="0.9"/>
<circle cx="529.50" cy="343.40" r="3.15" fill="#fff"/>
<circle cx="529.50" cy="343.40" r="2.3" fill="#fff" stroke="#f06a6a" stroke-width="0.9"/>
<circle cx="552.20" cy="276.80" r="3.15" fill="#fff"/>
<circle cx="552.20" cy="276.80" r="2.3" fill="#fff" stroke="#f06a6a" stroke-width="0.9"/>
<circle cx="567.90" cy="291.20" r="3.15" fill="#fff"/>
<circle cx="567.90" cy="291.20" r="2.3" fill="#fff" stroke="#f06a6a" stroke-width="0.9"/>
<circle cx="600.20" cy="329.10" r="3.15" fill="#fff"/>
<circle cx="600.20" cy="329.10" r="2.3" fill="#fff" stroke="#f06a6a" stroke-width="0.9"/>
<circle cx="628.90" cy="340.80" r="3.15" fill="#fff"/>
<circle cx="628.90" cy="340.80" r="2.3" fill="#fff" stroke="#f06a6a" stroke-width="0.9"/>
<rect x="510.85" y="273.55" width="5.50" height="5.50" fill="#fff"/>
<rect x="511.70" y="274.40" width="3.8" height="3.8" fill="#fff" stroke="#4a8fe3" stroke-width="0.9"/>
<rect x="526.85" y="257.15" width="5.50" height="5.50" fill="#fff"/>
<rect x="527.70" y="258.00" width="3.8" height="3.8" fill="#fff" stroke="#4a8fe3" stroke-width="0.9"/>
<rect x="549.45" y="245.55" width="5.50" height="5.50" fill="#fff"/>
<rect x="550.30" y="246.40" width="3.8" height="3.8" fill="#fff" stroke="#4a8fe3" stroke-width="0.9"/>
<rect x="565.15" y="281.65" width="5.50" height="5.50" fill="#fff"/>
<rect x="566.00" y="282.50" width="3.8" height="3.8" fill="#fff" stroke="#4a8fe3" stroke-width="0.9"/>
<rect x="597.45" y="330.45" width="5.50" height="5.50" fill="#fff"/>
<rect x="598.30" y="331.30" width="3.8" height="3.8" fill="#fff" stroke="#4a8fe3" stroke-width="0.9"/>
<rect x="626.15" y="359.15" width="5.50" height="5.50" fill="#fff"/>
<rect x="627.00" y="360.00" width="3.8" height="3.8" fill="#fff" stroke="#4a8fe3" stroke-width="0.9"/>
<path d="M498.00,220.50 H641.50 V370.50 H498.00 Z" fill="none" stroke="#2e2e2e" stroke-width="1" stroke-linejoin="miter"/>
<line x1="497.60" y1="370.50" x2="497.60" y2="371.90" stroke="#2e2e2e" stroke-width="0.8" />
<line x1="513.60" y1="370.50" x2="513.60" y2="372.80" stroke="#2e2e2e" stroke-width="0.8" />
<line x1="529.60" y1="370.50" x2="529.60" y2="371.90" stroke="#2e2e2e" stroke-width="0.8" />
<line x1="545.60" y1="370.50" x2="545.60" y2="372.80" stroke="#2e2e2e" stroke-width="0.8" />
<line x1="561.60" y1="370.50" x2="561.60" y2="371.90" stroke="#2e2e2e" stroke-width="0.8" />
<line x1="577.60" y1="370.50" x2="577.60" y2="372.80" stroke="#2e2e2e" stroke-width="0.8" />
<line x1="593.60" y1="370.50" x2="593.60" y2="371.90" stroke="#2e2e2e" stroke-width="0.8" />
<line x1="609.60" y1="370.50" x2="609.60" y2="372.80" stroke="#2e2e2e" stroke-width="0.8" />
<line x1="625.60" y1="370.50" x2="625.60" y2="371.90" stroke="#2e2e2e" stroke-width="0.8" />
<line x1="641.60" y1="370.50" x2="641.60" y2="372.80" stroke="#2e2e2e" stroke-width="0.8" />
<g transform="translate(0,384.20) scale(1,1.05) translate(0,-384.20)"><text stroke="#1a1a1a" stroke-width="0.18" x="513.60" y="384.20" font-size="9.75" text-anchor="middle" fill="#1a1a1a" >10</text></g>
<g transform="translate(0,384.20) scale(1,1.05) translate(0,-384.20)"><text stroke="#1a1a1a" stroke-width="0.18" x="545.60" y="384.20" font-size="9.75" text-anchor="middle" fill="#1a1a1a" >20</text></g>
<g transform="translate(0,384.20) scale(1,1.05) translate(0,-384.20)"><text stroke="#1a1a1a" stroke-width="0.18" x="577.60" y="384.20" font-size="9.75" text-anchor="middle" fill="#1a1a1a" >30</text></g>
<g transform="translate(0,384.20) scale(1,1.05) translate(0,-384.20)"><text stroke="#1a1a1a" stroke-width="0.18" x="609.60" y="384.20" font-size="9.75" text-anchor="middle" fill="#1a1a1a" >40</text></g>
<g transform="translate(0,384.20) scale(1,1.05) translate(0,-384.20)"><text stroke="#1a1a1a" stroke-width="0.18" x="641.60" y="384.20" font-size="9.75" text-anchor="middle" fill="#1a1a1a" >50</text></g>
<line x1="495.70" y1="220.20" x2="498.00" y2="220.20" stroke="#2e2e2e" stroke-width="0.8" />
<line x1="496.60" y1="233.90" x2="498.00" y2="233.90" stroke="#2e2e2e" stroke-width="0.8" />
<line x1="495.70" y1="247.60" x2="498.00" y2="247.60" stroke="#2e2e2e" stroke-width="0.8" />
<line x1="496.60" y1="261.30" x2="498.00" y2="261.30" stroke="#2e2e2e" stroke-width="0.8" />
<line x1="495.70" y1="275.00" x2="498.00" y2="275.00" stroke="#2e2e2e" stroke-width="0.8" />
<line x1="496.60" y1="288.70" x2="498.00" y2="288.70" stroke="#2e2e2e" stroke-width="0.8" />
<line x1="495.70" y1="302.40" x2="498.00" y2="302.40" stroke="#2e2e2e" stroke-width="0.8" />
<line x1="496.60" y1="316.10" x2="498.00" y2="316.10" stroke="#2e2e2e" stroke-width="0.8" />
<line x1="495.70" y1="329.80" x2="498.00" y2="329.80" stroke="#2e2e2e" stroke-width="0.8" />
<line x1="496.60" y1="343.50" x2="498.00" y2="343.50" stroke="#2e2e2e" stroke-width="0.8" />
<line x1="495.70" y1="357.20" x2="498.00" y2="357.20" stroke="#2e2e2e" stroke-width="0.8" />
<g transform="translate(0,224.10) scale(1,1.05) translate(0,-224.10)"><text stroke="#1a1a1a" stroke-width="0.18" x="490.50" y="224.10" font-size="9.75" text-anchor="end" fill="#1a1a1a" >6</text></g>
<g transform="translate(0,278.90) scale(1,1.05) translate(0,-278.90)"><text stroke="#1a1a1a" stroke-width="0.18" x="490.50" y="278.90" font-size="9.75" text-anchor="end" fill="#1a1a1a" >4</text></g>
<g transform="translate(0,333.70) scale(1,1.05) translate(0,-333.70)"><text stroke="#1a1a1a" stroke-width="0.18" x="490.50" y="333.70" font-size="9.75" text-anchor="end" fill="#1a1a1a" >2</text></g>
<line x1="640.10" y1="362.74" x2="641.50" y2="362.74" stroke="#2e2e2e" stroke-width="0.8" />
<line x1="640.10" y1="355.68" x2="641.50" y2="355.68" stroke="#2e2e2e" stroke-width="0.8" />
<line x1="640.10" y1="350.21" x2="641.50" y2="350.21" stroke="#2e2e2e" stroke-width="0.8" />
<line x1="640.10" y1="345.73" x2="641.50" y2="345.73" stroke="#2e2e2e" stroke-width="0.8" />
<line x1="640.10" y1="341.95" x2="641.50" y2="341.95" stroke="#2e2e2e" stroke-width="0.8" />
<line x1="640.10" y1="338.68" x2="641.50" y2="338.68" stroke="#2e2e2e" stroke-width="0.8" />
<line x1="640.10" y1="335.79" x2="641.50" y2="335.79" stroke="#2e2e2e" stroke-width="0.8" />
<line x1="639.20" y1="333.20" x2="641.50" y2="333.20" stroke="#2e2e2e" stroke-width="0.8" />
<line x1="640.10" y1="316.19" x2="641.50" y2="316.19" stroke="#2e2e2e" stroke-width="0.8" />
<line x1="640.10" y1="306.24" x2="641.50" y2="306.24" stroke="#2e2e2e" stroke-width="0.8" />
<line x1="640.10" y1="299.18" x2="641.50" y2="299.18" stroke="#2e2e2e" stroke-width="0.8" />
<line x1="640.10" y1="293.71" x2="641.50" y2="293.71" stroke="#2e2e2e" stroke-width="0.8" />
<line x1="640.10" y1="289.23" x2="641.50" y2="289.23" stroke="#2e2e2e" stroke-width="0.8" />
<line x1="640.10" y1="285.45" x2="641.50" y2="285.45" stroke="#2e2e2e" stroke-width="0.8" />
<line x1="640.10" y1="282.18" x2="641.50" y2="282.18" stroke="#2e2e2e" stroke-width="0.8" />
<line x1="640.10" y1="279.29" x2="641.50" y2="279.29" stroke="#2e2e2e" stroke-width="0.8" />
<line x1="639.20" y1="276.70" x2="641.50" y2="276.70" stroke="#2e2e2e" stroke-width="0.8" />
<line x1="640.10" y1="259.69" x2="641.50" y2="259.69" stroke="#2e2e2e" stroke-width="0.8" />
<line x1="640.10" y1="249.74" x2="641.50" y2="249.74" stroke="#2e2e2e" stroke-width="0.8" />
<line x1="640.10" y1="242.68" x2="641.50" y2="242.68" stroke="#2e2e2e" stroke-width="0.8" />
<line x1="640.10" y1="237.21" x2="641.50" y2="237.21" stroke="#2e2e2e" stroke-width="0.8" />
<line x1="640.10" y1="232.73" x2="641.50" y2="232.73" stroke="#2e2e2e" stroke-width="0.8" />
<line x1="640.10" y1="228.95" x2="641.50" y2="228.95" stroke="#2e2e2e" stroke-width="0.8" />
<line x1="640.10" y1="225.68" x2="641.50" y2="225.68" stroke="#2e2e2e" stroke-width="0.8" />
<line x1="640.10" y1="222.79" x2="641.50" y2="222.79" stroke="#2e2e2e" stroke-width="0.8" />
<line x1="639.20" y1="220.20" x2="641.50" y2="220.20" stroke="#2e2e2e" stroke-width="0.8" />
<g transform="translate(0,224.10) scale(1,1.05) translate(0,-224.10)"><text stroke="#1a1a1a" stroke-width="0.18" x="646.80" y="224.10" font-size="9.75" fill="#1a1a1a">10<tspan font-size="7.0" dx="0.5" dy="-4.2">11</tspan></text></g>
<g transform="translate(0,280.60) scale(1,1.05) translate(0,-280.60)"><text stroke="#1a1a1a" stroke-width="0.18" x="646.80" y="280.60" font-size="9.75" fill="#1a1a1a">10<tspan font-size="7.0" dx="0.5" dy="-4.2">10</tspan></text></g>
<g transform="translate(0,337.10) scale(1,1.05) translate(0,-337.10)"><text stroke="#1a1a1a" stroke-width="0.18" x="646.80" y="337.10" font-size="9.75" fill="#1a1a1a">10<tspan font-size="7.0" dx="0.5" dy="-4.2">9</tspan></text></g>
<text stroke="#1a1a1a" stroke-width="0.18" transform="translate(476.00,294.40) rotate(-90) scale(1,1.05)" font-size="10" text-anchor="middle" letter-spacing="0.07" fill="#1a1a1a">Responsivity (A/W)</text>
<text stroke="#1a1a1a" stroke-width="0.18" transform="translate(682.30,295.70) rotate(-90) scale(1,1.05)" font-size="10" text-anchor="middle" letter-spacing="0.22" fill="#1a1a1a">Detectivity (cm·Hz<tspan font-size="7.0" dy="-4">0.5</tspan><tspan dy="4">/W)</tspan></text>
<g transform="translate(0,400.80) scale(1,1.05) translate(0,-400.80)"><text stroke="#1a1a1a" stroke-width="0.18" x="570.2" y="400.8" font-size="10" text-anchor="middle" letter-spacing="0.32" fill="#1a1a1a">MoTe<tspan font-size="7.0" dy="2.3">2</tspan><tspan dy="-2.3"> thickness (nm)</tspan></text></g>
<line x1="589.40" y1="232.90" x2="596.70" y2="232.90" stroke="#f06a6a" stroke-width="1.3" />
<line x1="603.90" y1="232.90" x2="610.90" y2="232.90" stroke="#f06a6a" stroke-width="1.3" />
<circle cx="600.30" cy="232.90" r="2.6" fill="#fff" stroke="#f06a6a" stroke-width="1.0"/>
<g transform="translate(0,236.10) scale(1,1.05) translate(0,-236.10)"><text stroke="#1a1a1a" stroke-width="0.18" x="614.50" y="236.10" font-size="8.75" fill="#1a1a1a" font-style="italic">R</text></g>
<line x1="589.40" y1="244.30" x2="596.70" y2="244.30" stroke="#4a8fe3" stroke-width="1.3" />
<line x1="603.90" y1="244.30" x2="610.90" y2="244.30" stroke="#4a8fe3" stroke-width="1.3" />
<rect x="598.30" y="242.30" width="4.0" height="4.0" fill="#fff" stroke="#4a8fe3" stroke-width="1.0"/>
<g transform="translate(0,247.60) scale(1,1.05) translate(0,-247.60)"><text stroke="#1a1a1a" stroke-width="0.18" x="614.5" y="247.6" font-size="8.75" fill="#1a1a1a" font-style="italic">D<tspan font-size="8" dx="0" dy="-0.9" font-style="normal">*</tspan></text></g>
<line x1="536.80" y1="316.40" x2="516.34" y2="316.40" stroke="#f06a6a" stroke-width="1.1" />
<path d="M512.70,316.40 L517.90,314.80 L516.86,316.40 L517.90,318.00 Z" fill="#f06a6a"/>
<line x1="567.10" y1="273.60" x2="586.66" y2="273.60" stroke="#4a8fe3" stroke-width="1.1" />
<path d="M590.30,273.60 L585.10,272.00 L586.14,273.60 L585.10,275.20 Z" fill="#4a8fe3"/>
<g transform="translate(0,219.30) scale(1,1.05) translate(0,-219.30)"><text stroke="#000" stroke-width="0.18" x="465.3" y="219.3" font-size="14" font-weight="bold" fill="#000">f</text></g>
</svg></body></html>
